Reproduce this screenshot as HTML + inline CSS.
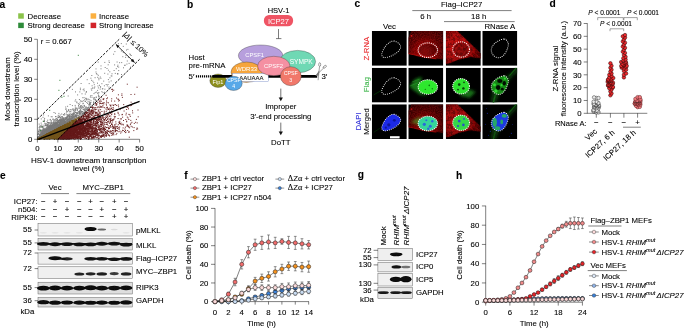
<!DOCTYPE html>
<html><head><meta charset="utf-8"><title>Figure</title>
<style>
html,body{margin:0;padding:0;background:#fff;}
svg{display:block;}
text{font-family:"Liberation Sans", sans-serif;font-size:7.8px;fill:#000;stroke:#000;stroke-width:0.09px;}
</style></head><body>
<svg width="685" height="329" viewBox="0 0 685 329">
<rect width="685" height="329" fill="#fff"/>
<text x="-0.40" y="7.60" style="font-size:10.2px;font-weight:bold;">a</text>
<rect x="18.2" y="13.3" width="5.6" height="5.4" fill="#8bc34a"/>
<text x="27.60" y="18.60">Decrease</text>
<rect x="18.2" y="22.7" width="5.6" height="5.4" fill="#2e8b3a"/>
<text x="27.60" y="28.00">Strong decrease</text>
<rect x="90.6" y="13.3" width="5.6" height="5.4" fill="#fbb040"/>
<text x="99.10" y="18.60">Increase</text>
<rect x="90.6" y="22.7" width="5.6" height="5.4" fill="#d2232a"/>
<text x="99.10" y="28.00">Strong increase</text>
<path d="M43.0 117.3h0M56.2 124.6h0M41.8 136.7h0M43.3 135.5h0M38.8 138.1h0M39.7 137.6h0M51.0 130.8h0M49.6 129.6h0M58.1 126.0h0M41.3 136.3h0M45.8 130.5h0M60.2 121.0h0M49.4 127.6h0M41.5 137.0h0M43.0 135.7h0M39.4 137.2h0M53.7 128.3h0M39.4 136.7h0M39.8 136.6h0M40.4 137.4h0M44.1 128.7h0M56.2 128.5h0M50.1 127.8h0M46.8 133.9h0M41.1 131.9h0M41.6 135.5h0M38.7 138.4h0M48.3 132.5h0M53.0 129.0h0M44.8 133.2h0M38.9 137.6h0M49.9 126.8h0M44.3 130.8h0M53.3 129.0h0M44.0 134.7h0M51.9 128.0h0M38.8 138.0h0M58.9 125.0h0M42.4 136.0h0M46.3 131.1h0M46.1 133.6h0M38.6 136.5h0M54.6 125.4h0M63.7 123.2h0M75.6 108.3h0M57.6 122.7h0M40.8 135.9h0M48.5 131.4h0M43.0 135.2h0M44.1 134.3h0M45.4 134.8h0M52.5 127.1h0M38.7 138.1h0M48.3 132.4h0M58.6 122.6h0M55.4 128.1h0M52.8 130.3h0M77.5 110.7h0M41.3 136.6h0M50.3 131.7h0M54.1 127.4h0M51.1 129.0h0M56.4 127.7h0M89.1 101.9h0M45.3 131.3h0M39.3 138.2h0M49.5 128.7h0M54.8 126.4h0M58.1 125.7h0M52.2 126.6h0M42.1 136.4h0M45.4 132.7h0M76.6 116.1h0M48.1 126.4h0M43.0 134.7h0M42.5 132.7h0M40.8 136.8h0M45.9 134.5h0M45.9 134.1h0M55.2 128.8h0M58.7 127.6h0M45.9 125.0h0M45.7 133.8h0M43.6 134.7h0M46.9 132.7h0M42.9 135.7h0M39.5 137.4h0M42.0 132.1h0M44.2 134.7h0M41.8 135.5h0M41.4 136.9h0M45.2 133.0h0M55.8 125.5h0M52.7 130.1h0M42.6 135.5h0M48.6 131.2h0M48.5 130.6h0M81.8 108.5h0M43.0 126.7h0M48.8 131.5h0M51.1 127.9h0M38.9 137.8h0M65.5 121.6h0M43.9 133.4h0M50.4 129.7h0M50.5 131.3h0M47.4 130.9h0M58.1 126.5h0M43.4 133.8h0M48.8 132.9h0M52.2 130.3h0M46.4 133.6h0M53.8 125.1h0M50.7 128.7h0M64.5 120.4h0M57.2 127.9h0M46.5 134.0h0M38.7 138.3h0M66.1 118.4h0M45.9 133.6h0M45.3 131.3h0M43.1 135.2h0M51.1 129.8h0M40.7 135.7h0M48.2 124.6h0M62.5 117.0h0M56.7 127.0h0M44.5 135.1h0M50.0 130.1h0M54.2 130.2h0M41.3 135.8h0M41.4 136.0h0M43.9 133.0h0M53.2 130.6h0M44.6 132.4h0M57.6 127.2h0M41.8 135.9h0M42.2 136.2h0M44.8 133.7h0M41.9 135.5h0M58.9 125.5h0M43.7 135.7h0M76.2 116.2h0M57.6 123.0h0M40.1 134.7h0M45.5 133.6h0M48.7 131.9h0M53.6 130.2h0M67.1 117.3h0M66.4 120.8h0M51.3 127.5h0M56.1 126.4h0M40.7 137.1h0M40.5 137.2h0M44.9 132.6h0M55.6 126.4h0M46.1 133.7h0M50.0 129.0h0M49.9 127.9h0M57.5 126.0h0M41.8 134.6h0M50.3 130.2h0M44.7 129.3h0M82.0 113.1h0M39.9 137.2h0M45.5 132.8h0M54.6 128.6h0M38.9 134.5h0M61.3 125.5h0M39.1 138.2h0M49.9 131.8h0M38.4 133.3h0M46.1 125.4h0M44.8 135.0h0M61.7 125.9h0M51.3 128.8h0M89.6 104.7h0M50.6 125.5h0M44.1 131.4h0M59.1 127.4h0M56.1 128.2h0M44.3 133.9h0M49.0 129.7h0M58.3 125.1h0M50.6 131.1h0M40.1 137.0h0M69.0 118.8h0M52.0 128.3h0M44.1 134.4h0M42.9 135.1h0M37.8 137.6h0M47.3 132.6h0M44.7 131.5h0M72.7 113.8h0M41.1 137.1h0M40.4 135.8h0M39.2 124.1h0M41.0 137.1h0M50.5 130.6h0M40.8 133.3h0M43.3 133.0h0M43.5 135.3h0M59.8 125.3h0M48.8 132.5h0M73.8 110.5h0M58.5 125.2h0M49.0 130.7h0M42.5 136.3h0M45.5 133.1h0M42.0 132.6h0M41.5 136.5h0M63.8 121.2h0M59.4 124.7h0M79.4 112.4h0M51.9 127.0h0M41.1 136.3h0M51.3 127.0h0M51.7 129.8h0M51.8 131.4h0M48.2 132.3h0M41.9 135.5h0M42.4 135.8h0M40.5 136.4h0M60.8 125.8h0M55.2 129.4h0M45.4 132.2h0M54.7 127.5h0M70.7 118.8h0M47.7 131.1h0M46.2 132.5h0M58.4 125.0h0M62.3 119.8h0M38.3 137.4h0M42.9 135.3h0M95.5 99.3h0M52.5 127.2h0M44.2 132.8h0M54.5 129.6h0M60.5 123.2h0M66.0 108.8h0M37.9 138.9h0M44.4 132.7h0M56.1 116.7h0M79.1 108.5h0M49.1 132.8h0M45.2 133.4h0M54.2 124.1h0M55.5 116.6h0M66.1 123.6h0M44.9 133.3h0M79.9 113.1h0M43.3 133.9h0M47.7 131.7h0M51.5 130.1h0M39.6 138.0h0M51.2 127.1h0M85.8 107.8h0M40.6 137.5h0M55.7 124.6h0M55.8 126.9h0M64.6 121.8h0M57.2 127.7h0M43.4 135.6h0M47.9 132.2h0M45.4 131.6h0M44.0 134.5h0M44.2 134.4h0M46.8 133.5h0M53.2 129.9h0M60.3 122.8h0M45.1 131.1h0M49.3 129.4h0M46.6 132.3h0M50.0 127.8h0M40.3 127.0h0M48.8 128.3h0M62.7 120.3h0M67.9 116.4h0M40.5 136.9h0M69.4 116.2h0M50.7 124.5h0M76.9 108.1h0M52.5 129.5h0M50.2 130.1h0M50.0 131.4h0M67.0 121.0h0M44.9 133.4h0M39.8 137.7h0M39.1 137.3h0M40.5 136.9h0M42.8 133.7h0M52.1 131.1h0M40.7 135.2h0M42.0 136.1h0M47.8 133.1h0M41.9 136.7h0M42.5 136.5h0M73.3 112.1h0M74.7 118.4h0M38.4 136.9h0M54.5 126.8h0M45.4 134.9h0M100.2 89.1h0M51.9 124.5h0M42.3 133.0h0M41.4 136.5h0M47.3 130.2h0M67.1 121.3h0M50.0 125.7h0M62.3 124.2h0M46.5 133.4h0M43.2 135.2h0M61.4 120.2h0M46.3 125.1h0M39.1 138.0h0M46.1 133.4h0M42.1 130.1h0M52.1 129.0h0M47.7 132.0h0M47.4 131.9h0M44.5 134.7h0M59.2 120.4h0M45.2 135.1h0M56.0 125.1h0M40.6 132.1h0M47.9 132.7h0M49.2 131.7h0M73.4 110.0h0M40.4 135.9h0M54.7 127.0h0M46.0 134.2h0M58.5 126.8h0M42.2 135.6h0M62.2 123.5h0M47.5 130.3h0M49.1 131.4h0M41.4 136.2h0M49.0 131.5h0M50.9 131.7h0M41.7 135.3h0M51.1 131.1h0M86.2 106.9h0M44.6 132.1h0M60.6 123.1h0M47.7 133.5h0M42.4 131.7h0M74.7 118.0h0M70.7 121.1h0M46.3 130.6h0M80.1 115.6h0M47.6 131.1h0M45.0 132.9h0M38.3 138.3h0M45.1 131.9h0M49.6 130.5h0M53.6 125.2h0M41.7 135.1h0M44.6 134.3h0M72.5 117.3h0M50.2 127.7h0M45.6 133.0h0M49.5 125.2h0M50.0 127.4h0M72.4 115.6h0M60.6 124.2h0M55.2 129.3h0M56.0 127.9h0M48.7 131.3h0M72.7 118.2h0M86.8 102.5h0M43.2 134.9h0M39.5 137.4h0M45.3 132.4h0M38.4 137.1h0M47.0 125.0h0M56.4 127.4h0M85.5 109.0h0M49.7 131.6h0M39.7 137.0h0M55.9 126.6h0M37.8 138.8h0M42.7 135.0h0M39.7 137.0h0M42.1 134.3h0M61.0 119.5h0M40.8 137.1h0M63.3 119.9h0M47.6 133.3h0M74.5 111.9h0M44.5 130.8h0M47.6 132.7h0M41.4 135.5h0M40.1 137.7h0M47.5 131.8h0M71.6 119.0h0M42.2 134.4h0M53.6 129.1h0M41.3 134.5h0M41.3 136.2h0M50.4 131.1h0M38.3 138.8h0M41.3 135.5h0M55.7 129.2h0M37.9 137.2h0M61.5 120.4h0M54.2 129.9h0M80.3 110.0h0M57.3 119.1h0M42.2 135.3h0M39.7 129.0h0M50.4 132.1h0M51.6 125.7h0M43.4 135.9h0M65.1 122.0h0M39.1 137.9h0M54.3 129.4h0M53.1 127.7h0M37.8 139.0h0M41.8 134.1h0M38.5 137.2h0M44.4 135.1h0M44.5 134.4h0M45.4 132.4h0M55.2 121.0h0M44.3 133.8h0M45.5 130.3h0M81.4 111.1h0M39.6 135.5h0M52.9 125.8h0M63.7 125.1h0M46.5 131.8h0M44.9 134.5h0M43.7 134.6h0M65.6 123.2h0M74.0 113.3h0M51.0 129.9h0M44.9 132.7h0M40.2 137.5h0M40.5 131.8h0M47.6 133.3h0M50.3 131.8h0M75.7 112.5h0M38.8 138.4h0M43.1 134.7h0M61.2 123.2h0M39.6 136.5h0M39.6 136.5h0M42.1 135.7h0M39.6 137.4h0M65.7 123.6h0M43.2 135.0h0M93.9 98.7h0M47.0 130.2h0M40.8 136.5h0M46.5 133.1h0M41.4 135.6h0M41.5 130.3h0M41.3 136.7h0M43.3 134.7h0M57.1 126.0h0M49.6 131.0h0M80.1 107.9h0M42.8 135.0h0M41.1 137.0h0M39.9 137.8h0M64.8 122.9h0M49.9 128.1h0M43.1 133.9h0M41.4 136.7h0M38.5 138.2h0M39.5 136.5h0M53.6 130.0h0M44.1 135.7h0M42.1 134.2h0M47.1 130.5h0M45.4 133.6h0M42.6 136.2h0M53.1 123.6h0M43.6 133.6h0M50.0 123.8h0M48.7 129.1h0M48.9 128.6h0M45.1 134.3h0M72.4 118.2h0M54.6 127.7h0M42.9 135.9h0M38.2 138.4h0M52.4 124.2h0M49.1 131.8h0M43.6 134.5h0M45.1 133.1h0M46.8 133.0h0M45.0 134.7h0M70.3 121.3h0M39.0 137.8h0M44.6 131.8h0M47.6 132.4h0M51.7 122.3h0M40.7 135.9h0M45.9 133.6h0M52.2 129.1h0M69.7 114.6h0M59.5 116.3h0M53.1 128.2h0M39.2 137.1h0M41.1 135.9h0M44.2 131.9h0M41.1 136.7h0M41.8 135.1h0M43.1 134.7h0M43.7 134.4h0M48.5 133.2h0M51.6 129.2h0M39.6 138.0h0M48.8 129.5h0M43.4 135.5h0M72.7 119.8h0M62.7 125.3h0M44.9 132.8h0M46.7 132.0h0M45.4 134.2h0M56.9 125.8h0M43.5 135.5h0M46.2 132.8h0M58.7 124.9h0M63.8 114.9h0M50.2 131.2h0M68.2 118.2h0M66.7 111.4h0M66.6 117.0h0M51.0 128.8h0M63.8 120.9h0M46.8 131.9h0M43.4 134.8h0M44.7 129.7h0M39.1 137.7h0M43.6 135.4h0M48.8 127.1h0M39.0 136.6h0M42.6 136.1h0M50.5 131.5h0M51.8 130.6h0M70.0 119.8h0M64.0 119.1h0M42.9 133.1h0M42.5 135.2h0M44.3 134.8h0M42.8 133.8h0M50.2 127.3h0M56.1 124.9h0M47.1 131.3h0M46.6 131.8h0M42.4 136.6h0M58.8 125.8h0M38.4 137.3h0M57.5 128.1h0M42.5 135.9h0M41.0 136.4h0M51.2 129.2h0M41.4 135.4h0M38.0 137.7h0M41.5 134.5h0M58.3 124.4h0M51.0 129.9h0M43.8 131.0h0M44.8 133.3h0M38.1 138.5h0M52.0 125.8h0M45.2 134.5h0M39.6 137.4h0M43.3 136.0h0M49.3 128.8h0M55.3 124.4h0M42.5 130.7h0M58.0 123.9h0M38.0 138.8h0M56.8 126.3h0M38.8 138.3h0M47.5 130.4h0M73.5 119.8h0M51.6 131.3h0M40.9 136.4h0M41.2 136.6h0M75.8 110.1h0M39.8 137.7h0M94.0 93.6h0M88.7 107.4h0M38.7 137.7h0M41.7 136.4h0M44.8 134.9h0M54.7 123.8h0M43.0 133.5h0M40.3 136.1h0M41.2 136.2h0M54.1 129.7h0M39.1 127.6h0M40.7 135.1h0M48.7 131.2h0M44.1 130.0h0M52.8 129.3h0M67.9 119.2h0M43.7 135.2h0M48.0 129.5h0M55.1 127.9h0M39.0 137.3h0M47.9 133.1h0M43.7 133.0h0M40.2 136.8h0M45.0 135.1h0M41.5 134.6h0M86.0 98.5h0M41.3 118.9h0M108.9 88.9h0M49.5 132.7h0M42.9 133.9h0M38.6 137.7h0M84.0 113.7h0M44.6 134.7h0M40.1 137.3h0M47.0 132.1h0M44.9 134.5h0M40.5 136.5h0M53.9 130.4h0M51.0 130.6h0M44.6 134.3h0M45.9 133.2h0M40.6 136.1h0M44.7 134.3h0M59.5 124.6h0M41.0 136.5h0M44.9 133.6h0M46.0 132.4h0M51.8 125.5h0M40.3 137.6h0M39.0 138.3h0M40.2 137.3h0M46.1 132.3h0M43.0 133.0h0M39.7 137.9h0M57.2 125.5h0M63.1 117.7h0M38.1 138.6h0M57.5 125.7h0M39.8 135.9h0M61.6 122.8h0M38.4 138.2h0M63.6 119.8h0M38.6 138.3h0M44.6 134.1h0M65.6 122.0h0M45.2 133.6h0M44.6 133.8h0M42.0 136.6h0M54.6 126.8h0M45.5 134.3h0M77.9 112.5h0M45.1 134.6h0M49.4 132.4h0M38.9 138.0h0M40.9 136.8h0M42.4 134.6h0M51.8 127.1h0M44.9 134.6h0M58.2 122.4h0M40.0 136.7h0M39.7 132.2h0M42.9 136.2h0M57.6 119.6h0M58.6 117.6h0M46.5 133.9h0M41.7 135.8h0M39.8 134.2h0M60.9 118.0h0M39.2 137.3h0M67.6 111.7h0M39.9 137.3h0M41.6 136.1h0M73.8 113.3h0M39.5 136.4h0M43.6 134.6h0M48.8 131.2h0M43.9 135.1h0M42.6 133.4h0M46.7 133.8h0M52.4 129.7h0M47.0 133.8h0M42.5 135.7h0M47.7 122.7h0M54.7 128.8h0M57.5 124.3h0M66.5 118.1h0M67.3 116.4h0M51.4 131.3h0M38.2 138.0h0M52.7 128.6h0M47.5 132.8h0M62.5 122.6h0M41.9 136.4h0M47.4 133.8h0M49.5 129.5h0M41.0 136.0h0M42.5 134.0h0M67.5 123.0h0M37.9 138.4h0M55.6 122.9h0M39.9 135.5h0M39.9 137.6h0M39.3 136.9h0M60.3 120.1h0M44.6 133.7h0M39.5 137.1h0M66.1 118.4h0M41.4 137.1h0M55.0 123.9h0M66.1 117.5h0M49.7 122.7h0M68.2 119.5h0M44.8 134.2h0M62.7 121.9h0M75.2 116.7h0M76.0 116.7h0M74.7 116.1h0M43.2 134.8h0M57.1 127.2h0M53.3 128.3h0M42.3 134.1h0M79.8 111.6h0M45.6 133.0h0M56.5 123.5h0M41.4 135.7h0M42.6 134.3h0M45.1 131.1h0M49.0 130.1h0M50.4 126.4h0M98.6 96.6h0M60.6 126.1h0M51.0 130.8h0M39.6 137.8h0M49.6 127.7h0M45.2 133.9h0M61.7 114.0h0M39.8 137.7h0M39.3 137.5h0M38.1 138.6h0M48.4 132.7h0M47.0 133.4h0M68.1 115.2h0M75.4 115.4h0M51.4 130.7h0M60.6 125.3h0M101.9 83.7h0M42.5 134.7h0M48.7 132.9h0M46.3 132.8h0M69.3 117.5h0M41.3 134.7h0M54.2 129.9h0M38.7 138.4h0M39.8 138.0h0M44.6 135.0h0M41.6 136.0h0M46.8 133.5h0M45.6 134.6h0M43.2 133.3h0M42.0 135.1h0M56.5 123.6h0M42.7 134.0h0M51.6 126.3h0M47.1 130.2h0M42.9 127.1h0M63.0 124.2h0M72.3 116.2h0M64.3 124.1h0M42.1 135.3h0M54.2 129.9h0M48.5 129.2h0M41.5 134.4h0M42.1 136.0h0M60.1 125.2h0M80.6 106.6h0M42.1 136.7h0M62.0 124.6h0M50.9 131.6h0M43.9 133.3h0M39.8 137.7h0M42.8 135.1h0M48.7 129.5h0M68.1 121.0h0M67.1 119.2h0M41.1 136.5h0M75.6 112.4h0M51.3 125.7h0M40.2 137.3h0M46.8 131.6h0M39.3 137.2h0M54.7 125.2h0M89.7 99.8h0M38.7 138.1h0M44.3 132.1h0M45.1 132.0h0M49.0 128.5h0M43.3 134.7h0M67.7 121.3h0M60.5 124.9h0M55.5 126.7h0M43.6 134.3h0M53.6 129.9h0M41.3 135.1h0M73.0 117.0h0M43.0 134.9h0M51.3 129.6h0M45.1 133.7h0M44.0 134.3h0M46.9 132.8h0M46.5 131.9h0M41.0 135.6h0M44.3 133.2h0M62.5 120.9h0M60.0 126.9h0M38.4 138.4h0M49.9 130.0h0M40.2 137.2h0M54.1 130.1h0M39.0 136.5h0M44.6 131.7h0M46.5 133.2h0M40.9 136.7h0M57.0 127.6h0M46.9 133.7h0M40.6 136.1h0M38.4 136.9h0M46.4 133.6h0M46.5 132.5h0M40.6 137.0h0M37.8 138.9h0M63.8 123.3h0M48.6 132.7h0M38.2 133.9h0M45.4 133.9h0M50.2 129.2h0M93.5 104.0h0M45.6 131.3h0M57.1 124.0h0M38.0 138.9h0M51.4 131.8h0M42.1 134.8h0M52.4 130.9h0M43.2 134.9h0M66.7 122.6h0M49.5 132.6h0M47.7 132.0h0M43.0 135.7h0M60.2 124.4h0M45.9 132.6h0M41.9 135.2h0M38.1 138.2h0M41.8 135.3h0M39.9 137.7h0M49.6 132.1h0M52.6 130.8h0M44.7 133.9h0M59.6 123.9h0M41.1 136.7h0M43.7 129.2h0M41.3 136.5h0M48.8 129.8h0M39.8 137.4h0M49.1 128.6h0M87.8 108.5h0M41.4 133.9h0M49.1 132.1h0M46.0 128.4h0M45.1 134.5h0M50.3 130.2h0M39.6 137.9h0M53.5 128.9h0M43.1 134.8h0M47.3 128.8h0M50.7 125.9h0M46.9 133.1h0M41.0 135.7h0M45.2 131.6h0M44.7 133.3h0M38.4 138.1h0M42.8 135.7h0M45.4 129.0h0M49.6 132.7h0M45.2 133.5h0M43.3 133.6h0M61.0 118.8h0M51.3 123.5h0M52.9 127.1h0M76.1 115.7h0M44.3 133.9h0M46.3 134.1h0M39.1 138.0h0M67.0 120.0h0M76.9 102.7h0M55.0 123.4h0M43.9 133.0h0M38.2 138.8h0M61.3 121.6h0M43.1 134.8h0M43.0 135.6h0M43.8 133.6h0M51.3 129.3h0M40.6 136.2h0M46.3 133.1h0M38.2 137.8h0M62.2 116.7h0M40.2 137.0h0M39.5 137.4h0M63.5 121.0h0M42.1 134.6h0M46.6 130.8h0M52.0 127.1h0M66.0 118.2h0M39.3 136.9h0M43.9 135.4h0M53.1 129.9h0M43.8 131.9h0M45.4 133.0h0M40.3 137.0h0M70.1 111.4h0M69.8 116.1h0M64.1 121.7h0M41.5 136.4h0M39.8 136.5h0M42.7 135.4h0M41.8 135.9h0M40.4 137.2h0M44.6 133.4h0M40.6 137.3h0M78.8 106.3h0M94.0 98.1h0M42.3 136.0h0M55.4 129.0h0M42.9 133.9h0M57.9 128.0h0M41.7 135.9h0M41.4 136.8h0M50.7 126.4h0M47.5 131.4h0M44.4 132.8h0M48.3 132.5h0M41.6 135.8h0M39.1 137.3h0M54.0 122.0h0M56.3 118.5h0M44.4 134.3h0M40.1 137.3h0M48.0 131.7h0M38.6 137.7h0M51.8 129.5h0M55.3 126.0h0M42.5 134.9h0M48.8 128.7h0M67.3 115.8h0M38.9 138.3h0M61.7 125.4h0M46.6 132.9h0M72.0 114.8h0M44.1 135.3h0M40.4 134.7h0M46.0 133.0h0M40.8 135.3h0M47.3 132.9h0M46.8 130.0h0M69.4 116.4h0M41.4 134.7h0M53.6 130.1h0M57.0 123.0h0M38.3 138.2h0M59.5 127.1h0M42.2 136.0h0M47.5 131.8h0M70.4 118.0h0M45.0 133.3h0M42.8 134.6h0M38.7 136.8h0M49.2 128.3h0M42.4 135.3h0M39.2 138.2h0M39.6 137.0h0M48.0 132.4h0M50.6 130.7h0M69.7 111.9h0M41.6 137.0h0M44.7 134.5h0M43.7 133.2h0M40.0 137.7h0M45.7 133.5h0M41.1 131.2h0M42.3 135.6h0M41.3 135.9h0M52.9 129.4h0M42.1 135.8h0M88.8 107.7h0M50.0 129.2h0M44.6 133.6h0M51.2 130.5h0M51.5 123.1h0M46.9 128.5h0M57.4 126.9h0M49.2 131.4h0M51.7 130.5h0M38.9 137.7h0M50.4 129.5h0M39.1 138.1h0M48.9 131.2h0M64.5 123.7h0M40.3 137.7h0M46.3 132.2h0M40.3 136.4h0M50.6 128.8h0M41.6 135.8h0M55.1 129.6h0M38.6 137.4h0M65.0 123.3h0M85.2 101.4h0M51.9 131.0h0M46.8 130.6h0M50.0 128.5h0M38.1 138.7h0M42.5 134.8h0M47.8 124.8h0M42.1 135.7h0M50.9 130.1h0M42.2 136.3h0M45.6 134.0h0M41.9 135.0h0M61.0 124.7h0M49.0 128.7h0M39.4 137.4h0M51.6 128.4h0M50.6 131.6h0M50.3 130.7h0M81.0 111.5h0M43.5 133.6h0M49.9 129.6h0M59.1 126.3h0M39.1 137.3h0M44.4 133.7h0M52.4 128.0h0M38.6 138.6h0M42.3 134.4h0M49.9 132.5h0M41.9 134.1h0M38.3 137.9h0M43.0 136.2h0M43.9 135.3h0M75.3 115.5h0M44.8 133.7h0M46.1 131.7h0M71.4 118.6h0M45.1 131.2h0M55.2 128.8h0M40.4 134.9h0M53.2 128.6h0M43.1 136.0h0M49.8 130.7h0M48.8 131.1h0M70.0 120.7h0M52.9 127.6h0M88.6 104.8h0M41.5 135.9h0M40.3 136.4h0M69.0 120.9h0M41.0 136.0h0M38.5 138.2h0M42.8 135.6h0M48.2 132.1h0M38.3 138.0h0M40.9 136.7h0M47.3 132.0h0M38.5 138.0h0M45.1 133.6h0M44.3 134.7h0M42.0 135.6h0M40.6 137.5h0M74.5 116.8h0M41.3 134.6h0M42.6 135.9h0M45.4 133.8h0M70.2 120.9h0M44.5 134.5h0M38.9 137.9h0M90.1 103.9h0M39.6 138.0h0M40.7 137.0h0M49.4 129.1h0M43.4 130.8h0M44.3 135.1h0M40.4 136.9h0M69.9 121.4h0M50.3 132.1h0M76.2 115.3h0M48.9 127.0h0M41.5 136.8h0M40.2 125.4h0M40.7 137.4h0M48.5 128.4h0M55.1 126.0h0M38.8 138.4h0M60.5 125.2h0M77.8 115.3h0M43.0 135.2h0M48.2 129.0h0M79.0 116.8h0M64.3 120.1h0M46.0 132.2h0M43.1 135.8h0M52.5 126.3h0M44.6 130.6h0M42.4 136.1h0M41.4 133.6h0M60.1 121.5h0M38.9 137.9h0M47.8 133.0h0M40.9 136.3h0M57.5 123.7h0M46.0 133.8h0M50.1 119.9h0M69.0 120.4h0M56.5 128.7h0M51.0 126.7h0M52.7 126.1h0M47.1 131.8h0M39.0 138.3h0M46.0 134.3h0M45.0 132.6h0M41.7 136.8h0M56.8 128.8h0M50.1 131.1h0M49.1 131.5h0M42.3 135.7h0M41.5 135.0h0M54.5 124.3h0M43.5 134.2h0M44.0 131.9h0M44.7 125.9h0M41.9 134.8h0M48.6 129.9h0M38.4 138.4h0M46.9 133.6h0M55.8 123.2h0M67.8 120.8h0M53.0 129.7h0M51.0 122.3h0M39.9 137.1h0M69.5 120.1h0M47.3 125.6h0M55.3 128.2h0M66.1 119.3h0M43.0 134.5h0M51.3 129.3h0M46.6 132.9h0M69.9 114.1h0M49.0 129.9h0M60.1 117.8h0M73.4 119.0h0M43.3 131.5h0M49.4 129.1h0M45.6 134.1h0M56.8 128.2h0M63.0 124.4h0M49.0 128.2h0M61.1 125.2h0M60.7 125.6h0M43.4 134.0h0M40.3 136.4h0M52.2 130.2h0M53.8 129.2h0M39.5 137.5h0M46.5 132.7h0M43.2 135.2h0M52.3 130.2h0M44.7 132.1h0M71.1 119.8h0M49.6 128.7h0M44.2 133.1h0M47.7 128.6h0M37.8 138.0h0M55.2 126.6h0M40.7 134.6h0M42.9 132.5h0M39.3 137.7h0M44.7 130.5h0M41.7 135.6h0M49.8 130.9h0M43.0 135.0h0M41.1 135.4h0M45.7 132.6h0M38.7 138.2h0M41.1 136.5h0M46.6 131.3h0M80.3 113.2h0M44.5 134.3h0M42.0 135.8h0M48.0 133.0h0M48.3 132.3h0M40.8 135.0h0M79.3 104.5h0M70.0 116.9h0M39.7 136.8h0M43.0 135.8h0M72.9 114.8h0M71.8 114.8h0M38.3 132.0h0M56.6 125.7h0M43.1 135.7h0M75.9 116.7h0M38.1 138.2h0M47.0 121.7h0M48.3 132.0h0M66.7 110.3h0M41.4 135.0h0M52.1 130.9h0M46.3 134.4h0M40.2 137.3h0M43.9 135.2h0M53.9 127.4h0M39.3 134.6h0M41.4 135.9h0M42.2 131.8h0M41.7 136.4h0M59.7 125.9h0M41.5 135.6h0M54.8 129.2h0M54.9 128.4h0M38.6 138.3h0M44.7 134.8h0M54.9 124.5h0M58.4 127.2h0M44.0 135.0h0M42.8 136.1h0M43.2 121.3h0M38.5 137.9h0M40.7 137.1h0M41.1 136.4h0M41.7 135.6h0M45.1 132.5h0M44.1 134.9h0M53.6 130.5h0M43.6 134.0h0M42.0 136.7h0M52.9 128.8h0M47.8 133.2h0M41.5 132.3h0M49.5 131.6h0M47.3 133.2h0M45.9 132.8h0M41.1 136.7h0M45.2 133.5h0M71.8 114.7h0M51.2 128.9h0M47.7 128.4h0M45.4 135.0h0M62.9 118.7h0M68.9 114.3h0M39.7 136.8h0M39.3 138.1h0M41.5 136.0h0M43.0 130.3h0M60.1 121.7h0M59.4 126.6h0M46.0 132.0h0M41.9 136.1h0M38.1 138.2h0M42.6 134.2h0M45.4 134.9h0M46.9 130.8h0M48.4 130.8h0M39.5 136.4h0M54.9 129.3h0M45.9 131.3h0M55.8 128.9h0M42.4 134.5h0M54.3 125.6h0M40.5 136.2h0M40.7 136.5h0M42.8 134.5h0M39.1 138.0h0M57.8 127.2h0M41.0 137.0h0M40.7 136.6h0M62.5 122.5h0M48.2 133.0h0M44.0 134.5h0M55.2 125.1h0M41.4 136.9h0M42.1 136.0h0M47.7 133.6h0M50.3 128.8h0M37.9 138.1h0M48.6 133.2h0M43.0 135.1h0M38.1 138.2h0M44.1 132.0h0M54.6 127.2h0M58.5 127.9h0M53.8 129.1h0M50.3 127.2h0M47.9 127.8h0M54.4 126.6h0M69.6 121.3h0M42.0 135.2h0M46.7 133.2h0M75.6 115.5h0M42.6 134.8h0M47.6 132.8h0M84.6 99.8h0M44.0 135.5h0M59.4 123.6h0M78.9 107.8h0M63.9 118.4h0M38.9 130.7h0M50.0 132.4h0M41.5 135.6h0M45.2 134.9h0M46.0 130.4h0M58.1 116.3h0M54.5 125.2h0M79.3 116.7h0M45.2 134.1h0M41.4 137.0h0M47.1 132.3h0M44.1 135.3h0M41.8 136.5h0M44.1 135.7h0M48.2 132.3h0M39.2 137.9h0M42.7 134.9h0M43.9 134.3h0M57.7 126.6h0M45.2 132.9h0M42.8 135.8h0M52.0 126.3h0M82.5 113.8h0M102.4 88.9h0M64.0 118.8h0M49.3 131.9h0M49.6 131.3h0M43.3 135.1h0M89.5 102.2h0M43.6 134.9h0M61.2 123.1h0M60.9 121.6h0M42.7 131.6h0M38.7 137.2h0M61.4 121.8h0M44.0 134.6h0M47.8 131.9h0M49.2 129.1h0M39.4 136.6h0M52.2 116.8h0M60.1 126.7h0M50.7 131.9h0M44.4 134.0h0M39.7 136.1h0M40.3 136.3h0M43.2 134.1h0M49.1 129.4h0M44.4 133.9h0M57.4 123.0h0M40.7 137.5h0M42.1 135.1h0M42.0 136.5h0M47.9 132.1h0M45.7 133.4h0M46.1 134.3h0M65.4 124.0h0M77.2 115.8h0M47.5 128.7h0M38.5 138.3h0M61.7 121.0h0M38.7 137.9h0M39.5 137.3h0M55.1 129.5h0M45.4 132.8h0M40.2 136.9h0M45.8 134.5h0M47.7 130.3h0M79.4 114.7h0M50.8 129.1h0M65.8 122.3h0M46.7 132.9h0M42.5 136.0h0M39.5 137.7h0M54.4 126.1h0M51.6 129.7h0M41.7 136.8h0M57.9 125.9h0M72.7 120.1h0M46.0 131.7h0M46.5 132.2h0M62.1 120.2h0M48.5 128.0h0M50.5 129.0h0M44.1 133.2h0M39.1 138.3h0M44.9 134.7h0M40.4 137.5h0M48.7 130.4h0M56.0 129.0h0M57.7 124.8h0M59.7 127.0h0M40.0 137.1h0M42.0 136.7h0M44.5 134.8h0M57.3 123.5h0M54.9 119.5h0M43.4 134.8h0M63.7 123.2h0M55.0 129.4h0M40.3 137.6h0M44.2 132.7h0M41.3 136.5h0M39.8 137.6h0M74.1 114.0h0M49.1 131.9h0M63.4 124.6h0M42.9 135.9h0M45.6 134.5h0M45.8 132.5h0M52.5 127.3h0M39.2 137.6h0M43.3 134.6h0M41.7 135.6h0M37.8 138.5h0M52.7 129.3h0M41.8 135.9h0M43.6 133.4h0M44.2 134.1h0M52.1 129.0h0M39.7 137.1h0M58.2 121.6h0M45.5 130.6h0M47.7 133.1h0M41.5 135.3h0M38.0 138.4h0M80.6 110.0h0M47.0 130.9h0M39.0 137.6h0M42.8 134.7h0M58.3 126.6h0M40.4 137.0h0M43.5 134.9h0M39.7 137.8h0M60.0 119.3h0M38.5 131.4h0M45.2 132.8h0M40.7 137.3h0M57.1 126.7h0M55.4 113.3h0M53.4 129.5h0M40.5 137.5h0M50.8 130.0h0M59.5 119.8h0M44.4 134.0h0M47.1 132.7h0M44.6 134.3h0M39.1 129.3h0M64.0 120.1h0M43.6 134.1h0M61.0 125.6h0M63.2 123.5h0M46.3 130.9h0M57.7 127.0h0M42.8 133.7h0M44.3 134.5h0M38.3 137.3h0M50.3 130.3h0M39.4 136.8h0M38.7 138.1h0M52.5 130.1h0M82.6 113.6h0M52.5 127.9h0M40.2 137.7h0M45.8 134.3h0M39.1 138.3h0M40.9 137.3h0M56.8 128.3h0M53.0 127.3h0M41.9 136.7h0M44.8 132.8h0M42.5 133.1h0M39.7 138.0h0M53.4 129.2h0M62.6 121.3h0M45.4 133.1h0M44.5 134.1h0M60.2 126.1h0M40.7 135.1h0M42.2 135.7h0M39.7 137.1h0M40.6 137.0h0M50.8 126.9h0M64.0 121.5h0M79.9 113.2h0M40.8 136.8h0M41.7 134.8h0M43.5 130.3h0M45.5 134.3h0M99.6 96.9h0M40.7 136.3h0M46.2 132.2h0M43.2 132.0h0M44.4 133.3h0M49.6 130.9h0M94.0 103.0h0M42.6 135.1h0M43.8 135.2h0M40.3 136.8h0M59.3 126.1h0M94.2 103.4h0M49.7 127.6h0M43.9 135.4h0M48.0 131.9h0M88.6 107.1h0M81.1 107.0h0M40.1 137.5h0M58.5 127.6h0M43.4 133.8h0M50.3 131.1h0M47.6 132.4h0M56.6 128.3h0M44.9 134.8h0M41.8 134.6h0M51.0 130.9h0M45.7 131.3h0M38.7 137.9h0M39.6 138.0h0M42.7 135.6h0M65.3 122.4h0M45.8 131.6h0M39.7 126.9h0M39.6 137.9h0M40.9 134.5h0M69.2 120.7h0M41.8 134.9h0M41.5 132.1h0M72.0 114.8h0M41.6 135.5h0M59.5 125.9h0M43.2 134.3h0M73.0 113.7h0M41.3 137.0h0M59.3 125.3h0M43.9 135.3h0M104.5 92.3h0M56.6 126.6h0M42.2 135.8h0M49.7 127.8h0M45.4 134.7h0M45.6 133.6h0M63.4 119.3h0M58.6 125.7h0M46.6 129.4h0M46.7 132.8h0M44.6 133.3h0M40.2 137.8h0M40.1 137.3h0M71.1 118.3h0M56.7 127.9h0M44.2 129.3h0M45.2 135.1h0M49.8 130.6h0M50.4 128.8h0M44.0 133.9h0M86.9 108.9h0M38.6 138.2h0M46.2 131.6h0M54.9 127.3h0M49.1 130.4h0M73.1 119.7h0M43.6 114.9h0M72.4 118.6h0M46.9 133.3h0M38.2 138.1h0M43.0 135.0h0M42.3 136.4h0M38.3 138.6h0M52.5 125.9h0M38.9 137.7h0M49.3 132.4h0M41.4 136.6h0M53.9 128.0h0M44.3 133.2h0M41.4 137.0h0M71.3 117.1h0M45.8 133.5h0M49.8 131.3h0M44.5 134.1h0M63.6 124.4h0M42.8 133.7h0M47.0 134.1h0M68.6 109.7h0M49.0 131.9h0M61.3 123.6h0M50.0 132.1h0M38.4 138.5h0M40.3 136.4h0M52.1 125.7h0M51.0 129.1h0M40.5 135.5h0M39.0 136.9h0M51.2 130.3h0M40.0 137.0h0M73.5 119.1h0M40.8 137.0h0M60.4 120.1h0M67.0 123.0h0M45.4 134.4h0M53.9 128.8h0M41.3 135.6h0M46.9 131.4h0M75.7 116.5h0M46.9 133.3h0M42.0 135.6h0M43.3 133.7h0M60.6 126.3h0M69.4 115.8h0M39.1 138.1h0M47.6 131.9h0M52.8 124.8h0M38.8 138.0h0M43.2 133.0h0M44.9 132.6h0M42.0 136.5h0M53.2 130.7h0M43.2 134.5h0M39.6 137.7h0M47.2 133.8h0M43.9 135.4h0M44.0 133.5h0M40.6 136.3h0M52.3 127.8h0M49.7 128.1h0M44.8 134.4h0M48.8 130.7h0M61.7 120.5h0M66.1 118.5h0M45.2 134.2h0M63.3 119.3h0M38.7 138.5h0M39.2 138.3h0M39.4 137.2h0M65.2 119.6h0M68.9 120.2h0M42.7 135.5h0M43.4 135.6h0M49.2 130.2h0M38.8 133.5h0M42.0 135.5h0M45.7 131.3h0M60.2 124.9h0M68.9 110.0h0M43.6 132.5h0M42.3 135.8h0M46.0 131.8h0M66.0 122.0h0M38.7 138.5h0M51.7 130.9h0M42.3 135.0h0M48.9 132.6h0M39.8 137.3h0M42.1 135.9h0M52.9 127.9h0M47.1 125.6h0M64.8 120.1h0M40.1 137.4h0M40.5 136.5h0M53.3 127.2h0M98.8 98.2h0M45.9 128.6h0M57.6 127.8h0M65.5 121.8h0M48.8 130.6h0M41.3 136.6h0M44.0 134.4h0M40.9 135.7h0M71.0 117.7h0M49.4 130.7h0M38.4 137.4h0M45.6 129.5h0M48.0 132.9h0M46.8 133.7h0M47.5 124.7h0M79.4 111.6h0M45.5 132.8h0M45.4 134.6h0M37.9 138.9h0M49.2 132.1h0M39.9 137.4h0M47.3 132.7h0M66.2 114.7h0M40.6 135.5h0M70.8 119.1h0M42.3 136.3h0M48.3 130.8h0M42.3 135.1h0M48.7 129.4h0M47.1 131.1h0M55.2 124.2h0M58.0 127.7h0M39.6 137.4h0M43.1 134.6h0M47.8 131.7h0M60.8 117.1h0M43.4 135.5h0M53.9 125.8h0M41.8 136.6h0M38.5 138.5h0M51.4 129.3h0M55.2 127.5h0M55.7 128.6h0M43.7 131.9h0M57.4 128.0h0M57.9 122.0h0M52.2 129.9h0M56.6 124.3h0M41.6 135.6h0M40.3 135.4h0M37.8 139.0h0M44.4 135.3h0M52.9 125.2h0M49.1 129.3h0M49.4 131.5h0M71.5 117.1h0M57.6 127.9h0M48.8 130.4h0M45.2 131.3h0M47.3 133.7h0M44.7 134.4h0M38.1 137.6h0M39.4 137.8h0M41.5 136.9h0M39.1 137.8h0M59.2 122.2h0M45.2 134.2h0M52.4 128.3h0M38.4 138.1h0M68.3 115.9h0M39.0 137.8h0M49.1 130.3h0M78.7 115.8h0M81.3 101.2h0M49.5 130.2h0M60.7 126.5h0M55.6 128.7h0M44.1 134.4h0M39.7 136.6h0M38.5 137.6h0M85.3 111.1h0M54.7 128.2h0M44.2 132.3h0M94.2 97.5h0M43.9 133.6h0M42.6 136.4h0M52.9 129.6h0M43.6 135.4h0M70.0 119.2h0M43.5 133.9h0M57.2 126.7h0M61.9 122.1h0M38.8 137.8h0M72.2 120.1h0M46.2 134.3h0M44.4 119.9h0M45.0 134.2h0M41.9 135.7h0M40.6 135.0h0M90.4 102.6h0M43.4 135.0h0M45.3 131.5h0M92.0 97.3h0M39.4 136.6h0M54.8 128.7h0M39.7 137.7h0M39.5 137.9h0M55.2 129.4h0M42.3 135.4h0M48.6 129.6h0M39.1 137.5h0M50.4 128.9h0M70.2 120.0h0M43.7 135.7h0M53.8 126.6h0M42.7 135.8h0M43.3 136.0h0M54.2 126.8h0M75.6 110.9h0M55.5 127.7h0M39.8 137.5h0M70.7 109.6h0M60.0 126.1h0M46.5 130.2h0M40.1 135.7h0M76.4 115.7h0M44.6 133.1h0M43.4 131.6h0M49.9 131.2h0M52.0 126.2h0M39.3 137.7h0M41.3 137.1h0M43.4 135.6h0M42.5 134.7h0M59.9 123.4h0M38.5 138.6h0M51.0 130.8h0M45.9 131.9h0M55.4 127.4h0M65.9 121.7h0M39.3 137.9h0M56.7 127.6h0M46.0 130.8h0M42.5 136.3h0M47.9 122.5h0M42.4 134.6h0M41.2 136.6h0M53.5 124.7h0M49.4 127.3h0M49.7 131.1h0M70.3 120.6h0M60.2 125.2h0M71.4 119.0h0M46.9 132.1h0M42.3 136.2h0M45.5 125.5h0M67.6 114.7h0M43.3 134.4h0M71.2 116.6h0M44.2 133.5h0M41.7 133.9h0M38.9 137.9h0M51.0 130.8h0M55.6 124.0h0M59.3 123.7h0M39.3 137.9h0M69.3 116.8h0M38.2 137.8h0M41.5 135.8h0M53.0 130.0h0M40.2 135.0h0M71.9 109.9h0M67.1 122.3h0M68.7 115.7h0M63.5 123.0h0M81.8 107.0h0M40.8 136.6h0M47.3 131.4h0M43.5 131.5h0M48.6 131.1h0M38.2 138.4h0M50.7 129.6h0M47.0 132.3h0M49.0 130.6h0M41.5 135.8h0M50.0 131.8h0M40.8 137.3h0M52.8 127.9h0M55.2 124.7h0M44.9 129.3h0M45.6 123.8h0M52.3 126.4h0M41.6 136.4h0M49.5 131.6h0M43.4 133.4h0M50.3 132.0h0M48.3 131.0h0M51.1 131.0h0M56.3 128.9h0M49.5 128.5h0M49.9 131.3h0M48.1 132.6h0M45.5 132.6h0M55.5 127.7h0M51.1 129.2h0M38.6 137.7h0M38.9 138.2h0M62.9 121.5h0M38.3 138.2h0M38.0 139.0h0M49.1 129.9h0M43.6 134.1h0M43.7 134.2h0M43.6 134.4h0M40.6 136.8h0M44.9 134.9h0M51.0 131.9h0M42.2 135.4h0M39.4 137.7h0M56.1 124.9h0M44.4 134.3h0M45.8 133.9h0M38.2 138.3h0M64.4 123.1h0M70.5 121.2h0M64.9 123.1h0M43.7 133.0h0M53.6 129.6h0M41.5 136.8h0M53.3 129.0h0M66.2 122.6h0M61.4 125.0h0M47.3 128.9h0M63.3 125.0h0M41.8 135.8h0M56.7 126.9h0M58.6 120.5h0M57.8 125.7h0M43.2 133.1h0M53.6 128.1h0M47.9 132.4h0M48.4 132.8h0M42.2 136.0h0M40.4 136.5h0M44.7 132.9h0M70.8 120.1h0M75.9 116.7h0M42.5 135.2h0M47.9 128.0h0M61.1 125.3h0M40.3 136.1h0M61.2 119.5h0M44.9 135.3h0M49.4 127.2h0M55.7 129.2h0M38.6 138.6h0M56.8 119.1h0M50.6 130.1h0M40.1 129.8h0M86.5 109.1h0M50.7 127.2h0M42.6 135.3h0M41.3 136.9h0M59.3 116.6h0M51.9 129.3h0M40.3 135.5h0M60.6 125.2h0M45.7 133.6h0M57.6 126.4h0M71.7 120.5h0M64.8 122.8h0M56.0 125.3h0M56.6 122.5h0M72.9 117.6h0M39.5 137.8h0M43.4 135.7h0M59.8 122.3h0M42.9 134.7h0M44.1 135.6h0M42.7 136.0h0M42.8 135.0h0M41.9 134.9h0M49.2 130.3h0M45.9 131.0h0M54.8 120.7h0M89.4 105.0h0M51.3 131.4h0M57.8 127.1h0M46.4 134.0h0M37.9 139.0h0M45.1 132.4h0M52.1 127.2h0M45.6 130.4h0M52.3 129.0h0M41.1 137.2h0M53.5 128.0h0M46.8 132.0h0M54.2 129.2h0M49.7 128.7h0M42.9 132.2h0M85.0 112.4h0M38.1 138.1h0M42.4 135.4h0M43.3 133.3h0M48.9 131.6h0M44.2 133.0h0M50.2 131.4h0M40.9 136.4h0M53.9 126.6h0M45.2 133.7h0M41.1 137.0h0M60.7 124.7h0M39.7 137.5h0M51.6 120.9h0M38.1 137.8h0M83.8 107.9h0M45.4 133.8h0M78.7 111.5h0M43.8 132.8h0M40.0 137.7h0M60.4 125.1h0M54.3 125.7h0M44.8 134.4h0M41.7 135.5h0M83.8 112.7h0M43.0 134.6h0M43.0 135.6h0M75.3 107.0h0M40.0 136.3h0M38.8 138.2h0M51.3 130.8h0M48.8 128.6h0M48.0 128.5h0M44.9 133.5h0M65.1 123.2h0M41.8 135.4h0M45.2 132.9h0M49.3 130.2h0M42.5 135.4h0M46.3 132.8h0M41.4 134.5h0M45.5 134.3h0M59.5 125.2h0M52.5 127.8h0M54.0 122.8h0M74.3 110.9h0M62.1 125.2h0M41.8 136.3h0M75.3 114.4h0M40.2 136.5h0M76.9 113.0h0M49.1 130.8h0M41.3 135.2h0M42.1 134.5h0M60.5 126.4h0M41.9 135.9h0M50.9 128.4h0M39.6 137.7h0M48.0 132.4h0M43.3 135.8h0M73.0 117.6h0M48.9 131.2h0M43.0 134.4h0M54.2 128.0h0M57.1 120.6h0M50.1 129.2h0M50.3 132.2h0M48.5 127.3h0M58.7 117.5h0M48.1 129.4h0M56.8 123.4h0M40.1 137.4h0M43.7 133.8h0M48.2 132.0h0M40.9 136.9h0M52.5 126.8h0M55.4 124.9h0M46.7 132.1h0M53.8 129.0h0M48.0 133.4h0M67.6 122.8h0M47.3 127.2h0M47.9 129.2h0M41.2 134.5h0M42.8 135.5h0M45.4 132.8h0M63.1 123.4h0M67.9 118.9h0M44.7 134.4h0M45.8 132.8h0M82.9 113.3h0M58.4 127.4h0M44.7 134.1h0M56.1 127.3h0M76.5 116.7h0M45.0 134.7h0M57.5 122.1h0M58.9 126.2h0M45.5 134.8h0M51.8 128.4h0M43.1 133.6h0M43.3 134.1h0M58.0 122.3h0M38.8 137.7h0M45.1 133.3h0M91.0 100.7h0M61.5 124.6h0M40.1 137.3h0M43.1 135.9h0M46.5 134.3h0M43.2 135.0h0M48.6 132.8h0M50.5 131.9h0M71.6 120.1h0M41.6 136.3h0M43.9 134.3h0M44.9 135.2h0M58.8 125.5h0M42.3 131.1h0M50.6 130.2h0M46.3 123.7h0M37.9 137.8h0M66.2 122.4h0M49.5 126.0h0M49.6 129.5h0M42.1 136.8h0M40.8 136.7h0M41.3 136.3h0M45.2 132.3h0M42.6 135.5h0M47.8 131.3h0M73.2 109.0h0M48.1 128.2h0M52.6 131.1h0M38.0 139.0h0M40.5 137.1h0M45.5 132.7h0M54.5 127.1h0M40.6 135.3h0M39.8 135.9h0M58.2 126.9h0M44.6 132.2h0M51.5 131.3h0M76.7 117.5h0M39.4 136.6h0M39.2 138.2h0M44.7 134.0h0M39.0 137.6h0M50.1 129.2h0M54.8 127.0h0M50.3 128.2h0M38.8 138.5h0M43.4 135.2h0M61.0 123.1h0M58.8 122.5h0M83.4 109.6h0M38.4 138.7h0M57.9 126.7h0M52.4 130.8h0M52.8 130.3h0M42.8 135.7h0M39.4 137.9h0M43.5 134.8h0M52.6 126.2h0M46.1 134.5h0M47.5 131.4h0M43.4 134.6h0M47.2 134.0h0M46.0 132.4h0M44.6 132.6h0M57.2 122.6h0M41.4 134.3h0M38.9 138.3h0M59.5 123.0h0M49.7 131.2h0M38.4 138.3h0M41.8 135.7h0M38.6 138.2h0M39.8 137.0h0M43.0 134.7h0M65.0 121.9h0M67.0 122.4h0M44.9 131.6h0M55.5 129.1h0M40.4 135.7h0M43.4 135.6h0M41.4 132.6h0M40.6 135.5h0M79.5 113.6h0M40.8 136.7h0M63.5 123.7h0M68.0 121.8h0M39.8 137.2h0M86.1 109.7h0M42.1 135.9h0M57.3 126.8h0M57.8 128.2h0M81.8 113.9h0M79.4 99.5h0M40.2 137.6h0M39.7 137.9h0M45.2 133.4h0M43.1 132.5h0M43.5 135.1h0M54.7 123.1h0M53.7 123.0h0M44.9 132.6h0M76.3 116.7h0M59.7 116.9h0M41.9 136.0h0M44.5 135.4h0M48.9 131.1h0M51.6 131.5h0M42.2 136.1h0M44.9 132.9h0M50.8 128.2h0M37.9 138.2h0M52.0 130.6h0M45.2 133.5h0M49.2 131.7h0M60.2 123.0h0M63.7 122.7h0M63.7 119.3h0M40.3 136.2h0M48.1 133.5h0M54.9 123.4h0M47.6 130.8h0M54.9 128.1h0M53.8 128.4h0M40.9 136.2h0M56.8 127.2h0M61.9 123.9h0M44.7 132.3h0M61.8 124.6h0M42.6 135.9h0M81.8 111.6h0M40.1 134.6h0M50.6 126.2h0M47.2 133.0h0M98.7 95.7h0M54.7 127.3h0M41.4 136.2h0M43.3 134.8h0M45.7 130.0h0M41.6 136.5h0M45.6 134.4h0M40.2 137.7h0M39.8 136.5h0M59.0 124.6h0M69.7 118.6h0M61.5 125.5h0M47.3 131.6h0M40.0 136.8h0M49.0 129.7h0M46.0 133.6h0M48.2 132.4h0M50.2 129.9h0M58.8 125.4h0M45.6 133.8h0M57.2 124.0h0M38.0 138.7h0M43.2 133.9h0M73.6 114.6h0M44.6 133.9h0M56.8 126.0h0M92.0 105.2h0M53.8 120.9h0M44.0 135.4h0M40.4 137.6h0M44.8 134.0h0M40.0 137.7h0M45.9 132.4h0M38.7 137.3h0M55.1 127.7h0M68.5 121.4h0M74.9 117.3h0M38.8 138.1h0M51.1 127.0h0M40.1 135.5h0M46.9 129.1h0M40.6 136.7h0M38.4 138.6h0M48.3 126.4h0M53.4 127.8h0M54.6 125.2h0M53.1 129.7h0M51.2 116.7h0M115.3 73.4h0M43.2 135.0h0M39.9 130.5h0M53.9 128.8h0M70.9 111.3h0M50.1 130.8h0M57.5 126.2h0M42.8 135.4h0M47.8 131.1h0M76.3 118.0h0M54.6 129.9h0M60.9 124.0h0M41.8 135.0h0M40.4 137.0h0M56.8 122.6h0M48.2 130.8h0M70.5 120.0h0M56.2 121.0h0M38.6 138.6h0M56.3 125.8h0M38.3 137.4h0M62.0 118.5h0M54.3 129.2h0M39.3 138.0h0M84.8 106.5h0M47.6 133.1h0M39.6 137.1h0M38.6 137.6h0M45.2 134.5h0M58.2 127.3h0M51.4 127.9h0M40.9 136.7h0M39.4 137.0h0M50.7 130.1h0M44.8 133.4h0M39.4 136.9h0M77.6 117.4h0M43.5 134.3h0M55.0 125.4h0M62.3 118.0h0M45.4 133.6h0M41.2 136.4h0M40.7 137.0h0M46.3 134.0h0M58.4 121.0h0M40.8 137.2h0M46.4 127.1h0M40.3 135.7h0M46.7 132.2h0M56.7 128.2h0M54.5 126.7h0M71.2 114.4h0M45.0 134.1h0M38.4 137.9h0M43.0 135.5h0M45.4 130.8h0M64.0 121.9h0M55.2 125.7h0M72.2 116.3h0M64.6 113.6h0M50.6 132.1h0M43.8 135.3h0M39.3 137.3h0M43.5 135.2h0M73.3 119.4h0M47.3 131.6h0M49.9 132.3h0M51.0 131.2h0M49.9 130.9h0M45.0 133.8h0M49.6 126.8h0M56.7 125.8h0M48.0 131.4h0M43.1 134.8h0M54.5 129.8h0M46.1 132.9h0M48.8 130.9h0M87.4 109.2h0M64.4 121.5h0M56.0 126.4h0M42.0 135.3h0M60.4 120.6h0M47.9 130.5h0M46.7 132.8h0M52.9 129.5h0M49.4 131.1h0M59.5 120.4h0M42.6 135.6h0M46.8 132.8h0M47.5 126.4h0M43.7 132.8h0M43.9 135.5h0M53.2 129.1h0M55.6 129.2h0M46.6 133.3h0M46.2 133.4h0M44.0 133.5h0M65.8 109.3h0M45.3 133.1h0M39.9 137.9h0M65.7 107.0h0M79.7 113.4h0M46.2 134.4h0M54.0 112.5h0M38.7 131.8h0M54.7 129.3h0M54.4 129.9h0M42.7 135.8h0M47.1 131.6h0M38.9 137.1h0M53.9 129.6h0M51.1 126.2h0M60.4 125.2h0M44.6 135.1h0M42.1 127.1h0M38.7 138.4h0M44.9 134.6h0M48.4 132.7h0M50.3 127.2h0M47.7 133.1h0M45.1 132.0h0M62.6 119.6h0M96.3 97.1h0M47.1 132.6h0M48.3 130.1h0M51.1 131.2h0M39.9 137.7h0M50.2 131.1h0M42.1 134.4h0M59.1 120.9h0M39.0 137.8h0M61.3 125.1h0M41.8 135.7h0M52.8 125.3h0M46.3 132.5h0M67.8 116.8h0M43.2 128.9h0M45.0 131.9h0M47.6 131.5h0M43.8 132.7h0M43.8 134.7h0M41.5 135.0h0M44.7 135.2h0M40.4 136.9h0M40.5 136.6h0M43.2 134.4h0M53.7 128.0h0M51.5 130.2h0M52.1 127.6h0M60.8 125.1h0M52.9 129.2h0M46.1 133.8h0M57.2 127.0h0M57.7 127.6h0M57.0 127.9h0M41.2 123.1h0M42.6 129.9h0M47.5 132.1h0M55.9 125.3h0M40.1 136.6h0M38.8 136.9h0M42.8 130.9h0M68.5 119.4h0M50.3 130.7h0M44.9 132.0h0M41.5 135.9h0M59.5 127.3h0M40.5 137.4h0M44.5 121.5h0M44.0 134.4h0M54.8 129.3h0M54.6 130.0h0M50.2 131.5h0M45.5 132.6h0M40.6 136.1h0M53.3 128.1h0M46.1 134.4h0M53.9 129.7h0M54.0 126.4h0M47.3 130.7h0M40.2 136.1h0M48.3 133.1h0M59.1 126.2h0M38.3 137.9h0M44.3 134.2h0M54.8 124.9h0M44.0 132.5h0M40.1 136.3h0M45.4 134.7h0M48.2 132.0h0M82.0 112.6h0M40.1 126.8h0M47.1 132.6h0M51.3 129.9h0M42.8 133.8h0M55.5 127.2h0M46.4 129.5h0M40.5 136.8h0M56.7 128.5h0M40.9 135.6h0M42.5 134.9h0M40.2 136.8h0M41.5 136.7h0M42.2 135.4h0M38.7 137.9h0M43.0 135.9h0M67.7 118.1h0M44.3 134.5h0M50.7 131.8h0M52.5 130.9h0M66.4 120.2h0M60.4 121.3h0M40.8 136.5h0M42.8 134.2h0M38.8 137.6h0M49.9 132.0h0M40.9 135.4h0M48.2 122.5h0M44.6 135.4h0M41.6 136.8h0M38.3 136.6h0M55.9 125.2h0M45.5 130.6h0M41.1 135.5h0M46.4 133.9h0M46.8 134.2h0M44.4 133.3h0M58.2 121.9h0M42.9 135.8h0M57.5 119.7h0M58.2 124.0h0M43.7 133.2h0M43.6 135.7h0M63.9 123.8h0M52.9 119.4h0M39.9 137.4h0M45.1 133.1h0M39.8 136.8h0M51.3 130.6h0M49.5 132.6h0M57.7 120.9h0M37.9 137.9h0M57.8 126.3h0M40.6 136.9h0M52.3 128.5h0M52.9 127.6h0M59.1 126.1h0M57.3 123.2h0M41.5 137.0h0M39.6 137.8h0M38.6 137.4h0M42.7 135.9h0M42.2 136.0h0M41.0 136.0h0M54.9 127.0h0M45.9 131.1h0M44.3 133.5h0M42.8 135.6h0M40.1 137.0h0M61.4 120.1h0M45.2 132.6h0M45.4 131.7h0M53.8 128.4h0M68.3 115.8h0M52.6 129.8h0M47.2 131.0h0M39.6 137.9h0M53.1 119.0h0M61.1 125.7h0M50.9 120.9h0M53.1 130.4h0M45.3 133.7h0M39.1 131.4h0M44.1 133.8h0M39.6 137.9h0M40.8 136.5h0M42.9 135.0h0M88.0 101.2h0M50.5 130.7h0M41.5 136.4h0M85.0 110.9h0M50.9 129.6h0M44.5 134.8h0M52.2 128.8h0M39.0 137.8h0M48.3 132.9h0M56.7 125.8h0M49.7 130.1h0M51.2 131.1h0M39.0 137.0h0M45.7 131.3h0M51.1 131.2h0M38.7 137.8h0M61.1 122.1h0M39.7 136.9h0M57.4 124.2h0M39.7 137.9h0M46.9 133.0h0M44.5 133.2h0M51.0 131.2h0M52.2 129.8h0M49.8 132.0h0M49.8 130.8h0M42.7 135.4h0M38.7 138.5h0M43.8 135.5h0M64.4 114.9h0M53.7 128.3h0M56.2 123.3h0M50.1 126.9h0M41.0 136.5h0M63.8 121.7h0M49.8 132.5h0M51.9 131.1h0M47.8 125.7h0M39.6 137.4h0M60.6 125.0h0M50.7 129.5h0M47.5 129.2h0M43.9 133.1h0M38.1 138.8h0M46.5 133.5h0M79.9 110.8h0M49.7 131.0h0M45.8 133.4h0M42.8 135.4h0M79.8 112.7h0M45.2 124.7h0M70.7 120.2h0M53.9 130.2h0M50.2 127.1h0M40.9 134.0h0M41.4 136.6h0M80.4 100.9h0M37.9 134.7h0M41.8 134.1h0M69.0 122.1h0M40.6 136.5h0M46.4 130.8h0M74.7 116.9h0M45.6 134.4h0M49.9 130.1h0M78.1 115.5h0M46.7 134.0h0M41.4 136.9h0M69.6 119.1h0M49.0 130.4h0M56.0 122.6h0M41.7 135.8h0M48.2 128.6h0M60.7 126.6h0M53.5 128.2h0M46.3 127.2h0M41.7 136.2h0M41.1 135.5h0M40.8 136.0h0M40.4 137.2h0M41.9 130.7h0M58.3 115.3h0M67.5 120.4h0M66.5 122.4h0M39.5 136.9h0M48.4 115.9h0M49.1 128.0h0M90.9 102.4h0M50.3 129.1h0M42.7 135.3h0M42.2 136.6h0M73.5 117.1h0M40.6 136.5h0M49.1 132.5h0M55.9 126.3h0M45.4 130.9h0M50.9 130.0h0M43.8 135.8h0M104.9 89.2h0M53.8 128.9h0M40.5 136.4h0M47.5 130.0h0M43.4 134.1h0M70.9 113.2h0M40.3 137.2h0M39.6 138.0h0M44.4 134.7h0M38.0 138.3h0M65.7 123.3h0M47.6 133.7h0M56.7 127.2h0M40.0 136.8h0M48.0 131.6h0M52.5 130.8h0M42.2 136.4h0M45.1 130.1h0M79.9 113.7h0M38.7 138.3h0M65.9 117.7h0M42.7 135.9h0M55.1 128.4h0M56.0 121.2h0M44.2 129.4h0M44.6 134.5h0M46.2 132.6h0M43.8 135.2h0M49.9 131.5h0M41.5 135.6h0M40.9 135.1h0M79.6 111.4h0M41.6 133.9h0M44.2 134.0h0M43.1 136.1h0M41.3 135.1h0M69.7 119.8h0M42.3 133.1h0M47.1 127.6h0M42.1 133.8h0M50.6 129.2h0M40.3 136.1h0M53.5 123.1h0M42.3 136.2h0M41.8 134.0h0M89.9 103.8h0M56.9 128.0h0M46.0 133.4h0M43.1 136.2h0M42.5 135.2h0M41.3 136.1h0M76.7 116.9h0M51.6 129.4h0M45.8 134.1h0M59.8 127.0h0M44.7 123.2h0M42.6 134.1h0M49.9 132.2h0M48.7 131.4h0M39.5 137.7h0M58.9 113.4h0M42.3 135.9h0M54.8 129.0h0M48.6 125.9h0M45.0 133.9h0M41.0 137.1h0M40.5 135.7h0M62.0 121.3h0M47.0 131.5h0M48.1 131.4h0M59.0 126.8h0M49.9 132.6h0M39.8 135.9h0M54.7 126.3h0M41.2 136.7h0M60.0 125.9h0M41.6 135.5h0M50.6 131.7h0M56.7 124.8h0M50.2 131.6h0M47.4 133.6h0M39.8 136.3h0M46.7 132.8h0M48.1 133.2h0M41.6 136.5h0M55.3 122.9h0M60.6 125.9h0M46.1 132.1h0M43.4 134.8h0M46.5 133.1h0M41.2 136.8h0M38.8 138.1h0M47.9 130.5h0M48.3 123.1h0M48.4 128.8h0M78.7 113.0h0M43.5 129.3h0M39.7 136.8h0M40.3 136.8h0M40.0 137.1h0M47.8 131.9h0M39.8 136.0h0M53.9 129.8h0M40.5 136.6h0M58.7 127.2h0M44.1 130.2h0M43.7 134.5h0M62.1 123.1h0M44.6 133.0h0M68.8 119.4h0M44.1 132.4h0M45.6 133.5h0M52.2 123.2h0M80.7 109.1h0M41.5 125.1h0M58.4 125.5h0M63.8 122.8h0M47.4 131.4h0M41.7 136.9h0M41.5 136.0h0M39.1 137.9h0M41.4 136.8h0M39.2 137.0h0M56.2 128.9h0M48.6 128.4h0M41.0 136.6h0M53.0 122.5h0M38.5 138.6h0M52.6 130.1h0M60.0 126.7h0M52.4 130.3h0M52.7 126.5h0M60.4 126.4h0M46.1 133.2h0M43.6 135.6h0M44.6 131.6h0M47.0 130.8h0M71.3 119.1h0M56.8 127.9h0M69.1 117.4h0M45.4 133.6h0M39.0 137.2h0M63.6 119.6h0M40.8 136.5h0M41.6 135.6h0M71.1 116.3h0M43.6 134.8h0M71.3 116.5h0M43.7 135.0h0M56.7 128.3h0M49.1 125.8h0M42.7 126.5h0M40.5 136.7h0M38.4 137.7h0M45.1 135.0h0M45.0 134.6h0M53.6 126.9h0M59.4 124.4h0M49.1 123.1h0M41.6 132.7h0M41.8 136.7h0M38.9 137.8h0M62.2 123.9h0M42.4 135.1h0M63.2 120.9h0M38.1 138.9h0M44.8 133.8h0M41.7 136.3h0M47.9 131.1h0M39.3 136.5h0M39.1 138.4h0M42.4 135.4h0M57.2 125.6h0M58.8 127.4h0M93.5 102.6h0M42.7 135.5h0M42.0 135.6h0M38.6 138.2h0M57.9 126.1h0M56.6 127.3h0M41.7 134.2h0M60.6 124.3h0M42.3 135.5h0M65.6 123.3h0M48.5 131.3h0M74.9 109.2h0M43.3 130.6h0M51.7 127.7h0M46.4 132.4h0M52.2 130.7h0M39.6 137.5h0M41.5 136.6h0M58.2 122.7h0M46.1 134.2h0M62.5 125.1h0M50.1 127.9h0M80.3 112.2h0M44.0 134.7h0M39.8 137.4h0M77.8 113.0h0M42.1 136.2h0M44.2 133.2h0M40.1 137.5h0M56.3 120.3h0M55.7 125.7h0M43.1 135.2h0M63.7 120.1h0M55.5 124.0h0M48.9 133.1h0M63.4 114.6h0M51.1 126.8h0M56.9 128.6h0M53.3 129.2h0M63.6 124.8h0M40.5 136.3h0M51.8 127.0h0M46.9 133.6h0M41.1 136.1h0M40.3 133.3h0M60.4 117.7h0M39.0 138.1h0M43.0 128.1h0M47.2 132.7h0M84.9 108.4h0M43.4 134.0h0M71.6 120.5h0M57.0 126.6h0M65.8 119.7h0M49.3 131.1h0M46.3 132.6h0M45.4 134.6h0M46.2 133.1h0M63.7 123.4h0M55.8 124.5h0M50.3 131.3h0M63.8 124.5h0M39.4 137.7h0M64.9 122.4h0M45.7 134.6h0M39.8 137.4h0M51.8 128.9h0M47.3 133.8h0M62.7 123.7h0M51.2 129.7h0M61.8 124.7h0M45.6 130.8h0M78.7 116.9h0M38.7 136.9h0M39.5 138.0h0M41.7 134.9h0M60.6 126.1h0M60.8 125.6h0M54.5 127.5h0M89.6 103.9h0M38.7 138.3h0M63.9 119.8h0M55.7 122.8h0M38.7 138.2h0M65.5 119.8h0M62.7 122.6h0M60.3 120.3h0M44.1 133.9h0M57.3 123.5h0M41.1 136.8h0M66.1 122.6h0M84.5 109.8h0M50.1 126.1h0M46.4 129.5h0M40.5 136.8h0M65.0 118.8h0M52.8 130.1h0M41.2 136.9h0M48.1 132.4h0M69.3 118.2h0M76.5 114.1h0M40.5 136.6h0M52.4 130.6h0M48.2 128.3h0M38.2 137.7h0M50.4 131.3h0M41.1 136.2h0M52.2 126.0h0M40.5 134.8h0M59.8 127.2h0M39.5 136.3h0M45.0 131.9h0M82.5 111.5h0M40.5 137.4h0M52.0 129.1h0M47.9 133.2h0M48.8 126.7h0M47.8 131.9h0M90.4 104.1h0M47.5 131.9h0M41.6 136.5h0M41.1 137.1h0M77.2 109.0h0M59.6 126.9h0M58.0 126.9h0M85.3 111.2h0M55.5 125.7h0M65.4 123.5h0M43.8 133.9h0M54.7 127.0h0M51.1 130.7h0M44.6 131.4h0M46.3 133.7h0M45.6 131.5h0M41.0 136.5h0M42.0 134.9h0M54.9 122.2h0M40.3 136.1h0M46.5 131.2h0M43.5 135.4h0M44.0 133.1h0M40.7 136.2h0M46.8 132.3h0M62.3 120.2h0M40.5 136.7h0M47.0 132.6h0M49.2 128.9h0M41.7 136.6h0M54.5 124.5h0M61.0 120.4h0M50.0 126.6h0M60.8 121.4h0M65.7 123.0h0M58.7 127.6h0M38.9 137.4h0M40.5 137.3h0M60.3 124.4h0M47.2 130.0h0M64.9 123.5h0M41.3 136.0h0M66.1 122.8h0M40.9 136.9h0M44.5 132.9h0M43.8 133.3h0M40.8 137.2h0M46.4 133.7h0M41.3 136.9h0M54.6 127.7h0M69.8 118.9h0M43.1 133.7h0M48.2 131.4h0M50.4 119.4h0M53.5 130.6h0M50.8 127.2h0M67.5 117.2h0M40.3 137.4h0M45.8 132.0h0M47.1 132.3h0M65.8 122.7h0M40.6 135.9h0M53.4 125.4h0M44.7 134.2h0M83.1 109.7h0M41.4 135.9h0M56.8 123.2h0M77.9 113.9h0M40.3 135.3h0M42.9 133.7h0M53.6 124.1h0M40.1 136.7h0M51.6 128.0h0M45.0 133.4h0M49.1 129.6h0M60.6 126.6h0M52.0 130.9h0M39.5 137.9h0M41.7 133.5h0M54.5 124.5h0M42.7 135.7h0M82.9 106.8h0M43.7 133.1h0M45.0 134.3h0M46.2 130.1h0M74.0 117.2h0M59.5 123.1h0M41.2 136.2h0M48.7 129.7h0M44.8 133.3h0M63.1 118.7h0M40.7 137.4h0M74.7 113.1h0M43.2 135.4h0M43.6 135.5h0M40.8 136.4h0M55.1 129.5h0M48.1 133.5h0M41.1 136.3h0M40.0 136.6h0M51.3 130.6h0M67.4 119.4h0M40.6 136.2h0M63.5 119.3h0M55.3 128.8h0M40.0 137.5h0M49.4 130.0h0M47.1 133.3h0M43.7 132.7h0M49.9 131.1h0M45.4 133.8h0M38.7 137.4h0M40.0 136.3h0M57.9 121.3h0M49.1 131.3h0M45.1 130.3h0M53.9 126.8h0M45.1 135.0h0M47.5 130.7h0M43.3 135.0h0M53.7 128.0h0M43.3 135.6h0M52.8 129.8h0M65.6 123.5h0M76.2 108.3h0M41.2 134.1h0M39.5 138.1h0M41.5 136.4h0M40.9 136.5h0M61.7 125.3h0M73.7 113.2h0M53.4 125.3h0M44.9 133.4h0M55.9 124.3h0M44.5 120.7h0M49.9 132.3h0M39.6 138.1h0M42.0 134.7h0M45.9 134.6h0M44.8 133.4h0M39.2 135.0h0M45.2 131.7h0M39.9 137.1h0M40.7 135.7h0M53.5 127.9h0M75.9 116.5h0M59.5 126.7h0M43.0 134.6h0M40.8 136.8h0M43.7 135.1h0M43.8 135.4h0M50.3 131.7h0M43.7 135.5h0M56.2 125.8h0M53.2 124.8h0M41.8 126.6h0M72.7 109.1h0M67.0 121.3h0M57.5 125.1h0M45.1 134.1h0M42.7 135.1h0M43.2 132.8h0M48.9 131.3h0M45.9 134.4h0M87.4 107.6h0M45.2 131.7h0M55.7 127.3h0M52.1 130.2h0M63.5 123.6h0M49.8 131.7h0M39.1 136.9h0M55.8 124.3h0M39.5 137.6h0M86.1 107.5h0M51.8 129.2h0M46.1 133.5h0M48.6 122.5h0M45.6 133.3h0M48.6 130.5h0M45.0 133.1h0M50.6 128.1h0M41.0 136.2h0M40.9 136.9h0M49.5 129.8h0M42.6 134.9h0M53.5 122.0h0M42.5 135.9h0M50.4 131.0h0M45.3 132.7h0M41.9 134.8h0M45.4 132.0h0M39.0 137.4h0M48.5 132.2h0M43.3 132.9h0M77.2 113.1h0M43.9 134.2h0M51.7 126.0h0M57.4 122.5h0M44.6 134.5h0M47.8 128.5h0M53.3 129.5h0M45.7 134.3h0M40.0 126.9h0M56.1 126.7h0M53.5 124.7h0M58.6 124.6h0M41.8 135.7h0M39.4 137.6h0M50.9 125.0h0M41.5 136.2h0M49.1 129.4h0M50.2 132.1h0M47.2 129.0h0M52.2 130.5h0M51.3 129.6h0M54.3 130.2h0M50.2 129.9h0M61.4 122.6h0M46.5 134.3h0M57.7 125.1h0M59.1 127.0h0M38.3 137.7h0M70.3 115.7h0M42.2 136.4h0M50.0 132.2h0M42.5 135.3h0M50.5 128.7h0M61.2 126.4h0M47.3 131.3h0M45.8 131.8h0M65.3 120.9h0M59.0 127.4h0M38.7 137.9h0M42.3 136.1h0M52.7 128.1h0M42.3 134.6h0M42.3 134.0h0M54.8 127.7h0M40.3 136.8h0M53.0 126.5h0M68.0 119.3h0M40.6 136.7h0M38.4 138.5h0M60.2 115.0h0M54.9 127.7h0M73.3 118.0h0M48.8 132.6h0M71.0 116.9h0M49.1 130.7h0M40.8 136.6h0M49.1 131.5h0M49.2 130.7h0M47.1 133.4h0M96.9 100.3h0M74.7 115.1h0M51.9 129.1h0M39.7 135.8h0M62.6 124.4h0M44.9 134.7h0M56.5 128.9h0M46.0 133.6h0M43.7 134.2h0M43.6 134.7h0M54.1 126.1h0M41.5 135.4h0M45.9 133.2h0M72.1 119.9h0M68.5 110.7h0M61.4 125.8h0M47.8 133.0h0M42.9 134.9h0M40.6 136.2h0M64.1 117.6h0M40.0 137.2h0M60.0 127.1h0M44.8 134.5h0M39.4 136.2h0M48.3 130.5h0M45.8 130.6h0M41.5 135.9h0M40.6 136.9h0M43.8 129.7h0M44.9 134.4h0M53.1 127.2h0M44.9 131.9h0M53.6 130.5h0M53.4 124.0h0M47.7 131.4h0M54.3 124.8h0M47.9 132.9h0M37.9 138.8h0M48.2 132.0h0M42.6 134.3h0M49.0 129.9h0M67.5 119.7h0M41.9 135.6h0M56.5 126.0h0M54.1 127.5h0M51.1 130.8h0M38.7 138.6h0M57.0 126.8h0M48.0 128.3h0M48.1 123.9h0M63.3 123.6h0M50.7 127.6h0M68.9 121.4h0M50.3 125.5h0M64.5 122.4h0M40.6 137.4h0M42.4 135.3h0M59.0 124.9h0M57.0 127.7h0M39.7 135.8h0M43.5 134.1h0M55.6 126.5h0M47.5 130.5h0M42.6 136.4h0M39.4 136.6h0M50.8 128.4h0M43.9 128.1h0M49.6 130.1h0M43.3 135.3h0M39.7 137.7h0M56.1 126.9h0M44.1 134.5h0M39.6 137.6h0M39.8 135.3h0M48.8 130.2h0M61.6 116.8h0M43.8 131.9h0M43.7 131.2h0M40.5 137.4h0M44.3 134.9h0M47.7 120.2h0M58.2 126.8h0M40.1 137.7h0M42.8 135.9h0M54.0 126.2h0M55.0 129.5h0M50.8 127.7h0M42.2 127.4h0M40.1 137.6h0M41.3 135.9h0M38.6 138.1h0M56.1 125.3h0M56.5 128.9h0M57.2 122.3h0M46.9 129.8h0M52.6 129.6h0M44.1 134.3h0M39.9 136.2h0M51.1 127.8h0M49.4 131.5h0M55.5 126.4h0M39.2 137.0h0M43.9 133.7h0M65.1 122.2h0M59.7 122.5h0M48.6 131.4h0M46.8 133.8h0M57.8 126.0h0M50.7 123.1h0M41.7 136.0h0M50.0 130.6h0M41.6 134.7h0M74.2 119.2h0M47.7 130.3h0M59.5 122.4h0M46.9 132.7h0M62.9 124.7h0M65.9 119.4h0M47.4 133.7h0M53.8 120.0h0M51.4 131.2h0M42.6 135.1h0M53.7 127.0h0M88.4 99.2h0M45.5 134.5h0M40.1 136.8h0M43.2 134.0h0M49.4 132.5h0M49.1 130.3h0M43.2 134.3h0M51.2 129.5h0M39.0 138.2h0M51.0 128.3h0M55.7 127.8h0M40.1 135.7h0M42.2 135.4h0M47.9 133.4h0M54.9 127.6h0M42.2 136.0h0M44.0 134.0h0M44.2 134.5h0M44.7 130.8h0M47.9 132.3h0M48.1 132.5h0M43.7 132.7h0M49.7 132.0h0M42.5 136.4h0M41.1 136.9h0M46.1 131.3h0M39.6 137.4h0M47.8 125.6h0M38.9 137.7h0M83.8 113.0h0M46.8 131.1h0M55.5 128.4h0M51.5 131.2h0M39.4 137.8h0M57.9 124.6h0M43.8 134.9h0M66.4 112.9h0M50.8 129.1h0M54.7 127.9h0M40.4 136.8h0M45.6 132.7h0M43.1 125.2h0M68.3 119.6h0M90.3 106.8h0M55.3 126.0h0M52.1 129.1h0M42.4 136.1h0M48.9 132.0h0M43.8 134.3h0M57.7 124.0h0M55.6 119.2h0M86.7 109.3h0M40.4 136.8h0M42.8 134.8h0M60.8 123.3h0M55.9 124.1h0M44.3 134.5h0M46.0 134.0h0M52.9 126.8h0M73.6 116.5h0M93.9 99.7h0M73.5 116.2h0M42.9 134.1h0M41.1 135.8h0M41.9 136.8h0M70.0 121.1h0M45.7 132.4h0M39.7 137.7h0M54.4 126.2h0M41.9 136.4h0M52.6 130.5h0M45.4 134.7h0M46.8 129.6h0M43.3 134.4h0M56.5 128.2h0M61.9 126.0h0M85.8 110.0h0M40.2 137.6h0M61.4 120.1h0M42.4 130.9h0M43.3 133.9h0M45.5 133.9h0M41.8 133.8h0M58.8 120.4h0M44.3 134.2h0M46.9 134.2h0M48.9 133.0h0M50.9 130.6h0M61.3 123.7h0M43.5 134.3h0M51.9 129.6h0M50.4 131.1h0M60.3 121.1h0M55.8 128.5h0M52.7 128.1h0M43.4 134.5h0M50.3 130.1h0M40.6 136.1h0M49.2 132.3h0M38.3 138.8h0M39.0 138.1h0M52.4 126.2h0M51.5 131.7h0M40.4 136.9h0M47.0 129.8h0M53.9 129.0h0M47.1 132.7h0M47.2 130.3h0M66.6 122.5h0M66.2 118.1h0M52.1 129.5h0M39.4 137.6h0M39.5 136.8h0M51.5 129.7h0M39.7 137.1h0M48.3 132.2h0M73.0 116.7h0M47.3 132.1h0M44.1 133.9h0M54.6 124.6h0M48.3 132.5h0M55.4 129.0h0M48.9 126.7h0M54.8 127.1h0M54.3 129.6h0M51.9 129.9h0M66.1 117.4h0M54.6 129.4h0M43.6 134.3h0M81.2 114.8h0M56.8 124.9h0M42.8 130.8h0M71.9 116.6h0M53.3 129.5h0M41.4 135.7h0M45.2 135.1h0M43.1 134.2h0M49.2 128.7h0M40.3 136.3h0M41.8 133.9h0M38.7 137.8h0M38.7 138.5h0M39.3 138.2h0M82.9 103.8h0M55.2 124.7h0M38.0 138.7h0M48.6 132.2h0M49.9 131.0h0M42.0 136.4h0M47.0 131.1h0M40.6 137.4h0M53.9 128.4h0M41.2 137.1h0M64.4 123.6h0M41.2 135.5h0M40.3 136.4h0M43.5 135.9h0M48.3 132.8h0M40.6 136.3h0M40.3 137.6h0M39.4 137.1h0M57.8 117.7h0M45.9 131.3h0M40.0 137.8h0M44.6 118.4h0M63.6 122.6h0M41.3 135.8h0M44.5 132.4h0M40.2 137.5h0M45.2 131.8h0M48.3 131.5h0M40.9 136.7h0M46.0 133.5h0M45.6 133.7h0M52.3 129.9h0M43.7 134.9h0M45.6 129.8h0M53.6 130.0h0M83.0 114.3h0M84.1 97.7h0M77.6 94.9h0M94.8 86.9h0M78.3 103.6h0M104.4 85.8h0M121.5 76.9h0M72.4 89.4h0M119.6 62.7h0M94.3 84.7h0M77.4 109.3h0M82.8 97.7h0M98.9 79.8h0M109.9 77.8h0M85.4 101.4h0M113.6 54.2h0M101.9 91.7h0M80.1 107.0h0M75.2 105.4h0M100.9 78.3h0M86.2 99.9h0M80.2 114.5h0M126.5 50.0h0M90.4 97.1h0M96.2 97.3h0M111.2 75.9h0M104.7 73.3h0M76.8 101.9h0M82.2 101.6h0M89.8 104.3h0M86.2 92.4h0M93.8 82.7h0M111.9 76.0h0M101.0 65.9h0M95.0 99.7h0M104.8 62.4h0M97.6 90.4h0M114.6 64.9h0M90.9 78.2h0M73.7 115.2h0M95.6 100.6h0M80.7 105.6h0M82.0 93.8h0M75.7 99.8h0M82.6 107.0h0M92.9 88.0h0M117.8 74.2h0M109.3 62.5h0M81.7 105.6h0M92.1 85.8h0M121.3 43.6h0M97.7 77.3h0M69.0 126.8h0M98.9 92.7h0M98.2 62.1h0M75.7 116.1h0M122.8 56.7h0M86.4 91.5h0M84.1 105.6h0M117.5 73.7h0M78.5 105.4h0M87.7 103.5h0M100.3 77.0h0M90.5 95.9h0M109.8 71.8h0M85.9 98.2h0M124.8 65.4h0M108.4 79.6h0M127.3 61.0h0M68.2 96.0h0M92.7 88.1h0M84.4 110.8h0M76.3 115.2h0M91.6 80.3h0M67.6 106.3h0M117.1 62.0h0M123.5 67.8h0M96.0 68.9h0M129.8 54.0h0M83.1 107.7h0M89.7 103.4h0M125.0 65.2h0M125.6 57.4h0M95.2 92.6h0M78.2 118.0h0M84.4 105.4h0M87.2 79.7h0M121.5 74.5h0M81.1 83.5h0M96.3 92.1h0M69.6 122.4h0M107.0 68.5h0M98.0 86.0h0M112.0 73.8h0M75.2 109.6h0M75.1 101.1h0M94.5 88.0h0M121.4 51.0h0M86.9 99.6h0M128.4 57.3h0M79.8 113.2h0M71.9 121.2h0M111.2 80.9h0M96.0 72.0h0M86.9 98.9h0M95.1 77.7h0M91.3 88.9h0M80.2 110.4h0M76.5 112.8h0M108.2 64.8h0M123.3 46.4h0M98.4 95.0h0M118.7 70.6h0M84.1 109.5h0M103.0 92.6h0M137.1 44.8h0M118.4 43.7h0M79.9 113.7h0M117.8 73.5h0M109.0 87.1h0M109.0 60.9h0M79.9 103.0h0M90.1 106.0h0M83.3 103.3h0M98.0 92.7h0M114.1 70.5h0M106.2 84.5h0M129.1 63.4h0M117.6 66.6h0M100.6 86.8h0M73.3 115.1h0M130.5 54.8h0M77.1 113.5h0M70.1 104.5h0M75.6 110.0h0M81.3 112.2h0M79.8 111.6h0M91.7 90.2h0M71.8 123.5h0M93.7 101.8h0M121.7 62.6h0M130.5 67.2h0M126.9 64.1h0M107.9 74.1h0M89.2 83.6h0M109.1 82.0h0M91.9 95.6h0M72.4 105.6h0M100.4 87.1h0M83.7 112.1h0M123.3 52.4h0M114.9 51.6h0M84.0 89.0h0M117.9 65.2h0M81.0 107.7h0M133.3 45.3h0M97.8 93.5h0M127.9 49.4h0M108.0 84.5h0M91.8 75.5h0M103.7 81.1h0M80.4 88.2h0M77.6 113.9h0M108.4 70.2h0M83.3 100.7h0M116.3 68.7h0M105.2 67.5h0M80.4 89.7h0M126.0 55.4h0M107.3 85.9h0M118.7 67.1h0M83.8 113.2h0M97.1 74.3h0M126.3 44.0h0M98.3 75.3h0M98.4 87.9h0M73.7 113.9h0M92.9 81.2h0M131.2 55.5h0M83.2 89.7h0M98.9 78.4h0M85.3 94.0h0M84.2 90.8h0M102.8 88.7h0M97.5 83.2h0M79.8 91.9h0M96.4 73.6h0M75.5 91.9h0M99.5 85.3h0M101.0 68.8h0" stroke="#7a7a7a" stroke-width="0.95" stroke-linecap="square" fill="none"/>
<path d="M55.2 136.4h0M56.7 130.2h0M60.3 128.9h0M50.7 133.6h0M67.4 125.1h0M70.9 124.6h0M42.2 137.0h0M64.7 131.3h0M75.9 120.0h0M42.3 137.4h0M57.0 131.1h0M68.9 127.3h0M68.1 128.8h0M57.3 128.6h0M54.2 133.6h0M51.0 136.6h0M78.4 117.9h0M57.4 130.4h0M55.4 135.8h0M52.3 131.8h0M38.1 138.9h0M67.6 124.2h0M56.1 130.3h0M65.5 130.0h0M42.3 136.7h0M46.1 135.3h0M51.6 137.0h0M42.4 137.6h0M64.8 125.8h0M73.5 120.4h0M52.8 133.6h0M49.2 134.0h0M42.9 136.5h0M52.3 136.9h0M56.6 132.0h0M63.1 128.0h0M52.0 136.2h0M67.4 126.6h0M60.0 130.4h0M43.4 136.8h0M63.0 128.5h0M60.8 131.5h0M61.3 133.3h0M44.5 135.6h0M51.9 132.8h0M55.1 130.9h0M54.2 135.3h0M49.7 133.2h0M51.3 133.7h0M65.7 127.1h0M52.9 136.9h0M56.9 135.8h0M62.7 134.1h0M50.2 134.8h0M53.1 132.6h0M69.4 122.3h0M41.4 137.2h0M57.5 136.0h0M58.6 135.8h0M71.7 121.1h0M48.6 133.4h0M68.4 128.0h0M42.1 136.9h0M53.7 131.7h0M71.8 122.8h0M53.8 138.3h0M59.4 130.7h0M59.0 128.3h0M59.8 132.8h0M46.6 134.4h0M66.8 130.2h0M72.4 120.8h0M49.2 136.7h0M44.3 136.3h0M54.8 133.0h0M40.5 137.9h0M52.5 136.6h0M40.6 137.7h0M52.7 132.3h0M60.5 133.0h0M65.2 127.0h0M51.0 133.8h0M52.2 132.1h0M46.0 135.0h0M60.6 127.0h0M65.1 126.6h0M62.9 129.6h0M46.5 135.3h0M54.5 131.4h0M53.0 131.9h0M53.0 132.0h0M38.6 138.7h0M59.1 131.9h0M60.7 136.0h0M39.0 138.9h0M59.6 133.8h0M56.2 132.1h0M45.5 135.3h0M72.7 122.9h0M59.9 129.2h0M52.3 133.4h0M58.4 130.9h0M62.7 128.3h0M47.4 134.1h0M66.3 128.0h0M75.5 121.3h0M51.7 132.6h0M45.6 135.0h0M56.7 133.9h0M74.3 122.6h0M39.4 138.3h0M54.8 132.7h0M50.1 133.6h0M57.0 130.2h0M65.9 129.5h0M44.5 136.9h0M51.8 132.3h0M54.4 134.4h0M52.4 133.2h0M49.5 134.4h0M73.7 120.7h0M62.3 132.6h0M58.6 129.9h0M59.7 132.3h0M40.4 138.1h0M57.3 131.6h0M56.5 134.2h0M53.9 133.3h0M55.5 129.6h0M56.0 135.0h0M40.0 139.2h0M59.7 129.4h0M43.7 138.3h0M73.2 121.7h0M50.4 132.3h0M70.5 125.0h0M64.9 128.4h0M73.6 120.8h0M39.8 138.6h0M49.8 136.2h0M42.8 137.9h0M63.2 133.4h0M46.9 139.2h0M58.6 134.8h0M56.0 136.3h0M47.3 134.4h0M43.1 136.9h0M55.7 135.4h0M57.2 137.7h0M56.3 130.6h0M52.4 131.4h0M53.8 132.5h0M55.7 135.8h0M53.1 131.6h0M53.1 131.9h0M44.2 135.7h0M70.0 125.4h0M49.3 137.9h0M54.7 137.7h0M57.3 137.6h0M57.2 129.2h0M41.1 138.0h0M67.6 126.8h0M61.4 133.4h0M66.1 126.7h0M50.5 135.2h0M43.2 136.6h0M71.8 123.2h0M59.9 133.8h0M56.5 137.6h0M46.0 135.1h0M41.5 137.4h0M71.1 124.5h0M40.8 137.7h0M65.2 130.2h0M46.2 138.4h0M76.1 119.1h0M42.2 136.9h0M71.4 125.6h0M59.3 133.5h0M55.0 135.3h0M55.7 131.2h0M55.1 135.2h0M55.0 135.5h0M69.7 122.3h0M56.3 132.9h0M59.2 128.9h0M46.8 134.7h0M45.6 134.9h0M39.4 138.7h0M44.7 136.9h0M61.9 126.6h0M46.0 135.3h0M53.5 131.4h0M53.4 132.1h0M51.1 134.9h0M63.0 133.9h0M55.8 137.9h0M38.9 139.1h0M43.2 136.9h0M65.6 124.4h0M59.0 131.1h0M40.9 138.4h0M62.7 130.8h0M41.9 136.9h0M59.9 135.0h0M48.1 133.8h0M68.5 126.7h0M57.7 134.7h0M40.7 137.9h0M63.1 131.9h0M44.2 135.7h0M52.8 136.0h0M61.7 127.9h0M49.9 132.6h0M49.4 136.2h0M57.8 138.4h0M43.6 137.0h0M56.3 133.4h0M54.7 137.4h0M60.6 134.2h0M47.3 134.1h0M55.6 131.3h0M56.9 138.6h0M38.8 138.9h0M39.8 138.7h0M54.0 131.0h0M65.9 127.9h0M43.1 136.5h0M39.6 139.0h0M54.5 139.1h0M66.5 126.6h0M59.1 129.4h0M53.7 134.2h0M62.2 132.2h0M41.6 137.2h0M56.9 133.2h0M39.8 138.4h0M57.1 135.3h0M53.0 136.9h0M45.1 135.7h0M40.8 137.6h0M65.4 128.4h0M52.9 135.7h0M61.1 133.2h0M49.5 135.3h0M43.8 136.5h0M46.0 136.5h0M63.6 126.5h0M46.7 134.5h0M66.9 126.4h0M50.0 132.7h0M57.1 136.9h0M49.2 133.6h0M44.4 135.7h0M38.9 138.5h0M69.2 122.3h0M57.8 131.8h0M43.7 136.9h0M63.9 125.9h0M50.8 132.4h0M53.2 133.8h0M58.1 130.0h0M56.8 137.3h0M45.3 135.3h0M54.4 133.1h0M58.2 134.5h0M60.8 134.3h0M40.1 137.9h0M56.9 136.4h0M55.8 132.1h0M40.3 137.8h0M40.4 138.0h0M59.3 128.8h0M60.8 130.0h0M58.7 132.2h0M66.7 130.6h0M53.8 132.5h0M48.8 138.2h0M62.4 131.0h0M58.7 131.2h0M48.2 135.1h0M38.9 138.8h0M69.5 125.1h0M54.2 132.8h0M56.0 132.6h0M57.1 138.0h0M60.7 136.2h0M51.2 132.8h0M65.7 124.7h0M61.6 128.8h0M70.3 125.5h0M62.3 132.6h0M44.2 135.9h0M63.7 133.1h0M63.6 125.5h0M62.7 130.7h0M46.6 134.6h0M43.9 137.3h0M47.6 135.0h0M48.9 134.0h0M57.2 132.0h0M54.4 132.3h0M39.1 138.7h0M52.1 131.7h0M40.6 138.1h0M49.7 136.0h0M58.9 133.6h0M45.0 135.6h0M63.3 126.9h0M79.8 116.8h0M39.9 138.0h0M70.3 122.7h0M43.3 136.2h0M68.4 127.9h0M62.9 128.5h0M62.3 128.8h0M60.1 129.8h0M43.1 136.4h0M56.3 131.7h0M55.9 129.4h0M64.2 132.6h0M56.7 136.9h0M38.5 138.9h0M60.4 131.7h0M48.9 136.1h0M40.5 137.7h0M41.8 137.6h0M55.0 132.0h0M64.5 128.8h0M62.3 132.7h0M39.1 138.8h0M44.4 138.6h0M61.6 133.6h0M54.1 136.1h0M51.1 133.4h0M51.1 132.2h0M68.0 124.2h0M59.5 134.2h0M57.7 134.9h0M57.1 135.3h0M61.4 134.2h0M47.8 136.8h0M66.8 129.3h0M45.2 136.5h0M61.4 129.4h0M64.7 132.2h0M48.3 135.2h0M72.1 124.7h0M49.9 133.0h0M64.9 130.3h0M55.0 131.5h0M44.4 137.1h0M56.4 130.6h0M60.0 128.0h0M53.3 131.2h0M49.7 133.2h0M39.5 138.3h0M47.8 135.4h0M64.4 127.5h0M49.1 138.3h0M60.3 135.4h0M38.6 138.8h0M38.9 138.6h0M61.0 131.5h0M49.5 133.4h0M62.4 129.2h0M60.1 136.2h0M58.7 136.3h0M66.3 129.3h0M59.3 129.1h0M40.7 138.1h0M52.5 136.5h0M50.1 138.7h0M74.7 122.7h0M47.4 134.3h0M39.9 138.5h0M56.0 134.4h0M43.5 137.4h0M52.7 135.1h0M76.0 119.4h0M64.3 132.2h0M48.1 135.4h0M52.5 138.2h0M53.4 137.0h0M40.2 138.0h0M55.8 131.5h0M41.2 137.3h0M56.5 136.4h0M60.4 131.5h0M54.7 134.5h0M69.9 125.4h0M52.1 131.9h0M55.2 131.6h0M62.0 130.7h0M58.5 136.9h0M41.0 137.8h0M64.4 129.8h0M45.6 136.2h0M42.4 137.4h0M38.7 138.7h0M61.4 133.2h0M68.5 128.8h0M47.8 138.2h0M39.8 138.1h0M68.0 125.8h0M65.3 131.2h0M42.5 136.6h0M42.0 137.1h0M64.3 130.6h0M56.7 137.8h0M42.8 136.7h0M42.2 137.5h0M62.8 126.0h0M51.7 135.3h0M58.6 131.0h0M67.4 129.7h0M48.5 135.5h0M53.4 138.1h0M46.8 134.3h0M48.1 134.5h0M41.9 136.9h0M59.0 135.9h0M40.4 137.7h0M40.1 138.2h0M59.6 128.1h0M66.6 127.4h0M59.6 127.9h0M48.3 133.7h0M43.0 137.5h0M47.8 134.9h0M44.9 135.8h0M61.9 129.6h0M59.3 136.7h0M50.8 135.0h0M67.0 127.0h0M57.1 135.1h0M60.0 134.9h0M54.8 136.0h0M70.1 125.5h0M49.0 137.1h0M61.4 129.2h0M58.8 129.9h0M69.6 126.6h0M44.6 135.8h0M52.3 132.7h0M60.1 134.6h0M40.6 137.7h0M57.8 135.9h0M46.4 137.0h0M60.0 129.1h0M42.1 137.1h0M55.1 138.4h0M39.2 138.7h0M66.4 128.9h0M59.7 133.1h0M54.3 132.8h0M43.1 136.8h0M54.7 137.0h0M42.0 137.4h0M54.1 131.7h0M58.1 131.1h0M59.3 133.9h0M39.2 138.5h0M70.1 124.5h0M47.9 134.6h0M47.3 138.4h0M41.8 137.0h0M42.8 136.6h0M51.1 132.6h0M70.5 126.7h0M57.1 129.5h0M48.9 134.4h0M55.3 137.1h0M54.1 138.2h0M57.7 130.2h0M64.2 129.4h0M59.0 127.7h0M52.4 132.1h0M58.1 137.3h0M39.5 138.3h0M53.8 133.9h0M52.4 136.3h0M56.2 134.0h0M57.8 134.8h0M40.8 137.6h0M64.0 129.1h0M61.7 134.4h0M39.1 138.4h0M42.8 137.8h0M45.8 135.0h0M43.7 139.0h0M55.3 138.0h0M45.7 135.4h0M41.5 137.1h0M51.9 136.2h0M44.9 135.9h0M69.3 123.6h0M55.2 130.9h0M67.3 127.9h0M55.2 137.9h0M60.3 133.9h0M60.0 134.2h0M47.7 137.9h0M58.1 138.9h0M49.9 137.9h0M73.0 120.5h0M58.2 137.7h0M46.2 134.9h0M74.3 121.1h0M52.4 137.9h0M61.8 130.6h0M46.1 135.6h0M42.5 136.7h0M75.9 120.7h0M53.1 136.6h0M66.6 129.1h0M58.5 132.4h0M41.2 138.1h0M42.7 136.7h0M71.8 124.6h0M69.4 124.0h0M48.5 135.0h0M60.5 130.8h0M59.6 128.2h0M42.6 136.6h0M74.3 122.0h0M56.1 137.1h0M52.3 132.8h0M49.4 133.1h0M64.8 126.4h0M60.9 129.5h0M54.8 134.9h0M58.8 128.8h0M63.9 133.2h0M62.4 129.7h0M60.5 128.0h0M47.0 134.1h0M42.5 137.0h0M53.5 135.2h0M64.9 126.1h0M59.7 130.3h0M60.2 134.1h0M68.3 127.7h0M60.2 131.1h0M55.6 129.9h0M75.0 119.1h0M50.9 132.5h0M49.2 133.1h0M47.6 136.0h0M65.6 125.2h0M55.1 130.0h0M50.7 133.9h0M69.1 125.0h0M56.4 130.6h0M55.6 130.0h0M58.9 136.1h0M46.9 134.6h0M64.2 126.4h0M48.8 137.6h0M65.9 129.0h0M71.8 121.0h0M44.2 135.9h0M60.1 128.7h0M61.8 129.5h0M54.9 134.4h0M58.6 137.6h0M49.1 133.1h0M60.7 129.4h0M62.6 129.3h0M56.7 135.4h0M56.1 130.4h0M59.0 136.0h0M55.9 132.1h0M57.8 137.2h0M60.3 135.9h0M72.9 120.8h0M51.6 138.3h0M58.8 132.1h0M62.1 126.6h0M75.0 121.8h0M65.3 131.5h0M74.6 121.3h0M55.4 132.3h0M67.5 125.9h0M63.9 129.6h0M48.3 133.6h0M51.2 131.9h0M51.1 132.8h0M60.0 129.1h0M41.8 137.0h0M53.3 134.1h0M66.3 127.6h0M52.0 134.6h0M57.8 133.7h0M53.8 135.1h0M55.5 133.3h0M48.3 133.5h0M57.3 134.4h0M57.8 138.3h0M56.5 134.2h0M57.2 129.6h0M61.9 131.5h0M61.9 129.4h0M58.5 138.0h0M65.6 128.5h0M60.0 132.4h0M41.2 137.3h0M60.7 135.6h0M57.8 128.6h0M57.8 136.5h0M68.8 127.9h0M62.8 129.7h0M55.9 132.5h0M72.3 120.8h0M47.9 136.8h0M55.9 134.3h0M52.5 133.7h0M53.4 135.0h0M62.8 128.3h0M79.2 118.1h0M60.1 131.0h0M61.1 133.2h0M69.9 124.1h0M69.1 127.0h0M65.3 131.2h0M46.8 135.1h0M48.9 135.1h0M57.1 129.8h0M70.7 122.2h0M46.3 135.7h0M56.9 136.5h0M57.6 130.0h0M65.1 126.6h0M58.2 131.3h0M57.1 131.1h0M68.2 124.7h0M61.8 132.7h0M54.9 137.4h0M62.5 130.0h0M39.3 138.3h0M52.5 135.2h0M51.9 132.7h0M63.4 130.6h0M56.6 131.0h0M56.2 131.6h0M62.7 125.9h0M38.6 138.8h0M55.1 134.4h0M40.6 137.6h0M64.4 127.7h0M61.1 128.5h0M49.5 136.2h0M60.7 130.6h0M61.6 133.8h0M63.8 132.0h0M53.7 137.0h0M44.2 136.4h0M42.1 137.1h0M69.4 125.1h0M62.1 127.0h0M54.9 135.9h0M41.9 136.9h0M64.7 125.3h0M47.7 134.7h0M65.1 130.8h0M64.7 129.6h0M50.1 138.1h0M64.5 130.8h0M38.8 138.8h0M54.3 137.8h0M50.6 132.2h0M64.2 127.6h0M54.2 135.6h0M63.6 133.1h0M65.7 128.8h0M53.8 130.8h0M58.5 133.1h0M52.1 131.7h0M50.6 136.0h0M61.8 132.0h0M62.0 133.6h0M54.9 130.9h0M60.5 134.3h0M57.9 129.4h0M44.4 136.2h0M61.2 131.1h0M62.2 130.2h0M65.8 124.4h0M53.2 135.0h0M59.6 133.0h0M46.4 135.3h0M71.4 126.0h0M65.9 131.3h0M65.5 131.6h0M56.5 131.3h0M67.8 129.0h0M62.1 130.1h0M59.7 136.2h0M64.9 127.8h0M58.6 134.5h0M64.9 131.1h0M68.4 125.7h0M43.7 137.4h0M67.9 126.6h0M56.4 136.5h0M55.9 137.4h0M66.8 128.5h0M49.3 133.1h0M70.4 124.4h0M49.5 133.3h0M64.1 127.7h0M54.1 136.5h0M60.7 130.8h0M55.8 136.3h0M47.4 135.8h0M48.8 136.3h0M62.0 133.3h0M41.2 138.5h0M45.5 135.4h0M45.4 136.1h0M69.9 122.1h0M50.9 134.9h0M60.9 128.4h0M54.8 130.9h0M57.0 128.9h0M48.9 134.7h0M47.7 135.0h0M53.3 136.3h0M45.7 135.1h0M46.4 135.4h0M41.7 137.4h0M42.5 137.4h0M39.0 139.0h0M41.6 137.5h0M66.2 127.3h0M52.2 131.6h0M62.0 132.3h0M42.7 136.6h0M53.6 135.1h0M55.9 138.7h0M45.5 138.3h0M65.8 131.4h0M60.4 128.8h0M56.6 131.8h0M65.1 124.7h0M49.8 133.1h0M57.5 128.7h0M41.3 137.5h0M68.2 128.3h0M53.1 136.8h0M39.7 138.7h0M49.6 133.2h0M63.7 127.7h0M61.1 134.2h0M61.5 134.3h0M65.9 126.8h0M47.6 134.1h0M57.4 136.9h0M56.9 136.5h0M58.8 128.1h0M55.3 133.3h0M64.6 130.0h0M57.0 133.0h0M56.6 137.5h0M57.0 129.3h0M57.8 131.7h0M60.1 131.8h0M50.2 137.4h0M41.3 137.3h0M53.9 138.2h0M51.9 133.1h0M60.9 130.6h0M44.1 138.7h0M57.5 138.7h0M53.9 138.1h0M53.8 133.7h0M57.0 129.4h0M49.5 136.3h0M69.5 126.9h0M53.1 137.3h0M52.0 135.8h0M47.1 135.1h0M57.6 135.9h0M52.0 131.9h0M60.4 127.3h0M48.4 138.1h0M75.2 121.8h0M51.0 133.5h0M62.1 129.6h0M72.6 122.9h0M51.2 137.0h0M41.7 137.5h0M54.1 131.1h0M50.5 135.9h0M58.2 133.4h0M48.3 136.9h0M51.6 136.3h0M54.2 130.6h0M70.9 124.8h0M46.2 135.3h0M53.2 134.7h0M59.8 128.6h0M60.1 133.2h0M46.1 135.5h0M61.5 131.0h0M51.6 132.0h0M57.4 129.3h0M53.1 135.5h0M61.4 135.4h0M61.3 135.3h0M54.9 139.2h0M70.7 124.0h0M62.6 131.7h0M57.1 138.4h0M59.9 135.3h0M44.8 138.4h0M48.4 134.0h0M65.9 128.7h0M55.2 129.8h0M57.3 132.5h0M54.8 130.7h0M49.1 135.7h0M43.7 136.1h0M51.0 132.7h0M55.7 137.0h0M54.2 130.9h0M73.0 123.9h0M45.1 136.1h0M59.6 135.2h0M49.0 137.5h0M62.7 131.2h0M52.6 132.4h0M56.6 138.1h0M54.1 133.0h0M61.2 132.4h0M42.7 137.4h0M63.9 132.7h0M57.0 133.9h0M54.6 138.8h0M56.5 130.2h0M62.6 134.3h0M45.3 136.4h0M73.2 121.3h0M50.5 134.0h0M56.7 137.4h0M59.0 138.1h0M54.2 130.4h0M44.1 136.4h0M44.8 138.3h0M57.3 130.5h0M39.8 138.2h0M57.2 135.0h0M68.2 123.1h0M69.9 123.8h0M61.6 127.0h0M54.5 135.8h0M55.6 137.6h0M54.5 139.3h0M58.2 130.4h0M51.3 132.8h0M51.3 135.7h0M62.4 130.7h0M59.2 133.0h0M70.3 124.4h0M44.3 136.2h0M62.6 132.3h0M67.4 123.6h0M51.8 137.5h0M40.0 138.3h0M43.4 136.5h0M62.6 130.4h0M57.1 138.4h0M57.1 132.6h0M44.2 136.0h0M61.0 135.4h0M61.0 132.2h0M47.1 134.5h0M41.2 137.6h0M59.6 136.7h0M59.5 132.1h0M46.4 134.7h0M54.9 137.9h0M38.3 139.0h0M52.5 137.3h0M66.0 129.3h0M48.1 133.8h0M51.1 132.3h0M68.3 123.3h0M66.0 126.9h0M58.3 128.8h0M55.1 138.3h0M43.7 136.4h0M41.8 137.7h0M45.1 136.2h0M41.6 138.7h0M39.4 138.4h0M61.9 134.2h0M48.4 136.9h0M44.4 135.8h0M59.0 134.3h0M47.7 135.3h0M71.8 124.1h0M41.0 137.9h0M70.0 122.7h0M43.6 136.1h0M46.4 135.1h0M51.4 131.9h0M49.1 133.1h0M47.8 139.1h0M63.3 128.1h0M46.5 135.0h0M47.2 136.9h0M54.3 130.5h0M66.0 125.2h0M63.8 127.1h0M63.6 128.1h0M53.1 136.6h0M57.3 128.9h0M50.0 136.9h0M38.5 138.8h0M54.7 130.5h0M41.6 137.3h0M59.0 136.2h0M55.5 138.2h0M62.1 131.0h0M51.3 133.2h0M49.2 133.2h0M58.3 133.4h0M62.4 130.5h0M54.2 135.8h0M63.4 127.0h0M61.7 132.0h0M61.3 129.2h0M54.2 134.6h0M67.6 126.2h0M57.3 131.6h0M53.7 137.8h0M60.2 133.0h0M64.6 131.6h0M69.6 125.0h0M40.3 137.8h0M66.4 127.2h0M67.1 125.8h0M40.8 138.1h0M57.6 136.3h0M59.9 134.6h0M49.4 134.1h0M60.0 134.3h0M55.7 137.3h0M58.4 131.5h0M42.8 136.6h0M43.1 136.5h0M57.0 133.4h0M61.3 133.3h0M60.0 133.7h0M55.8 136.1h0M47.8 134.2h0M67.3 126.6h0M51.8 135.4h0M47.9 137.0h0M67.2 125.0h0M59.0 136.0h0M55.5 134.9h0M55.9 131.0h0M61.9 128.0h0M56.7 132.0h0M61.5 133.5h0M62.9 132.7h0M45.2 135.3h0M55.3 132.6h0M68.2 127.3h0M54.0 135.0h0M57.2 132.6h0M63.5 129.2h0M51.5 134.8h0M53.7 134.3h0M54.7 138.4h0M46.3 138.7h0M54.8 131.3h0M61.7 135.3h0M58.2 136.2h0M57.8 136.5h0M64.9 126.4h0M49.1 135.4h0M39.5 138.2h0M64.3 125.6h0M50.0 137.9h0M58.3 135.7h0M70.4 125.7h0M64.2 132.3h0M50.2 135.1h0M53.2 136.4h0M68.5 125.4h0M41.1 137.6h0M49.3 138.5h0M38.5 138.7h0M53.4 134.2h0M44.0 136.2h0M61.6 132.4h0M48.3 134.6h0M52.9 131.6h0M61.3 127.4h0M62.5 127.7h0M61.2 134.6h0M62.5 132.7h0M61.4 131.0h0M73.4 120.8h0M52.3 138.6h0M40.3 138.5h0M60.6 128.3h0M60.9 135.2h0M41.2 137.3h0M61.1 128.7h0M57.5 130.9h0M49.5 135.0h0M61.1 133.1h0M57.7 128.9h0M67.1 126.6h0M68.6 126.1h0M53.6 134.4h0M59.7 128.8h0M43.6 136.2h0M58.5 134.5h0M56.6 135.5h0M65.7 130.3h0M59.2 137.2h0M69.4 126.3h0M60.9 126.7h0M73.3 121.6h0M62.9 126.5h0M76.5 119.8h0M58.5 136.6h0M40.2 138.1h0M68.6 123.5h0M44.6 135.7h0M54.5 134.4h0M51.6 135.4h0M42.3 137.3h0M52.5 135.2h0M61.9 128.7h0M61.0 129.4h0M70.3 125.6h0M42.7 136.7h0M53.8 136.1h0M39.3 138.6h0M57.9 128.5h0M51.3 136.7h0M57.5 134.4h0M54.3 130.5h0M59.0 127.9h0M53.4 133.0h0M65.6 124.8h0M63.2 132.6h0M40.8 137.8h0M73.8 123.0h0M66.0 125.8h0M55.5 136.6h0M60.6 135.3h0M57.6 137.4h0M45.5 135.4h0M67.9 123.7h0M38.4 139.2h0M75.7 120.4h0M58.3 133.7h0M65.9 130.0h0M40.6 137.8h0M64.7 131.3h0M43.3 136.1h0M65.7 125.6h0M53.7 131.4h0M53.2 131.9h0M54.8 130.4h0M74.2 122.0h0M76.5 120.9h0M52.7 136.1h0M53.4 131.6h0M66.7 127.4h0M64.1 133.2h0M57.6 129.2h0M47.4 134.7h0M38.3 139.1h0M44.7 135.6h0M59.9 133.4h0M59.2 131.6h0M61.4 127.0h0M53.4 135.5h0M59.4 127.5h0M64.2 126.4h0M64.5 132.1h0M64.1 129.7h0M39.1 138.7h0M67.7 129.2h0M51.7 137.7h0M53.2 136.7h0M60.4 128.4h0M57.6 138.6h0M72.4 124.2h0M59.8 134.8h0M51.9 137.7h0M59.1 136.2h0M51.4 134.3h0M66.0 126.8h0M57.2 137.7h0M57.3 132.9h0M66.1 128.7h0M67.3 124.4h0M54.2 131.2h0M55.2 136.4h0M42.4 136.8h0M51.7 133.3h0M58.5 131.3h0M56.8 136.4h0M47.8 134.5h0M43.1 136.3h0M46.3 134.6h0M51.0 135.9h0M61.1 130.2h0M55.3 129.7h0M60.7 127.1h0M52.3 133.0h0M47.1 134.3h0M41.7 137.2h0M70.2 124.8h0M40.6 137.8h0M64.3 130.6h0M61.5 130.6h0M62.7 129.1h0M62.4 134.8h0M47.6 134.0h0M58.1 136.0h0M45.4 137.3h0M44.6 135.8h0M38.9 138.9h0M49.1 136.9h0M52.6 133.0h0M51.2 135.6h0M53.2 132.3h0M68.9 127.3h0M39.2 138.6h0M62.4 129.1h0M41.1 137.5h0M70.4 126.1h0M62.0 129.6h0M58.8 135.6h0M56.9 130.1h0M59.3 130.7h0M62.9 128.0h0M69.6 124.0h0M41.7 137.7h0M49.1 137.8h0M64.6 131.9h0M54.2 137.0h0M67.5 125.0h0M61.9 133.4h0M58.2 136.8h0M55.9 130.2h0M57.2 131.5h0M58.9 131.0h0M47.0 135.3h0M60.6 131.9h0M45.3 135.9h0M69.5 125.3h0M59.3 135.4h0M68.4 126.3h0M45.5 135.3h0M62.2 135.1h0M56.9 131.4h0M56.2 134.9h0M60.3 134.7h0M66.9 130.4h0M63.8 125.6h0M43.4 136.5h0M44.9 135.8h0M45.8 134.8h0M55.3 134.2h0M40.4 138.0h0M61.3 127.2h0M68.4 128.0h0M64.7 128.2h0M56.5 136.8h0M57.5 137.4h0M51.3 135.2h0M61.7 131.7h0M56.8 134.5h0M55.6 134.0h0M45.4 137.8h0M63.0 131.2h0M39.5 138.5h0M59.4 133.4h0M47.6 134.5h0M68.0 126.8h0M55.8 132.7h0M74.0 121.1h0M62.4 133.1h0M64.9 129.4h0M51.4 133.5h0M60.1 129.5h0M51.5 134.5h0M47.4 135.1h0M62.4 129.1h0M52.5 132.2h0M65.9 130.8h0M39.8 138.2h0M56.9 133.0h0M51.3 132.1h0M67.5 124.0h0M60.3 132.5h0M78.0 119.0h0M53.4 131.6h0M60.1 136.3h0M61.3 126.9h0M61.8 128.3h0M60.8 134.4h0M45.2 137.0h0M44.9 136.2h0M66.6 123.8h0M58.3 135.9h0M39.4 138.7h0M41.4 137.5h0M58.5 131.8h0M38.7 138.9h0M63.4 126.9h0M61.6 131.2h0M64.4 131.1h0M52.0 137.8h0M62.6 126.6h0M64.1 131.8h0M45.7 135.2h0M71.1 122.5h0M51.6 132.7h0M43.8 137.7h0M62.7 128.0h0M46.1 135.3h0M53.7 134.4h0M46.0 135.0h0M47.4 138.1h0M64.2 126.1h0M50.0 136.2h0M60.8 132.2h0M55.8 135.0h0M41.8 137.4h0M64.5 131.2h0M50.1 133.4h0M49.9 134.3h0M59.7 128.4h0M57.3 138.2h0M52.3 132.7h0M47.8 134.0h0M52.3 138.2h0M54.3 135.6h0M47.9 135.5h0M58.2 132.4h0M47.9 138.5h0M53.8 132.5h0M57.7 134.6h0M68.0 127.6h0M60.1 129.9h0M40.5 138.1h0M46.9 134.8h0M59.1 136.3h0M42.2 136.9h0M42.2 136.8h0M57.9 131.7h0M39.2 138.3h0M41.4 137.8h0M62.6 132.0h0M55.5 138.2h0M48.1 136.6h0M62.0 127.0h0M44.5 135.7h0M44.0 135.8h0M51.5 132.3h0M50.4 133.8h0M55.3 129.7h0M56.5 137.7h0M65.2 128.1h0M45.0 136.2h0M43.6 136.6h0M55.6 132.8h0M57.1 134.3h0M61.3 128.1h0M40.1 138.5h0M41.4 137.2h0M46.2 134.6h0M58.8 129.5h0M57.4 134.9h0M64.1 126.9h0M51.6 132.2h0M48.7 134.8h0M73.8 122.0h0M76.0 119.3h0M45.0 137.2h0M41.6 137.4h0M49.7 135.4h0M62.2 132.6h0M52.6 132.1h0M58.6 135.8h0M64.0 132.3h0M56.8 132.3h0M57.6 132.5h0M38.3 139.1h0M61.9 131.0h0M40.1 138.2h0M46.9 138.5h0M55.2 130.8h0M42.9 136.6h0M51.8 138.6h0M44.3 136.0h0M51.8 135.1h0M67.7 127.1h0M42.7 137.7h0M67.3 127.8h0M75.7 121.1h0M46.8 134.3h0M53.0 131.8h0M51.8 133.0h0M61.9 132.6h0M49.7 134.1h0M62.1 129.7h0M44.1 136.9h0M64.2 130.5h0M50.4 138.7h0M54.4 130.3h0M54.2 136.1h0M60.1 134.3h0M45.8 135.2h0M47.2 135.3h0M50.0 134.5h0M44.9 135.4h0M59.9 131.6h0M57.7 130.9h0M64.0 131.4h0M40.9 137.8h0M60.5 134.9h0M59.6 134.2h0M39.2 139.0h0M48.3 134.5h0M72.4 120.7h0M59.1 129.2h0M55.7 136.6h0M56.1 136.3h0M52.1 132.5h0M56.2 136.4h0M49.7 137.9h0M62.1 133.3h0M53.1 132.2h0M58.5 137.5h0M70.4 124.0h0M68.3 128.4h0M45.4 135.3h0M71.8 125.6h0M51.4 135.6h0M50.3 134.3h0M49.3 134.5h0M64.4 128.6h0M42.6 136.7h0M42.8 136.9h0M40.5 137.9h0M56.9 135.1h0M38.9 138.9h0M51.3 132.2h0M69.9 127.1h0M55.4 130.5h0M51.5 137.4h0M63.0 133.6h0M54.0 134.9h0M54.0 132.3h0M66.1 124.9h0M56.1 131.8h0M61.8 129.5h0M66.7 124.9h0M55.1 134.4h0M48.5 133.7h0M76.7 119.8h0M51.4 138.1h0M65.5 125.6h0M58.4 128.3h0M61.0 130.1h0M56.2 136.4h0M40.2 138.1h0M58.3 129.0h0M49.7 133.5h0M59.9 131.9h0M48.2 133.7h0M57.0 137.4h0M56.2 134.3h0M50.2 134.3h0M57.1 138.1h0M47.0 135.1h0M62.0 132.9h0M55.7 129.5h0M68.0 124.5h0M45.3 136.9h0M63.2 132.4h0M55.5 130.9h0M60.9 128.2h0M54.7 135.1h0M46.6 134.6h0M45.8 138.9h0M45.1 137.3h0M68.9 127.8h0M64.4 131.7h0M54.2 136.3h0M44.6 136.1h0M67.0 130.1h0M49.5 139.1h0M55.0 135.9h0M64.4 130.8h0M40.5 137.9h0M42.2 136.8h0M52.8 133.7h0M46.9 134.8h0M41.2 138.3h0M70.4 123.9h0M40.2 138.0h0M52.9 137.2h0M62.5 134.0h0M53.2 138.7h0M65.5 130.0h0M69.5 126.3h0M60.1 132.5h0M43.5 136.1h0M62.2 133.3h0M66.3 126.0h0M44.9 136.1h0M60.7 133.6h0M67.6 128.8h0M56.0 132.6h0M58.0 130.2h0M59.7 129.8h0M68.1 125.6h0M56.7 132.9h0M72.0 121.2h0M75.1 121.4h0M56.1 131.8h0M38.2 138.9h0M61.0 130.5h0M51.0 137.4h0M57.9 131.3h0M55.6 131.6h0M55.6 135.9h0M59.0 132.5h0M63.1 131.6h0M66.6 130.2h0M51.5 132.1h0M44.5 135.9h0M59.3 136.5h0M55.0 129.9h0M53.2 137.7h0M54.7 134.6h0M52.7 132.7h0M50.2 133.7h0M54.6 132.5h0M60.9 128.0h0M61.7 132.7h0M67.6 125.9h0M53.1 136.5h0M52.9 132.9h0M52.4 135.0h0M48.9 139.0h0M59.7 132.4h0M42.9 136.8h0M64.3 129.5h0M44.1 136.2h0M64.4 127.7h0M67.5 127.7h0M53.6 132.0h0M70.0 124.6h0M64.8 130.8h0M40.9 137.9h0M60.5 129.6h0M38.4 139.0h0M75.5 120.5h0M51.8 133.3h0M42.6 136.9h0M45.6 135.2h0M49.3 135.6h0M40.6 138.0h0M70.0 127.0h0M56.7 133.0h0M67.2 129.7h0M52.3 137.0h0M75.8 119.6h0M53.8 137.5h0M69.1 127.6h0M56.8 133.4h0M55.7 132.2h0M62.6 130.0h0M67.4 128.7h0M63.9 126.8h0M59.9 136.7h0M58.4 129.0h0M41.5 137.3h0M49.2 134.6h0M42.5 136.7h0M58.0 137.5h0M55.2 136.9h0M56.3 130.4h0M67.5 125.6h0M60.4 130.5h0M57.8 128.4h0M57.9 137.7h0M50.9 132.5h0M38.9 138.5h0M66.7 127.9h0M54.7 131.0h0M53.8 133.2h0M65.3 126.0h0M59.9 130.6h0M74.5 122.5h0M61.1 126.9h0M68.9 123.6h0M75.6 119.1h0M62.8 132.2h0M64.9 126.2h0M58.6 135.4h0M60.9 131.7h0M44.1 137.4h0M55.8 132.8h0M60.2 129.7h0M69.2 126.4h0M65.8 128.8h0M65.2 126.2h0M62.8 125.6h0M44.3 135.8h0M67.6 127.4h0M64.5 131.7h0M46.0 135.2h0M53.2 134.2h0M73.1 124.0h0M40.0 138.2h0M58.5 129.1h0M38.0 139.0h0M75.1 121.0h0M47.5 135.2h0M66.3 130.1h0M54.8 137.8h0M51.2 133.5h0M50.0 138.3h0M68.2 127.5h0M39.3 138.4h0M65.5 128.8h0M57.4 137.0h0M55.1 137.8h0M51.2 134.4h0M54.6 134.1h0M48.8 136.4h0M57.7 136.2h0M56.1 133.8h0M60.7 136.0h0M52.9 133.3h0M55.8 132.9h0M68.4 124.3h0M43.6 137.2h0M42.3 136.7h0M61.6 127.0h0M75.0 120.0h0M43.7 137.7h0M45.8 135.0h0M60.4 129.9h0M51.8 132.3h0M50.1 136.5h0M58.5 128.5h0M64.1 130.4h0M49.1 133.8h0M67.0 129.2h0M52.6 133.3h0M67.5 129.7h0M40.7 138.0h0M68.4 128.9h0M63.8 128.4h0M46.0 138.4h0M58.3 137.9h0M43.7 136.0h0M59.0 129.0h0M74.8 120.5h0M45.1 135.2h0M59.9 135.5h0M48.6 134.4h0M62.4 130.7h0M42.1 137.4h0M51.8 134.9h0M66.0 130.6h0M70.5 126.6h0M60.2 128.6h0M70.4 126.9h0M61.3 135.6h0M67.2 127.4h0M63.6 130.1h0M71.2 125.5h0M54.5 130.3h0M61.3 126.6h0M59.4 131.3h0M59.4 131.3h0M44.8 139.2h0M40.2 137.9h0M41.0 137.7h0M45.2 136.3h0M57.0 134.2h0M59.4 136.6h0M53.4 131.6h0M54.6 134.2h0M68.0 129.3h0M53.9 131.4h0M58.9 130.5h0M42.4 136.8h0M40.2 137.9h0M54.3 132.7h0M52.5 134.9h0M49.9 138.8h0M54.4 136.9h0M48.7 136.6h0M41.0 137.8h0M53.9 131.0h0M56.5 139.1h0M59.8 128.3h0M62.6 130.4h0M57.1 137.8h0M51.1 134.3h0M61.3 131.7h0M49.7 133.8h0M62.1 133.7h0M62.9 125.9h0M48.5 133.5h0M57.6 129.0h0M48.5 135.7h0M61.2 132.6h0M56.6 136.3h0M66.4 130.6h0M54.1 135.1h0M40.9 137.8h0M53.4 132.4h0M40.7 137.7h0M56.5 133.8h0M59.4 136.5h0M48.6 135.2h0M52.3 132.3h0M59.2 128.1h0M60.5 133.1h0M53.7 137.2h0M49.5 133.3h0M58.1 132.2h0M42.8 137.0h0M60.1 129.1h0M45.3 138.1h0M61.0 134.2h0M60.8 130.1h0M49.9 133.0h0M56.7 131.0h0M46.5 137.2h0M63.4 126.1h0M40.2 137.9h0M55.0 130.2h0M59.8 127.7h0M53.3 133.8h0M57.2 136.0h0M55.5 137.4h0M51.4 131.8h0M59.3 130.3h0M65.4 131.0h0M49.0 136.7h0M44.4 136.2h0M63.6 130.8h0M49.3 134.2h0M73.1 122.4h0M57.8 133.3h0M53.7 138.6h0M47.7 134.4h0M41.2 139.0h0M59.6 135.3h0M62.8 129.7h0M67.1 128.1h0M67.9 123.3h0M55.4 132.8h0M42.7 136.9h0M49.8 133.9h0M43.6 136.4h0M51.9 138.6h0M67.7 129.2h0M52.6 135.6h0M67.3 129.9h0M42.5 136.8h0M57.5 137.4h0M56.3 137.0h0M47.3 134.7h0M45.8 136.0h0M65.3 128.9h0M65.1 125.3h0M58.3 130.6h0M56.1 137.3h0M62.0 132.9h0M56.8 135.0h0M63.6 132.2h0M58.0 132.2h0M64.6 127.5h0M52.8 134.9h0M61.4 132.3h0M55.2 136.7h0M46.0 136.6h0M70.7 122.8h0M50.5 132.9h0M69.0 124.3h0M63.4 130.8h0M65.9 130.9h0M43.1 136.6h0M52.9 136.9h0M41.4 137.5h0M68.0 128.7h0M60.9 133.6h0M58.1 136.7h0M54.0 131.6h0M44.4 139.3h0M51.0 133.2h0M58.9 129.5h0M52.3 132.5h0M50.7 132.8h0M55.6 136.2h0M61.1 132.7h0M51.7 132.1h0M61.3 131.2h0M59.3 135.8h0M56.8 136.2h0M58.7 128.3h0M59.2 131.9h0M59.9 136.0h0M57.7 128.7h0M59.7 133.2h0M47.1 134.5h0M52.2 135.1h0M52.4 136.4h0M73.0 124.3h0M69.2 126.4h0M47.2 135.2h0M60.7 135.9h0M61.2 127.9h0M58.8 131.4h0M73.0 121.8h0M58.7 135.6h0M44.0 136.1h0M50.0 132.9h0M40.1 138.3h0M59.6 131.5h0M63.5 127.2h0M54.7 133.9h0M50.4 133.4h0M55.5 131.8h0M39.7 138.1h0M62.7 132.6h0M73.8 122.8h0M60.0 128.6h0M57.7 138.2h0M60.8 134.7h0M59.3 132.0h0M39.6 138.9h0M65.0 131.1h0M47.2 135.0h0M50.7 135.1h0M58.9 131.5h0M60.5 129.1h0M65.5 128.3h0M59.8 135.3h0M53.9 130.7h0M66.8 128.7h0M70.2 122.7h0M61.7 135.1h0M43.9 135.9h0M43.7 136.4h0M67.0 127.6h0M53.2 137.4h0M56.3 137.1h0M45.3 135.6h0M61.9 128.3h0M39.0 139.0h0M38.9 138.7h0M39.6 138.5h0M45.6 135.0h0M53.5 135.2h0M42.8 138.8h0M58.0 129.7h0M60.6 135.5h0M49.5 136.2h0M62.0 134.2h0M70.7 122.6h0M55.9 136.2h0M53.0 132.0h0M60.3 135.5h0M40.8 137.5h0M53.6 138.5h0M59.0 131.6h0M59.2 135.4h0M42.0 136.9h0M44.8 136.0h0M55.5 129.7h0M45.8 137.8h0M62.1 128.5h0M43.8 136.4h0M38.9 138.6h0M67.0 129.9h0M75.3 121.0h0M57.9 137.1h0M74.1 122.7h0M53.0 131.2h0M45.4 136.5h0M66.5 128.7h0M48.3 137.9h0M50.1 134.6h0M67.0 125.3h0M63.0 133.8h0M37.9 139.1h0M59.7 129.5h0M57.9 138.9h0M40.9 137.9h0M64.2 131.3h0M65.7 130.7h0M44.2 138.1h0M39.5 138.5h0M55.4 136.0h0M67.0 129.9h0M52.5 131.5h0M63.9 130.8h0M58.3 136.1h0M64.9 132.4h0M49.6 132.8h0M61.2 134.4h0M66.0 126.5h0M53.0 132.6h0M54.7 132.3h0M68.4 125.6h0M74.9 119.4h0M51.8 135.9h0M56.8 133.6h0M56.7 132.7h0M68.2 126.2h0M56.8 131.4h0M44.8 135.6h0M47.5 134.3h0M49.6 133.6h0M49.5 133.4h0M61.2 130.3h0M57.4 130.5h0M57.4 133.6h0M52.8 134.5h0M44.7 137.0h0M63.7 129.7h0M48.0 134.1h0M50.3 132.9h0M65.0 125.7h0M44.2 136.5h0M39.7 138.1h0M61.2 128.5h0M67.8 125.9h0M77.8 118.3h0M63.0 132.2h0M60.9 126.7h0M45.0 136.1h0M61.7 131.2h0M56.1 134.0h0M46.9 137.6h0M49.9 134.3h0M40.7 138.0h0M56.2 132.9h0M62.1 127.2h0M65.6 127.3h0M54.5 132.4h0M72.3 122.6h0M69.1 125.2h0M62.0 132.8h0M59.8 128.0h0M65.6 125.2h0M55.3 130.5h0M57.3 138.4h0M68.4 126.7h0M66.0 125.9h0M61.8 134.0h0M52.4 135.8h0M54.5 133.2h0M48.1 134.1h0M50.8 137.0h0M67.2 127.7h0M77.1 118.5h0M59.1 129.3h0M55.6 138.2h0M68.7 128.6h0M52.9 131.0h0M53.6 135.3h0M58.7 130.1h0M68.3 125.8h0M46.5 135.9h0M48.2 133.6h0M57.5 131.0h0M59.8 128.7h0M64.4 126.3h0M56.7 133.3h0M56.1 138.1h0M52.4 131.7h0M53.7 131.0h0M52.2 133.2h0M51.4 132.9h0M50.1 136.9h0M56.8 129.2h0M68.2 128.2h0M52.2 137.4h0M64.6 125.2h0M50.8 133.8h0M56.3 138.7h0M43.2 136.4h0M61.8 131.5h0M55.0 135.8h0M42.4 136.7h0M63.0 133.8h0M60.2 135.6h0M63.2 132.1h0M69.2 126.7h0M50.9 133.1h0M55.3 131.3h0M54.3 137.7h0M50.8 132.6h0M67.3 124.8h0M44.3 135.8h0M49.3 135.4h0M42.6 136.6h0M46.8 135.1h0M42.5 137.3h0M42.1 137.2h0M55.2 138.5h0M62.5 129.4h0M73.4 123.7h0M39.9 138.3h0M58.9 135.2h0M43.9 136.0h0M48.4 133.6h0M69.6 123.9h0M55.2 134.9h0M60.4 131.9h0M55.3 131.2h0M61.0 130.5h0M69.6 126.0h0M62.9 133.6h0M51.7 131.8h0M55.4 133.7h0M60.0 130.8h0M63.6 126.6h0M55.0 132.0h0M38.7 138.7h0M64.9 125.5h0M44.6 138.0h0M55.9 131.5h0M48.7 133.9h0M47.2 134.1h0M60.7 131.7h0M59.8 135.0h0M62.7 127.0h0M41.7 137.1h0M41.6 137.7h0M39.8 138.4h0M40.9 138.3h0M69.2 124.4h0M72.8 123.0h0M62.0 128.7h0M54.6 131.7h0M63.6 126.2h0M69.5 127.0h0M41.0 137.6h0M56.4 132.3h0M50.7 133.5h0M46.5 136.6h0M56.0 132.4h0M59.9 136.9h0M53.9 135.5h0M62.5 134.5h0M38.6 138.8h0M55.2 137.9h0M73.2 121.1h0M57.8 136.2h0M57.5 133.6h0M65.0 130.3h0M63.2 126.7h0M56.5 131.8h0M48.9 137.6h0M64.7 124.7h0M53.4 132.5h0M58.0 135.4h0M58.7 128.7h0M64.8 124.6h0M72.1 121.4h0M58.1 131.2h0M52.8 135.1h0M50.3 135.7h0M62.5 130.5h0M60.8 133.6h0M55.8 137.1h0M56.1 135.7h0M53.8 133.7h0M56.5 135.7h0M42.7 137.0h0M54.1 132.6h0M50.8 136.8h0M55.8 137.9h0M44.2 135.8h0M60.3 136.1h0M47.2 134.1h0M56.5 134.5h0M55.0 134.8h0M43.9 137.7h0M60.1 132.6h0M62.3 129.2h0M60.2 128.0h0M44.4 135.8h0M58.4 130.7h0M67.0 124.5h0M56.7 135.2h0M51.3 136.3h0M60.7 131.5h0M62.8 128.8h0M38.6 138.7h0M68.0 123.1h0M59.0 136.6h0M72.4 123.5h0M42.1 137.3h0M58.7 130.9h0M39.5 138.3h0M60.6 134.4h0M53.0 132.2h0M51.5 133.4h0M56.9 133.7h0M66.4 129.6h0M61.2 129.9h0M51.2 137.6h0M49.6 133.7h0M42.2 137.2h0M57.9 129.9h0M41.7 137.2h0M45.0 136.5h0M57.2 135.6h0M56.5 135.1h0M52.9 131.7h0M38.5 139.1h0M63.7 130.3h0M58.2 134.9h0M73.9 120.5h0M55.6 132.2h0M44.5 136.4h0M42.7 136.6h0M43.3 137.1h0M70.7 123.4h0M58.9 134.7h0M43.5 136.4h0M58.3 131.5h0M69.3 122.8h0M52.7 137.2h0M52.8 132.5h0M41.1 137.5h0M65.6 124.5h0M72.7 122.4h0M40.4 138.5h0M55.6 131.2h0M61.3 126.8h0M43.5 136.7h0M58.3 132.4h0M49.9 132.6h0M47.1 134.7h0M62.1 134.3h0M44.9 135.6h0M62.4 134.6h0M42.0 136.9h0M59.8 128.8h0M47.2 136.0h0M60.2 127.1h0M70.9 124.7h0M50.8 134.3h0M61.0 129.4h0M59.2 133.7h0M40.1 137.9h0M65.2 128.6h0M61.8 131.6h0M61.1 128.7h0M55.5 137.5h0M48.2 135.5h0M64.8 128.1h0M73.0 122.8h0M53.0 133.9h0M59.2 132.3h0M51.5 134.0h0M63.0 131.9h0M66.3 126.2h0M51.5 133.3h0M59.6 136.7h0M59.6 128.1h0M38.9 139.1h0M48.6 133.3h0M50.8 136.2h0M58.2 129.5h0M52.8 131.3h0M69.1 126.5h0M64.4 130.6h0M47.1 134.8h0M60.9 133.6h0M78.4 117.5h0M59.7 132.9h0M72.2 124.3h0M59.0 137.7h0M58.0 136.2h0M54.3 139.2h0M39.0 139.1h0M56.9 134.5h0M60.1 130.0h0M65.2 125.6h0M47.6 135.6h0M70.3 125.9h0M67.2 129.9h0M39.9 138.6h0M55.5 133.7h0M55.4 133.4h0M60.8 136.1h0M68.1 127.6h0M38.5 138.8h0M65.2 128.4h0M47.6 134.4h0M55.8 136.8h0M54.3 133.6h0M54.8 136.1h0M45.1 136.2h0M41.6 137.4h0M52.5 134.6h0M69.1 123.6h0M59.5 135.6h0M61.3 130.4h0M69.3 124.2h0M51.4 133.3h0M52.8 131.1h0M52.1 138.0h0M51.6 132.0h0M47.0 134.2h0M48.5 138.5h0M43.6 136.0h0M56.4 133.5h0M61.4 127.5h0M75.2 121.5h0M67.1 127.8h0M45.9 136.2h0M57.1 133.1h0M62.8 129.1h0M44.6 137.2h0M42.1 136.9h0M60.9 132.4h0M55.6 137.5h0M74.5 122.8h0M60.3 133.4h0M54.2 137.1h0M55.3 135.5h0M45.7 135.1h0M59.4 135.2h0M70.4 125.2h0M61.0 135.8h0M42.4 136.8h0M49.2 136.7h0" stroke="#74561c" stroke-width="0.95" stroke-linecap="square" fill="none"/>
<path d="M76.2 126.6h0M77.2 135.1h0M76.7 127.9h0M85.5 133.4h0M82.3 131.1h0M91.6 134.6h0M88.2 134.0h0M97.7 123.7h0M84.7 137.1h0M96.8 120.3h0M112.8 130.5h0M79.6 131.3h0M103.3 118.7h0M111.8 108.0h0M109.0 128.6h0M68.1 134.9h0M103.6 126.3h0M97.5 123.0h0M136.4 119.4h0M69.5 132.0h0M79.9 133.2h0M72.3 126.6h0M73.8 134.7h0M77.1 130.9h0M62.8 137.3h0M78.9 132.7h0M76.9 135.6h0M78.0 138.5h0M88.0 136.4h0M72.2 135.1h0M65.0 137.4h0M70.3 129.6h0M86.5 124.0h0M85.4 114.9h0M104.8 120.8h0M65.5 137.2h0M91.2 120.4h0M65.8 137.1h0M81.3 124.7h0M103.9 129.3h0M86.8 121.8h0M71.6 126.9h0M77.6 137.1h0M87.4 131.7h0M87.8 126.3h0M91.3 134.0h0M73.1 131.1h0M80.3 120.0h0M131.6 105.4h0M95.8 123.5h0M74.1 131.3h0M93.5 113.8h0M75.6 132.4h0M100.9 124.7h0M92.0 118.1h0M92.7 107.8h0M105.5 118.5h0M64.4 137.3h0M73.7 134.5h0M119.0 129.2h0M112.3 132.8h0M91.1 122.3h0M76.2 130.0h0M88.6 128.3h0M69.9 134.5h0M84.9 119.6h0M75.9 137.9h0M66.3 133.4h0M96.7 115.4h0M73.1 131.1h0M111.8 124.2h0M68.3 135.6h0M67.1 137.6h0M101.7 107.1h0M74.5 124.3h0M78.2 133.3h0M75.8 131.2h0M68.9 130.6h0M109.8 109.3h0M77.6 135.2h0M116.1 134.6h0M70.9 129.7h0M77.6 125.4h0M132.7 112.9h0M62.7 136.3h0M97.1 124.0h0M84.3 133.4h0M90.0 131.8h0M69.5 129.6h0M70.7 129.8h0M74.6 125.0h0M114.7 117.8h0M74.3 132.0h0M112.7 130.8h0M85.1 117.1h0M60.4 138.1h0M70.5 128.6h0M80.9 127.8h0M69.7 131.4h0M95.5 132.4h0M88.3 131.7h0M87.9 118.8h0M79.3 127.1h0M60.2 137.6h0M78.2 127.8h0M88.3 128.7h0M117.1 127.9h0M62.5 137.3h0M98.0 127.2h0M97.5 131.2h0M89.9 110.2h0M83.5 118.9h0M77.4 133.1h0M89.9 135.0h0M72.2 132.1h0M80.2 128.5h0M66.5 136.9h0M118.0 112.3h0M88.2 137.5h0M86.9 126.3h0M78.5 133.2h0M73.3 132.3h0M76.6 123.5h0M94.9 130.2h0M85.7 130.9h0M103.8 136.6h0M71.6 129.8h0M68.2 131.5h0M82.3 133.1h0M72.2 134.4h0M93.1 116.3h0M101.0 126.5h0M78.0 126.3h0M67.3 133.2h0M73.0 133.5h0M99.6 132.7h0M91.1 132.8h0M79.5 120.9h0M77.0 129.3h0M109.8 108.1h0M117.4 131.0h0M72.8 134.0h0M79.8 130.1h0M80.2 132.6h0M60.9 137.8h0M96.0 124.1h0M69.2 135.2h0M100.6 124.4h0M70.9 135.4h0M67.8 131.1h0M85.4 114.3h0M85.8 136.4h0M92.6 107.7h0M69.1 130.4h0M65.4 134.8h0M76.4 126.2h0M71.5 127.0h0M74.0 129.3h0M107.9 121.5h0M71.2 128.3h0M66.8 131.0h0M76.0 134.6h0M74.0 136.1h0M89.1 124.8h0M77.4 121.8h0M92.4 138.1h0M103.9 123.3h0M68.4 129.1h0M82.3 119.3h0M85.3 131.6h0M90.7 135.1h0M68.0 132.2h0M90.3 114.2h0M108.5 128.3h0M84.6 121.9h0M73.4 125.8h0M79.3 134.0h0M103.9 119.5h0M81.3 133.6h0M127.1 107.4h0M87.3 128.8h0M72.4 138.4h0M91.6 111.3h0M87.8 123.6h0M83.4 117.1h0M58.6 138.7h0M101.5 136.1h0M76.3 135.6h0M91.7 110.5h0M76.5 132.4h0M92.6 133.5h0M65.7 131.9h0M98.3 119.6h0M93.1 132.1h0M110.9 133.2h0M71.6 130.7h0M96.7 134.7h0M89.9 134.1h0M75.9 132.5h0M95.4 103.4h0M83.8 127.0h0M78.4 125.2h0M101.3 124.5h0M83.3 128.5h0M81.6 136.8h0M76.2 128.9h0M80.2 127.3h0M77.7 132.5h0M87.1 132.3h0M69.2 134.1h0M75.2 128.9h0M75.0 134.4h0M69.8 132.3h0M90.6 134.9h0M95.7 130.2h0M71.6 131.9h0M88.2 133.9h0M87.7 125.3h0M75.5 130.7h0M108.4 109.3h0M69.2 132.6h0M115.4 116.7h0M84.3 129.8h0M75.0 130.5h0M83.0 121.9h0M64.9 137.8h0M83.4 124.0h0M79.8 129.3h0M64.0 133.3h0M111.7 89.4h0M65.9 134.2h0M71.8 132.4h0M66.8 137.1h0M70.3 128.2h0M85.2 118.4h0M86.1 135.5h0M71.7 131.2h0M86.7 118.4h0M93.1 129.3h0M78.4 124.6h0M81.8 130.6h0M76.8 137.0h0M74.3 128.3h0M68.9 133.1h0M87.0 134.8h0M88.3 115.2h0M84.6 128.2h0M60.3 137.1h0M58.8 138.9h0M80.8 117.0h0M106.2 111.7h0M83.9 122.6h0M73.0 128.3h0M85.8 125.7h0M103.1 118.0h0M66.6 135.8h0M114.9 124.5h0M69.3 136.2h0M81.9 124.3h0M77.1 134.1h0M78.7 127.2h0M88.8 137.4h0M88.3 131.9h0M81.9 119.7h0M116.7 105.5h0M91.7 137.6h0M65.5 132.1h0M79.6 133.6h0M63.5 134.7h0M66.7 131.8h0M78.2 125.5h0M102.5 116.2h0M95.9 133.3h0M87.9 118.0h0M80.0 120.5h0M108.0 117.8h0M88.9 123.7h0M96.3 130.3h0M77.3 129.0h0M78.9 125.4h0M82.2 129.4h0M76.1 125.5h0M106.5 105.1h0M73.4 127.1h0M80.8 135.2h0M74.3 130.4h0M84.1 131.2h0M82.9 131.1h0M78.8 132.1h0M98.9 128.1h0M64.0 133.9h0M84.1 118.6h0M74.7 130.6h0M95.7 123.2h0M82.2 123.5h0M70.2 133.3h0M75.4 130.7h0M97.3 125.0h0M68.1 132.9h0M79.2 131.8h0M98.5 133.9h0M84.2 119.2h0M62.4 135.5h0M67.3 133.2h0M97.9 119.4h0M67.4 130.8h0M100.8 121.6h0M62.9 135.5h0M101.7 119.0h0M89.1 117.9h0M79.3 128.0h0M70.6 135.2h0M95.1 111.0h0M71.6 133.0h0M112.4 119.8h0M103.3 135.0h0M85.4 131.3h0M76.0 136.1h0M74.0 138.4h0M69.6 138.9h0M89.6 127.0h0M75.9 132.0h0M73.3 129.4h0M107.2 119.3h0M84.5 120.7h0M69.9 133.2h0M83.0 134.6h0M80.8 134.6h0M90.7 135.8h0M82.1 120.7h0M64.3 133.6h0M77.2 122.7h0M79.7 119.3h0M85.8 125.4h0M69.0 128.7h0M104.2 127.1h0M128.9 127.3h0M92.2 129.0h0M129.8 114.8h0M96.3 126.5h0M77.0 125.5h0M82.1 132.6h0M83.0 132.4h0M97.9 120.9h0M85.8 121.3h0M83.0 136.9h0M79.7 123.6h0M74.8 132.3h0M113.1 120.0h0M74.6 139.1h0M66.6 133.0h0M85.8 132.4h0M66.1 137.4h0M81.2 126.5h0M95.1 127.6h0M123.3 130.5h0M92.0 129.9h0M87.2 120.4h0M86.9 123.5h0M115.4 131.3h0M116.5 98.0h0M85.4 130.6h0M79.5 134.3h0M86.4 125.8h0M89.3 136.9h0M80.8 123.6h0M82.3 131.4h0M100.5 128.3h0M75.7 129.7h0M80.2 137.1h0M109.9 127.2h0M68.5 138.1h0M89.5 121.2h0M74.6 128.2h0M80.5 125.8h0M64.0 137.4h0M106.1 95.3h0M81.3 132.3h0M74.3 133.6h0M67.6 130.1h0M75.2 132.0h0M78.0 123.7h0M73.7 133.7h0M67.8 130.6h0M78.2 122.1h0M78.3 129.2h0M106.6 120.4h0M80.3 131.6h0M95.7 124.7h0M93.0 128.8h0M94.7 134.6h0M95.5 132.8h0M82.9 122.6h0M77.1 120.6h0M88.8 121.3h0M82.9 125.0h0M110.5 125.5h0M88.3 138.3h0M82.7 121.1h0M107.9 121.8h0M83.4 127.0h0M95.9 119.0h0M97.5 137.7h0M75.1 128.7h0M68.9 132.1h0M95.0 136.5h0M114.7 113.8h0M93.7 117.1h0M96.9 134.1h0M61.3 136.5h0M62.0 135.3h0M76.3 130.1h0M77.2 123.9h0M103.6 99.6h0M72.9 126.1h0M82.1 128.1h0M61.8 137.4h0M137.1 128.0h0M72.1 133.0h0M65.1 134.7h0M68.9 128.6h0M76.5 130.9h0M71.9 134.4h0M87.0 133.4h0M89.8 130.3h0M66.7 133.6h0M122.6 117.2h0M74.1 129.4h0M83.2 126.1h0M91.7 138.8h0M81.4 119.8h0M74.0 134.8h0M59.5 138.1h0M76.3 124.6h0M86.1 127.3h0M67.2 137.7h0M85.5 132.4h0M72.8 135.4h0M110.3 130.9h0M69.0 135.1h0M79.6 122.8h0M91.0 124.4h0M111.7 135.3h0M67.5 133.0h0M93.6 119.9h0M76.9 137.7h0M103.9 125.2h0M64.3 135.6h0M80.5 139.3h0M60.3 137.9h0M75.7 136.0h0M68.0 134.0h0M76.8 127.5h0M101.3 124.5h0M64.6 136.9h0M65.4 135.1h0M71.5 128.5h0M82.6 125.5h0M70.9 129.2h0M85.6 125.0h0M68.1 137.6h0M101.7 132.3h0M86.5 118.4h0M83.1 115.9h0M84.1 130.5h0M70.9 129.9h0M66.1 137.4h0M114.8 125.9h0M79.7 128.0h0M137.2 122.9h0M77.7 123.5h0M76.7 125.9h0M87.1 133.3h0M71.5 132.2h0M84.0 121.1h0M95.6 132.7h0M76.4 121.6h0M84.2 132.3h0M79.3 122.8h0M105.4 129.6h0M69.3 128.3h0M89.8 133.9h0M83.8 135.3h0M71.9 138.0h0M75.5 130.5h0M79.4 127.4h0M71.6 131.4h0M78.3 124.5h0M70.0 134.9h0M79.0 131.1h0M60.5 137.5h0M84.1 128.5h0M71.2 127.2h0M77.4 132.8h0M92.4 126.4h0M65.6 134.5h0M68.0 134.1h0M114.8 114.3h0M72.1 126.9h0M92.7 137.9h0M77.7 122.9h0M127.7 130.5h0M73.1 124.9h0M87.7 137.2h0M83.2 125.9h0M85.1 131.1h0M63.9 134.1h0M81.5 129.7h0M70.5 132.2h0M81.5 135.7h0M75.9 129.1h0M87.7 131.8h0M83.7 126.1h0M63.7 138.6h0M66.1 132.9h0M67.8 131.6h0M93.8 133.5h0M61.6 135.9h0M65.7 133.5h0M85.3 120.8h0M83.3 136.8h0M73.3 126.5h0M107.5 116.2h0M61.6 137.6h0M91.1 138.4h0M92.8 106.8h0M67.1 132.1h0M60.9 139.1h0M63.1 138.9h0M82.7 125.5h0M116.3 126.5h0M91.2 128.2h0M70.1 136.2h0M75.1 137.8h0M85.4 112.4h0M70.4 135.6h0M91.2 120.2h0M96.6 103.8h0M67.8 137.6h0M88.0 131.6h0M69.7 137.9h0M100.5 117.6h0M131.1 102.2h0M89.8 115.8h0M78.2 129.6h0M88.9 126.2h0M110.6 105.6h0M106.7 127.6h0M88.2 123.6h0M95.9 128.4h0M70.6 127.8h0M96.5 120.4h0M65.6 135.5h0M115.6 130.0h0M77.6 133.8h0M75.9 134.2h0M84.6 120.0h0M69.8 128.3h0M96.8 132.3h0M123.1 127.9h0M85.0 135.8h0M73.2 136.2h0M72.1 131.5h0M100.9 136.8h0M95.2 105.0h0M80.5 129.1h0M88.2 125.5h0M95.7 118.9h0M123.4 107.5h0M101.8 122.6h0M97.8 129.5h0M89.2 119.5h0M84.2 120.5h0M73.9 132.3h0M101.8 125.0h0M91.6 125.1h0M74.7 130.6h0M129.3 137.2h0M87.9 136.6h0M74.1 132.2h0M73.4 130.8h0M83.8 127.6h0M104.3 111.1h0M75.7 136.1h0M87.0 112.6h0M92.8 131.9h0M104.4 120.2h0M81.7 133.5h0M88.2 130.5h0M69.4 129.8h0M100.8 116.8h0M121.9 95.4h0M84.8 127.9h0M74.4 130.1h0M63.5 136.4h0M82.0 129.0h0M67.0 137.4h0M79.2 119.7h0M89.9 120.2h0M65.9 131.6h0M82.1 133.1h0M92.4 126.4h0M75.6 129.8h0M62.4 136.7h0M75.4 135.7h0M75.1 123.6h0M62.0 136.4h0M77.8 138.5h0M118.3 124.7h0M74.3 135.1h0M108.3 109.5h0M81.9 118.1h0M86.0 137.9h0M80.4 120.1h0M106.3 136.1h0M99.2 135.5h0M80.2 124.3h0M67.7 132.2h0M68.2 138.7h0M85.7 120.5h0M116.5 109.8h0M72.7 134.5h0M66.9 132.6h0M85.0 123.3h0M70.0 130.8h0M99.9 126.8h0M65.7 134.1h0M107.0 130.3h0M63.4 137.4h0M73.0 135.6h0M68.7 133.7h0M88.2 131.3h0M98.7 135.6h0M89.4 109.7h0M97.9 112.1h0M78.0 131.7h0M84.4 135.4h0M94.0 121.6h0M100.5 121.0h0M98.7 124.3h0M91.7 110.9h0M98.1 115.0h0M74.4 131.2h0M79.9 120.2h0M70.3 128.2h0M75.1 130.5h0M87.9 116.5h0M76.2 123.2h0M122.4 97.4h0M75.8 122.4h0M91.5 134.3h0M101.7 103.6h0M64.0 139.0h0M74.0 133.7h0M84.2 137.9h0M110.8 118.3h0M81.2 126.3h0M78.8 123.7h0M69.2 135.4h0M87.1 133.7h0M61.2 136.4h0M64.9 135.4h0M67.9 138.2h0M70.1 127.7h0M73.2 131.8h0M96.7 129.6h0M98.2 134.9h0M99.7 119.2h0M79.3 127.1h0M70.5 135.3h0M74.5 133.8h0M82.6 132.8h0M62.1 135.9h0M92.1 133.4h0M76.2 136.3h0M81.1 119.4h0M130.9 123.3h0M68.2 131.9h0M105.4 131.9h0M112.7 126.3h0M62.2 137.5h0M76.7 124.4h0M82.8 128.3h0M95.2 117.3h0M88.7 129.5h0M111.5 124.3h0M82.7 127.8h0M116.8 133.4h0M79.4 131.0h0M88.5 123.6h0M69.0 136.1h0M64.5 135.4h0M74.4 123.1h0M64.2 135.9h0M80.3 137.5h0M84.3 129.5h0M87.4 115.2h0M88.6 112.1h0M61.8 137.3h0M92.1 132.3h0M84.2 129.2h0M68.6 131.0h0M71.2 133.1h0M81.5 134.4h0M81.0 127.6h0M81.1 122.8h0M75.5 132.9h0M104.6 137.1h0M102.0 117.6h0M82.9 130.6h0M81.7 124.4h0M88.5 110.1h0M71.3 134.4h0M79.7 131.4h0M101.6 123.9h0M98.2 113.9h0M74.0 135.5h0M106.8 132.7h0M105.7 134.9h0M81.8 123.6h0M101.8 125.9h0M67.3 131.1h0M66.0 131.6h0M82.4 127.7h0M90.1 111.2h0M118.8 127.6h0M65.6 137.4h0M108.0 114.1h0M88.3 122.9h0M70.0 130.8h0M85.4 137.7h0M68.8 137.3h0M90.0 126.4h0M80.7 122.5h0M77.1 130.5h0M83.0 129.8h0M78.0 128.9h0M101.4 137.4h0M78.1 120.2h0M62.6 138.8h0M62.6 137.6h0M74.2 137.2h0M69.7 137.5h0M87.0 116.4h0M83.0 137.0h0M66.1 135.5h0M110.0 104.9h0M92.3 130.6h0M66.4 135.5h0M78.0 123.8h0M92.2 113.4h0M77.5 126.5h0M110.8 122.3h0M97.4 123.2h0M88.0 116.5h0M67.0 136.9h0M89.5 127.1h0M90.8 119.4h0M69.4 132.5h0M74.7 133.0h0M75.3 122.9h0M60.8 138.8h0M68.9 133.1h0M79.1 119.6h0M84.7 131.2h0M103.8 127.9h0M95.3 130.2h0M87.1 121.1h0M78.9 133.9h0M68.6 135.6h0M102.3 129.9h0M96.0 127.8h0M120.0 131.2h0M85.0 134.9h0M120.1 109.6h0M108.1 125.8h0M77.5 133.4h0M69.2 136.2h0M82.8 125.9h0M84.1 123.0h0M67.5 137.6h0M90.4 126.1h0M66.8 132.0h0M71.1 136.5h0M82.9 132.4h0M68.7 130.9h0M83.7 135.0h0M73.8 135.5h0M82.0 135.3h0M77.6 126.2h0M72.2 134.1h0M70.2 132.6h0M79.9 129.3h0M74.6 135.5h0M65.9 135.4h0M74.1 127.0h0M97.6 136.0h0M62.2 137.9h0M70.8 128.8h0M80.2 122.6h0M75.2 132.1h0M111.6 120.5h0M68.2 137.7h0M106.5 101.0h0M86.9 113.1h0M73.2 131.7h0M78.4 132.3h0M83.9 130.4h0M81.3 138.4h0M127.3 125.6h0M86.3 132.8h0M95.0 123.6h0M81.5 138.4h0M69.6 135.4h0M89.3 137.0h0M71.8 130.7h0M63.9 135.0h0M97.2 133.3h0M78.1 127.2h0M95.7 134.7h0M102.1 133.2h0M89.9 131.8h0M74.5 132.8h0M94.1 122.1h0M97.1 125.2h0M69.9 132.9h0M85.8 115.0h0M63.3 134.8h0M78.2 134.2h0M86.2 113.6h0M85.9 135.7h0M83.3 131.0h0M92.0 110.3h0M70.7 134.4h0M87.5 125.8h0M115.8 127.8h0M94.3 125.5h0M92.7 113.9h0M86.2 119.9h0M65.0 137.9h0M64.3 136.3h0M95.4 131.2h0M78.7 126.8h0M66.7 133.1h0M71.3 134.3h0M91.2 127.5h0M98.9 127.7h0M80.5 135.8h0M77.7 135.1h0M74.3 123.6h0M87.2 124.5h0M87.6 119.5h0M112.8 120.4h0M80.6 137.0h0M90.8 124.4h0M67.4 134.0h0M66.4 134.4h0M134.6 103.2h0M69.6 134.0h0M85.7 128.1h0M134.7 94.3h0M90.8 120.1h0M97.5 119.3h0M70.2 138.4h0M65.1 134.5h0M118.2 113.4h0M65.7 136.3h0M106.0 132.5h0M95.5 134.1h0M100.3 136.1h0M84.8 114.3h0M73.8 130.5h0M78.5 137.9h0M93.5 121.8h0M80.6 130.2h0M68.7 137.0h0M76.7 127.3h0M102.0 120.5h0M82.6 128.9h0M93.6 125.8h0M78.9 123.7h0M79.7 132.4h0M103.0 125.3h0M79.9 120.1h0M80.7 126.5h0M81.7 132.5h0M84.9 119.8h0M99.4 138.1h0M68.1 129.9h0M121.1 123.1h0M64.5 138.7h0M107.1 131.3h0M62.7 137.6h0M98.1 106.7h0M68.3 131.4h0M118.4 94.8h0M79.7 130.6h0M92.1 137.3h0M72.6 135.3h0M83.5 131.7h0M128.5 108.8h0M91.7 111.3h0M95.6 119.1h0M91.0 122.3h0M104.1 122.3h0M84.2 122.0h0M86.0 113.2h0M88.9 124.2h0M60.0 137.9h0M82.7 135.2h0M84.9 123.0h0M110.4 121.7h0M74.7 128.5h0M84.2 127.0h0M79.0 129.7h0M83.3 127.3h0M78.3 137.5h0M85.1 119.8h0M137.1 87.2h0M73.2 131.6h0M79.2 122.5h0M76.9 131.5h0M73.5 133.5h0M93.0 133.3h0M78.9 126.6h0M65.6 132.3h0M99.4 101.8h0M86.7 134.4h0M81.6 120.7h0M130.4 124.6h0M72.7 133.5h0M63.7 135.9h0M70.4 138.1h0M96.0 125.8h0M68.6 137.8h0M106.0 109.0h0M77.5 121.1h0M70.7 128.8h0M94.6 130.5h0M72.3 134.6h0M112.6 122.0h0M112.5 89.3h0M76.6 125.1h0M99.7 129.5h0M89.2 125.2h0M87.9 129.8h0M75.8 126.5h0M79.5 126.8h0M73.5 133.0h0M76.3 133.3h0M69.3 135.6h0M124.1 111.0h0M70.8 134.4h0M91.2 130.5h0M111.7 98.8h0M72.7 131.7h0M67.3 133.7h0M118.1 118.5h0M69.9 131.9h0M76.5 125.6h0M69.1 133.6h0M74.8 129.9h0M96.4 137.9h0M80.6 129.4h0M106.9 110.0h0M108.7 114.5h0M119.6 123.0h0M94.7 117.3h0M110.7 127.0h0M88.7 109.2h0M64.7 135.6h0M85.6 119.3h0M90.9 112.6h0M74.1 127.2h0M75.5 135.3h0M78.1 135.1h0M114.0 127.5h0M79.0 135.9h0M100.5 107.0h0M79.9 124.2h0M69.7 132.1h0M80.2 128.4h0M83.1 134.8h0M93.6 135.2h0M88.4 133.5h0M95.1 115.2h0M70.5 131.3h0M79.0 129.1h0M110.0 126.2h0M74.2 133.0h0M74.9 135.5h0M80.0 122.3h0M126.6 121.2h0M79.7 133.6h0M79.8 136.4h0M72.8 128.2h0M90.8 125.7h0M67.1 135.2h0M95.3 128.9h0M78.8 133.5h0M80.8 118.3h0M65.7 137.2h0M101.2 101.3h0M62.7 134.7h0M98.9 126.1h0M91.7 119.8h0M69.9 134.5h0M77.6 124.1h0M107.5 133.1h0M96.3 123.3h0M83.4 122.6h0M92.9 111.9h0M70.4 128.7h0M68.8 136.3h0M81.2 119.8h0M93.7 120.5h0M110.8 116.0h0M81.5 133.7h0M129.6 127.8h0M122.3 114.4h0M62.1 138.5h0M82.0 129.8h0M114.3 128.1h0M92.0 129.5h0M71.6 138.0h0M81.7 124.4h0M83.1 130.4h0M116.9 130.5h0M71.0 129.9h0M81.9 134.3h0M91.1 123.9h0M69.5 130.0h0M67.4 134.6h0M71.0 130.0h0M86.9 129.8h0M69.6 130.4h0M93.9 109.8h0M80.3 134.5h0M82.2 126.7h0M88.1 116.5h0M76.3 135.8h0M80.3 128.5h0M60.9 137.5h0M96.0 129.3h0M74.4 126.5h0M93.9 131.5h0M68.7 131.4h0M101.9 106.7h0M106.7 135.6h0M69.9 136.5h0M84.8 113.1h0M86.1 135.8h0M92.8 110.2h0M86.7 129.3h0M107.6 133.6h0M91.1 120.8h0M104.9 129.2h0M62.9 135.0h0M77.3 131.6h0M81.5 128.6h0M88.7 134.3h0M130.3 105.7h0M72.8 129.3h0M107.2 131.0h0M100.7 100.0h0M68.4 135.3h0M73.5 133.7h0M76.6 137.2h0M97.0 121.6h0M79.4 126.6h0M78.6 137.1h0M94.4 131.4h0M84.7 123.6h0M111.4 108.6h0M101.1 132.7h0M71.9 135.1h0M92.1 113.1h0M87.7 130.8h0M78.6 128.5h0M116.2 130.4h0M67.2 130.7h0M102.5 136.1h0M78.4 134.4h0M75.8 130.7h0M81.1 133.1h0M91.8 119.0h0M120.7 133.1h0M66.6 132.6h0M94.7 134.6h0M83.1 122.2h0M86.7 136.2h0M108.9 131.3h0M83.9 133.8h0M95.4 136.2h0M88.5 114.5h0M97.5 131.3h0M113.8 128.2h0M72.7 128.0h0M91.7 110.8h0M74.1 130.7h0M111.8 112.3h0M79.3 124.2h0M70.8 130.9h0M109.6 132.1h0M92.3 135.1h0M72.8 136.5h0M86.8 117.3h0M97.7 134.2h0M88.3 139.2h0M81.3 123.6h0M106.5 134.7h0M60.3 137.8h0M95.3 113.7h0M98.4 122.3h0M81.8 122.0h0M117.6 126.4h0M71.0 128.6h0M92.5 117.7h0M93.5 128.2h0M104.0 102.5h0M68.9 133.2h0M83.5 124.7h0M75.1 129.6h0M67.2 133.2h0M70.7 130.7h0M63.4 134.5h0M71.0 131.0h0M83.6 122.7h0M97.0 118.8h0M86.0 129.8h0M120.1 123.6h0M73.5 131.6h0M112.6 125.8h0M74.0 126.0h0M94.7 138.2h0M89.1 128.4h0M80.1 137.7h0M76.2 128.2h0M72.1 136.9h0M79.5 130.0h0M65.0 138.4h0M92.1 137.4h0M73.9 129.4h0M112.1 124.6h0M67.1 136.3h0M67.1 134.5h0M86.0 111.9h0M95.9 112.4h0M66.5 132.7h0M100.3 131.0h0M83.1 127.5h0M113.3 127.2h0M62.7 138.9h0M84.2 125.7h0M79.8 128.8h0M67.1 134.8h0M104.2 134.3h0M60.5 137.2h0M77.7 137.4h0M111.8 113.0h0M78.8 128.4h0M96.8 123.2h0M80.4 121.6h0M69.4 133.0h0M76.4 129.0h0M67.5 136.3h0M86.3 126.2h0M113.7 90.2h0M84.4 126.5h0M91.2 131.5h0M98.6 118.0h0M69.8 135.5h0M122.1 114.8h0M75.1 129.7h0M87.5 124.4h0M68.5 134.8h0M80.2 119.5h0M73.1 130.8h0M84.6 136.1h0M93.3 120.7h0M85.7 132.6h0M70.9 131.0h0M90.2 120.7h0M77.6 135.8h0M82.6 137.1h0M80.5 129.2h0M69.2 139.0h0M92.8 122.1h0M125.5 130.4h0M74.0 127.3h0M122.5 130.3h0M78.8 132.8h0M80.6 119.7h0M85.9 134.6h0M121.8 131.9h0M82.7 116.1h0M81.2 136.4h0M64.8 134.7h0M71.8 126.6h0M104.8 114.3h0M76.2 127.0h0M83.1 133.7h0M67.9 132.1h0M86.6 125.9h0M76.4 137.6h0M76.2 136.5h0M118.9 131.7h0M91.7 110.1h0M70.3 127.8h0M66.2 137.9h0M82.6 125.1h0M87.1 127.0h0M120.4 124.0h0M75.4 127.0h0M59.8 138.6h0M108.7 121.9h0M74.3 133.0h0M71.6 133.6h0M70.4 135.5h0M71.9 133.3h0M123.1 107.8h0M110.8 106.1h0M76.2 138.2h0M132.5 110.8h0M66.2 134.8h0M96.9 131.4h0M105.5 133.4h0M78.8 126.1h0M89.8 138.0h0M93.0 130.3h0M77.7 127.3h0M64.7 138.4h0M92.7 128.5h0M90.0 135.6h0M104.1 133.1h0M75.8 138.7h0M111.7 114.5h0M82.7 135.8h0M88.2 124.6h0M69.3 130.9h0M93.4 132.2h0M86.4 125.8h0M68.1 129.6h0M91.1 107.5h0M101.1 97.6h0M81.6 138.1h0M87.9 135.8h0M72.2 133.8h0M128.9 132.5h0M83.1 134.3h0M77.2 124.6h0M76.5 136.5h0M115.8 121.9h0M65.0 135.6h0M97.3 121.1h0M102.1 122.8h0M65.1 135.6h0M88.3 130.8h0M75.6 125.5h0M74.5 132.1h0M84.7 127.9h0M65.4 137.7h0M102.3 118.0h0M93.1 136.8h0M99.0 130.1h0M79.0 130.9h0M91.1 114.5h0M76.3 129.6h0M95.4 133.6h0M97.9 116.5h0M91.9 118.7h0M91.4 114.9h0M75.3 128.1h0M85.7 126.2h0M80.7 137.0h0M67.5 136.3h0M77.5 138.5h0M67.5 133.3h0M69.7 131.9h0M84.1 121.3h0M95.8 121.4h0M87.5 123.2h0M108.3 134.4h0M83.3 128.1h0M69.2 130.9h0M90.4 123.0h0M67.5 138.1h0M106.2 127.6h0M62.6 135.8h0M83.1 126.7h0M93.5 118.6h0M94.4 131.4h0M68.8 131.0h0M86.6 118.2h0M93.3 138.3h0M93.4 123.4h0M84.4 123.4h0M86.6 112.2h0M89.9 127.8h0M69.5 135.1h0M73.0 127.5h0M64.7 134.3h0M71.6 137.4h0M64.6 136.0h0M98.7 138.2h0M67.5 135.9h0M106.5 117.5h0M66.2 137.8h0M79.1 132.3h0M85.4 121.6h0M109.4 119.1h0M75.7 122.4h0M93.2 126.0h0M67.7 138.7h0M104.3 112.2h0M90.6 111.9h0M95.9 128.1h0M66.1 133.3h0M64.0 133.9h0M68.6 131.6h0M74.2 136.5h0M113.5 105.6h0M102.7 136.1h0M68.7 130.0h0M86.3 126.4h0M110.6 121.2h0M80.1 135.0h0M87.1 128.7h0M73.7 129.1h0M100.7 117.8h0M111.1 131.2h0M83.3 137.4h0M92.9 131.1h0M87.0 134.1h0M74.6 122.9h0M77.8 130.1h0M91.1 121.0h0M72.7 130.5h0M96.7 122.8h0M112.0 127.0h0M86.0 130.6h0M85.1 135.5h0M98.3 110.3h0M94.4 133.4h0M71.1 132.2h0M85.1 135.2h0M81.4 116.7h0M74.7 137.3h0M97.3 115.5h0M84.5 128.0h0M76.0 132.6h0M82.5 137.0h0M86.2 116.5h0M93.7 134.0h0M128.1 126.5h0M99.5 103.8h0M91.9 130.3h0M65.5 138.2h0M71.8 129.0h0M72.0 135.9h0M80.1 131.7h0M71.5 135.1h0M80.1 138.1h0M89.6 136.2h0M100.7 122.1h0M91.7 128.1h0M95.3 136.9h0M132.4 127.0h0M126.7 121.8h0M78.8 123.4h0M135.6 122.3h0M94.4 132.5h0M127.0 126.2h0M72.7 137.4h0M82.0 131.3h0M61.3 136.0h0M78.4 135.0h0M76.2 133.3h0M68.7 129.7h0M82.0 131.5h0M64.4 134.7h0M67.3 135.9h0M68.8 138.0h0M89.7 114.7h0M85.7 119.8h0M90.6 125.0h0M67.9 134.9h0M81.7 123.9h0M78.0 137.7h0M97.6 122.9h0M67.3 134.3h0M72.2 133.6h0M85.4 127.4h0M87.1 132.8h0M70.5 127.2h0M102.1 128.1h0M68.9 137.5h0M84.0 128.3h0M107.2 122.8h0M77.1 131.0h0M78.3 131.6h0M94.7 118.2h0M73.1 134.7h0M62.1 136.4h0M78.7 120.3h0M100.6 122.2h0M87.4 131.3h0M68.6 136.3h0M111.5 111.2h0M113.7 127.9h0M70.3 130.6h0M66.5 136.5h0M75.7 128.2h0M64.4 136.4h0M81.4 130.6h0M95.4 121.4h0M79.8 129.9h0M86.5 116.6h0M71.4 132.3h0M65.8 139.3h0M90.2 134.2h0M91.6 115.3h0M99.9 118.1h0M87.9 119.3h0M133.8 130.6h0M70.5 129.1h0M77.2 132.7h0M86.6 138.6h0M64.4 134.4h0M84.2 131.2h0M101.0 131.8h0M69.6 135.4h0M80.1 120.7h0M65.3 132.6h0M70.1 131.4h0M100.7 129.7h0M69.5 138.4h0M82.5 123.8h0M87.3 131.9h0M73.4 130.3h0M75.4 134.4h0M67.5 134.8h0M74.0 135.1h0M73.3 127.4h0M96.6 105.3h0M70.1 135.1h0M68.9 130.5h0M98.7 111.2h0M74.6 133.7h0M107.4 107.3h0M72.9 134.4h0M64.3 135.0h0M101.8 132.3h0M97.8 133.3h0M62.9 135.0h0M83.2 119.5h0M67.0 139.1h0M83.7 132.6h0M71.3 138.8h0M69.8 135.1h0M89.6 117.1h0M76.7 125.1h0M75.3 136.7h0M63.3 134.6h0M82.4 124.9h0M77.9 127.0h0M77.4 125.2h0M88.6 110.7h0M72.9 136.1h0M104.8 119.7h0M105.6 126.8h0M80.5 137.6h0M77.2 129.5h0M94.1 128.7h0M96.7 101.3h0M77.5 127.5h0M70.6 138.5h0M81.8 134.1h0M68.6 133.6h0M110.8 119.0h0M61.9 137.8h0M73.5 132.2h0M70.7 128.7h0M82.9 118.3h0M66.8 137.2h0M61.0 137.1h0M89.7 111.1h0M96.4 104.2h0M90.3 125.6h0M80.1 137.2h0M69.8 132.7h0M65.9 137.4h0M101.8 131.6h0M100.1 135.9h0M88.5 131.4h0M79.2 134.7h0M84.0 127.1h0M106.9 127.5h0M85.7 132.2h0M82.7 122.2h0M89.4 119.4h0M61.8 136.0h0M99.2 133.1h0M106.1 115.2h0M74.7 129.7h0M88.2 126.8h0M96.7 112.6h0M89.2 122.9h0M102.8 103.0h0M76.9 133.9h0M82.4 126.1h0M73.9 133.2h0M66.6 133.6h0M96.3 130.0h0M121.9 93.9h0M99.9 119.4h0M69.4 128.8h0M79.7 131.0h0M69.5 138.7h0M93.8 133.0h0M71.6 136.2h0M66.7 131.4h0M89.4 133.7h0M76.2 127.5h0M83.4 131.0h0M76.5 127.2h0M96.7 109.3h0M62.9 136.5h0M100.3 123.9h0M82.8 124.9h0M84.5 128.5h0M74.7 131.2h0M74.4 126.8h0M77.9 123.5h0M92.4 128.9h0M71.6 130.0h0M93.3 137.4h0M111.2 131.3h0M77.3 124.6h0M74.3 126.6h0M71.7 133.3h0M68.8 135.4h0M75.5 135.0h0M61.6 135.7h0M87.7 113.0h0M75.7 123.1h0M95.6 130.5h0M119.5 122.2h0M78.9 120.9h0M61.7 139.0h0M104.6 130.3h0M63.2 137.5h0M70.9 135.0h0M80.7 119.3h0M66.2 137.6h0M66.1 132.5h0M74.0 134.3h0M75.7 130.8h0M76.1 126.5h0M87.4 131.8h0M84.6 129.5h0M100.0 125.4h0M69.3 137.8h0M131.0 94.5h0M80.2 132.8h0M97.4 122.1h0M91.3 122.2h0M102.6 135.9h0M90.0 127.6h0M77.7 124.5h0M62.5 136.6h0M70.7 135.7h0M99.6 117.6h0M68.6 129.9h0M69.5 137.8h0M82.7 134.5h0M69.4 135.1h0M122.9 124.2h0M87.8 126.3h0M96.9 104.1h0M80.8 123.7h0M89.0 132.8h0M127.3 84.2h0M124.5 131.5h0M66.2 133.2h0M90.2 127.6h0M82.8 127.9h0M69.5 129.8h0M69.4 137.1h0M68.5 135.9h0M70.7 136.8h0M62.6 136.4h0M109.5 116.3h0M67.9 137.7h0M75.0 124.7h0M70.3 138.7h0M100.9 106.9h0M92.2 123.9h0M66.2 132.1h0M74.9 137.4h0M71.3 127.8h0M78.5 123.8h0M129.0 131.5h0M84.0 116.2h0M102.0 131.6h0M76.2 137.2h0M90.0 124.8h0M71.3 134.9h0M114.3 116.4h0M75.8 128.1h0M70.6 131.8h0M65.0 134.9h0M134.3 123.4h0M77.3 123.5h0M62.9 135.1h0M69.8 130.8h0M69.5 132.5h0M92.1 132.6h0M103.6 128.5h0M99.1 114.1h0M112.6 134.8h0M72.5 131.8h0M77.6 135.1h0M94.8 107.9h0M121.8 124.7h0M61.7 137.3h0M83.6 134.2h0M71.1 131.5h0M72.9 137.5h0M92.3 131.2h0M79.1 137.1h0M77.7 124.2h0M130.8 120.4h0M91.2 131.2h0M100.9 119.0h0M96.1 137.3h0M67.6 131.0h0M80.8 119.0h0M77.5 134.0h0M100.6 103.5h0M80.8 123.8h0M78.9 138.1h0M81.5 128.5h0M78.6 133.8h0M98.9 126.2h0M73.3 130.7h0M71.5 130.4h0M69.5 135.7h0M80.7 132.2h0M75.1 132.2h0M89.9 124.6h0M91.4 128.5h0M84.0 118.7h0M68.4 131.2h0M80.4 130.7h0M71.4 127.7h0M75.2 123.2h0M73.0 128.0h0M108.9 120.9h0M81.4 129.1h0M66.2 135.4h0M70.1 136.0h0M92.9 110.3h0M82.1 118.6h0M109.4 123.3h0M77.7 137.0h0M98.6 127.2h0M71.8 134.4h0M79.6 128.7h0M105.0 124.4h0M96.0 131.4h0M65.9 132.3h0M70.2 137.5h0M97.6 134.7h0M83.4 123.2h0M92.0 131.6h0M64.9 138.6h0M81.1 121.2h0M71.1 136.9h0M134.1 127.6h0M88.5 126.2h0M68.9 138.2h0M66.7 132.5h0M65.6 136.2h0M83.2 118.3h0M90.1 129.9h0M72.1 129.6h0M87.0 123.4h0M102.6 123.3h0M82.4 128.3h0M68.6 133.3h0M106.9 124.1h0M95.0 124.1h0M69.1 131.2h0M93.9 116.5h0M128.9 114.4h0M80.6 125.4h0M84.9 136.2h0M89.1 119.9h0M74.6 137.3h0M96.0 125.8h0M89.8 121.8h0M62.1 138.0h0M76.5 127.0h0M87.2 131.5h0M64.4 136.6h0M130.3 116.4h0M92.9 134.1h0M77.9 132.8h0M116.0 123.9h0M74.2 125.4h0M66.0 132.5h0M80.9 123.1h0M68.6 129.6h0M69.5 136.5h0M82.2 122.4h0M73.9 135.2h0M71.4 135.5h0M118.0 99.0h0M115.3 128.9h0M112.5 91.2h0M76.4 131.6h0M106.9 124.4h0M78.0 135.2h0M70.5 130.2h0M93.7 125.5h0M93.0 112.2h0M76.2 130.1h0M87.5 124.7h0M77.0 129.7h0M78.4 137.0h0M77.6 135.2h0M62.3 137.3h0M69.4 132.1h0M74.0 134.4h0M80.1 117.7h0M97.0 135.2h0M99.5 112.2h0M92.7 127.4h0M82.4 123.8h0M100.7 137.1h0M64.5 136.5h0M69.3 129.3h0M102.9 105.4h0M71.6 131.0h0M138.0 110.0h0M84.9 128.1h0M101.9 111.5h0M96.9 129.1h0M101.5 135.3h0M74.7 128.7h0M63.6 136.5h0M95.4 112.9h0M125.8 119.5h0M73.2 128.1h0M89.3 121.5h0M65.7 136.2h0M107.5 97.9h0M71.8 130.3h0M86.3 128.2h0M85.0 131.4h0M70.5 134.3h0M90.8 113.4h0M68.8 135.8h0M75.3 136.8h0M76.6 127.4h0M105.2 119.1h0M91.7 120.8h0M100.4 133.0h0M99.9 106.1h0M115.5 130.9h0M76.1 132.6h0M102.6 122.0h0M81.0 122.3h0M70.0 132.6h0M76.7 123.4h0M73.5 135.6h0M91.6 118.5h0M81.4 134.3h0M101.3 126.3h0M71.6 126.0h0M92.8 115.4h0M68.5 134.7h0M84.2 129.6h0M70.7 130.6h0M81.9 121.5h0M85.8 136.3h0M94.8 124.5h0M72.3 125.9h0M74.2 124.1h0M77.9 137.5h0M74.6 123.9h0M80.6 127.6h0M91.6 124.6h0M96.5 125.6h0M92.5 130.6h0M83.8 131.0h0M80.3 121.5h0M103.8 103.9h0M83.0 124.7h0M94.3 111.9h0M104.2 128.7h0M69.4 134.1h0M87.3 134.8h0M94.8 109.2h0M109.5 128.4h0M63.4 134.0h0M87.8 129.4h0M79.9 121.9h0M68.2 134.1h0M91.8 112.3h0M63.1 137.0h0M98.2 115.8h0M79.9 119.1h0M94.9 115.6h0M63.2 139.1h0M64.6 134.4h0M91.8 118.7h0M67.9 133.2h0M78.1 136.4h0M72.6 129.7h0M83.6 124.1h0M87.1 128.4h0M73.4 126.2h0M67.3 132.4h0M97.2 130.2h0M89.2 134.0h0M87.7 116.3h0M74.1 132.6h0M106.3 136.0h0M99.0 128.5h0M71.4 138.4h0M92.6 133.7h0M111.8 123.8h0M78.8 132.8h0M76.9 131.1h0M88.1 133.0h0M74.8 130.5h0M86.2 118.0h0M89.0 116.1h0M86.0 128.7h0M99.0 109.8h0M79.6 136.6h0M92.1 123.0h0M69.3 131.6h0M85.6 130.4h0M79.6 119.8h0M93.6 121.6h0M71.8 132.4h0M72.7 134.2h0M70.7 131.6h0M88.6 126.6h0M66.8 132.0h0M69.4 132.3h0M103.0 99.2h0M99.8 113.6h0M88.8 132.3h0M114.0 119.1h0M64.7 132.9h0M89.6 125.9h0M82.1 122.4h0M68.2 132.0h0M80.7 136.1h0M103.9 130.5h0M67.8 134.7h0M79.3 125.2h0M81.9 129.9h0M77.4 136.5h0M67.7 134.3h0M75.4 127.8h0M94.9 125.8h0M98.5 122.5h0M84.1 116.9h0M90.9 129.1h0M94.1 136.9h0M82.7 120.1h0M97.6 122.0h0M83.9 125.7h0M85.6 128.9h0M82.5 129.5h0M95.3 122.9h0M90.6 126.7h0M87.8 122.8h0M77.6 122.6h0M125.4 127.2h0M90.2 127.5h0M95.7 125.8h0M104.3 119.5h0M84.8 119.7h0M113.1 130.3h0M94.7 131.1h0M92.5 113.7h0M79.7 133.1h0M98.0 132.6h0M85.1 130.5h0M75.3 124.9h0M69.5 131.3h0M86.1 132.5h0M83.6 132.9h0M77.5 130.4h0M100.6 109.7h0M78.8 127.9h0M77.7 132.6h0M78.1 121.6h0M103.8 134.3h0M108.4 135.3h0M91.1 122.9h0M66.3 131.0h0M68.3 133.4h0M82.1 137.5h0M70.7 129.3h0M66.4 139.1h0M113.4 132.1h0M85.9 129.7h0M97.8 107.6h0M97.8 102.4h0M72.3 126.1h0M76.2 130.7h0M93.2 107.7h0M69.6 129.7h0M90.8 126.3h0M96.3 133.4h0M69.4 131.0h0M94.1 129.3h0M75.2 138.8h0M59.3 138.8h0M71.5 127.4h0M79.6 128.7h0M79.8 119.8h0M128.1 118.0h0M77.1 128.9h0M104.2 124.2h0M83.0 125.0h0M76.5 135.5h0M73.0 127.5h0M84.4 133.6h0M70.1 130.3h0M65.9 136.2h0M87.7 126.9h0M104.0 129.0h0M93.3 111.1h0M75.7 130.9h0M79.2 131.5h0M80.6 136.3h0M80.7 128.8h0M69.5 127.9h0M96.2 132.0h0M88.8 126.0h0M85.8 133.1h0M85.1 138.4h0M97.2 134.7h0M70.0 137.6h0M92.8 112.1h0M94.7 136.9h0M65.2 136.3h0M90.8 121.9h0M88.6 134.4h0M82.7 130.6h0M83.5 116.8h0M103.5 135.0h0M64.1 133.4h0M74.5 135.1h0M66.4 134.8h0M91.1 117.3h0M83.9 136.0h0M128.7 126.3h0M110.8 109.2h0M73.6 125.3h0M71.7 136.2h0M108.5 131.5h0M87.8 128.7h0M90.6 131.6h0M66.8 132.0h0M88.2 131.2h0M98.9 127.5h0M76.1 132.5h0M63.4 136.2h0M75.0 123.4h0M91.2 127.5h0M94.6 132.9h0M66.0 135.5h0M81.5 129.5h0M103.5 135.6h0M68.7 135.0h0M80.8 123.2h0M72.0 130.3h0M75.2 134.2h0M76.2 137.5h0M88.8 138.1h0M128.8 119.5h0M61.5 137.4h0M99.3 107.7h0M100.3 112.3h0M92.8 124.4h0M79.1 121.2h0M92.5 127.7h0M84.7 130.0h0M98.9 125.7h0M93.3 132.3h0M88.8 127.8h0M127.8 107.3h0M94.3 133.6h0M88.3 134.5h0M89.3 126.2h0M91.1 134.8h0M83.3 115.8h0M96.0 119.1h0M81.2 129.4h0M62.6 137.4h0M81.0 122.5h0M94.8 131.1h0M110.0 122.9h0M78.5 134.3h0M113.3 119.3h0M72.7 131.4h0M98.6 136.2h0M75.1 131.8h0M104.6 107.7h0M76.9 121.3h0M107.9 118.8h0M77.8 132.6h0M126.6 109.5h0M92.1 124.7h0M79.5 119.4h0M83.2 133.4h0M85.9 127.1h0M67.2 138.6h0M73.4 138.6h0M88.7 124.5h0M68.4 130.1h0M80.0 129.6h0M76.2 125.3h0M71.6 130.0h0M89.8 110.0h0M71.7 129.7h0M106.9 102.4h0M62.9 134.7h0M73.4 138.3h0M93.3 124.2h0M96.5 128.5h0M101.1 131.3h0M65.0 132.5h0M74.0 127.3h0M93.6 112.1h0M75.0 130.2h0M70.0 134.7h0M61.4 138.3h0M94.9 119.5h0M103.8 98.6h0M83.1 124.6h0M62.6 135.9h0M75.7 128.6h0M118.7 101.0h0M65.8 133.2h0M82.8 137.2h0M93.4 118.9h0M63.8 134.4h0M86.9 129.4h0M76.9 123.5h0M113.1 126.7h0M68.4 135.1h0M83.0 125.4h0M82.2 125.3h0M80.2 122.9h0M67.3 135.3h0M89.1 127.2h0M87.3 124.4h0M114.9 130.1h0M82.6 125.0h0M79.8 123.4h0M83.0 135.7h0M68.7 135.9h0M112.9 128.4h0M85.6 128.0h0M74.4 134.4h0M86.1 116.9h0M69.0 132.5h0M97.2 123.2h0M121.5 118.9h0M77.8 131.7h0M99.7 115.6h0M88.3 128.3h0M96.9 119.7h0M84.3 131.9h0M94.1 130.7h0M124.9 129.0h0M71.4 138.3h0M84.0 130.9h0M67.8 131.6h0M68.2 138.0h0M77.1 129.6h0M92.0 126.7h0M71.9 127.5h0M86.4 128.6h0M85.4 131.5h0M108.4 109.0h0M70.4 137.8h0M90.5 121.5h0M95.9 128.5h0M80.1 128.1h0M65.6 136.7h0M95.6 115.5h0M67.5 135.1h0M63.0 137.6h0M78.8 120.7h0M71.3 132.2h0M60.8 139.0h0M113.6 109.1h0M93.8 127.8h0M88.0 136.5h0M86.0 115.8h0M78.8 130.7h0M68.3 136.2h0M80.7 128.9h0M79.3 126.7h0M69.0 129.3h0M64.6 135.8h0M72.0 135.0h0M99.0 117.7h0M69.5 136.0h0M69.4 132.2h0M99.0 117.9h0M70.8 134.0h0M111.6 133.4h0M73.6 133.4h0M81.5 126.4h0M136.6 129.2h0M76.1 123.2h0M88.4 124.3h0M69.3 131.1h0M83.3 123.3h0M72.8 131.4h0M87.6 130.6h0M79.1 133.9h0M107.1 124.5h0M62.0 136.9h0M66.1 132.0h0M65.5 135.3h0M82.7 134.8h0M82.1 121.6h0M100.0 128.9h0M75.7 123.4h0M62.0 136.7h0M81.7 119.5h0M74.4 124.0h0M106.4 122.5h0M73.0 127.0h0M104.5 130.7h0M91.2 132.8h0M73.7 137.1h0M78.6 128.8h0M91.4 136.1h0M83.1 126.3h0M86.5 135.9h0M86.7 125.1h0M101.6 128.5h0M105.7 131.5h0M87.1 134.9h0M93.2 136.6h0M86.6 121.0h0M119.1 115.0h0M62.5 136.0h0M94.2 117.1h0M66.0 135.3h0M87.8 132.5h0M101.9 128.2h0M68.7 128.7h0M102.8 127.7h0M72.5 133.2h0M81.9 133.6h0M77.2 137.9h0M73.0 137.7h0M84.6 122.8h0M101.8 130.3h0M99.6 121.3h0M92.7 108.3h0M73.1 126.2h0M89.7 112.3h0M77.5 130.0h0M98.0 118.7h0M73.2 133.2h0M114.1 104.8h0M79.9 119.0h0M101.2 119.6h0M89.3 135.7h0M77.1 137.2h0M81.5 125.3h0M118.6 106.8h0M83.2 131.9h0M90.0 127.5h0M95.5 112.6h0M85.3 126.9h0M63.2 136.1h0M120.4 118.9h0M84.6 121.1h0M107.2 114.8h0M67.2 138.7h0M72.4 129.1h0M123.5 120.5h0M68.2 134.5h0M106.3 104.0h0M60.8 136.5h0M94.0 117.5h0M83.4 115.2h0M118.8 122.2h0M71.6 127.9h0M90.6 136.3h0M80.1 136.6h0M114.9 126.2h0M107.4 108.1h0M65.6 136.3h0M110.3 132.0h0M78.6 122.3h0M86.1 120.8h0M98.9 120.3h0M74.7 135.4h0M95.1 127.3h0M99.7 130.6h0M74.3 125.5h0M90.7 136.3h0M93.1 137.4h0M70.3 133.4h0M103.1 107.2h0M70.6 133.6h0M89.2 124.4h0M70.6 135.1h0M89.8 121.7h0M65.2 138.1h0M62.8 135.0h0M58.4 139.2h0M77.0 123.7h0M63.4 137.1h0M68.5 135.3h0M105.6 117.0h0M91.7 107.0h0M102.3 124.4h0M77.4 135.6h0M73.8 125.2h0M84.6 121.8h0M80.9 139.1h0M76.9 132.1h0M93.8 127.7h0M76.9 138.1h0M87.9 115.9h0M119.8 121.3h0M91.8 110.1h0M110.4 119.4h0M80.4 125.8h0M76.5 123.8h0M115.8 130.8h0M97.0 121.0h0M125.4 132.6h0M87.1 123.8h0M75.7 121.9h0M88.1 117.3h0M67.9 135.1h0M87.6 130.6h0M78.3 123.4h0M83.8 123.9h0M65.3 137.5h0M85.2 135.2h0M86.5 124.3h0M69.3 135.5h0M78.6 120.5h0M107.8 130.7h0M75.3 124.2h0M73.0 127.7h0M79.8 134.8h0M76.8 128.9h0M86.4 134.4h0M98.4 138.3h0M88.0 125.8h0M78.0 126.1h0M59.2 138.7h0M87.5 120.5h0M83.4 116.9h0M127.1 124.8h0M78.0 127.7h0M64.5 133.7h0M76.6 131.5h0M64.6 138.4h0M62.7 135.9h0M85.0 120.5h0M91.9 107.2h0M88.7 115.5h0M84.0 134.3h0M73.2 130.7h0M81.1 133.2h0M69.4 135.8h0M86.3 121.0h0M79.5 133.5h0M114.7 101.1h0M80.6 123.0h0M87.7 126.3h0M89.4 127.9h0M72.3 125.6h0M68.5 132.2h0M94.8 130.2h0M74.0 130.1h0M94.4 128.6h0M83.1 133.5h0M65.6 136.5h0M59.5 137.9h0M81.6 116.6h0M80.6 133.2h0M105.6 133.4h0M88.8 113.2h0M90.1 123.5h0M74.4 130.8h0M88.6 117.3h0M101.2 121.3h0M73.0 127.1h0M69.9 130.6h0M69.9 133.8h0M75.5 132.2h0M63.5 137.1h0M80.0 128.0h0M89.4 131.0h0M71.6 127.3h0M76.2 128.3h0M113.2 107.6h0M70.8 138.7h0M95.9 107.6h0M95.0 107.8h0M73.9 128.5h0M74.5 125.9h0M74.3 126.7h0M132.9 103.6h0M79.3 127.1h0M80.4 132.4h0M81.4 117.5h0M72.3 128.7h0M99.8 126.7h0M97.7 126.9h0M87.5 125.2h0M68.6 131.3h0M108.2 127.5h0M73.6 130.3h0M84.1 133.9h0M63.8 135.2h0M92.5 126.0h0M74.6 130.9h0M137.6 128.9h0M72.6 133.7h0M81.6 127.6h0M62.2 136.5h0M70.9 126.8h0M63.5 137.4h0M71.6 131.7h0M87.1 128.4h0M127.7 125.3h0M70.0 130.2h0M85.8 129.7h0M86.2 128.2h0M100.5 117.1h0M60.5 136.8h0M89.1 127.4h0M72.4 132.1h0M72.5 137.8h0M89.2 124.1h0M62.8 135.4h0M115.3 127.0h0M80.7 123.2h0M89.8 124.4h0M88.4 133.1h0M109.6 136.0h0M114.9 131.9h0M63.8 135.2h0M107.7 119.3h0M85.2 129.2h0M80.5 130.9h0M98.8 115.1h0M66.7 131.0h0M80.6 138.5h0M102.8 134.2h0M127.3 117.1h0M83.7 135.0h0M89.4 129.1h0M83.0 124.3h0M73.1 124.8h0M65.0 132.7h0M85.6 121.8h0M78.4 128.1h0M73.6 125.2h0M104.8 128.5h0M89.4 133.5h0M80.0 126.5h0M71.8 129.0h0M64.0 137.6h0M99.2 129.6h0M86.6 134.5h0M100.8 136.5h0M73.4 136.3h0M100.6 114.1h0M67.5 132.4h0M77.5 133.7h0M84.3 133.1h0M86.0 120.2h0M73.1 126.2h0M63.8 134.6h0M76.8 122.4h0M68.2 138.2h0M94.6 130.8h0M91.6 128.8h0M83.4 116.2h0M81.4 125.4h0M103.0 116.7h0M88.1 123.8h0M81.2 128.4h0M87.6 127.8h0M79.9 126.6h0M73.0 127.2h0M73.8 129.1h0M95.1 115.1h0M96.2 119.2h0M83.7 130.7h0M88.7 118.9h0M73.1 127.7h0M64.9 133.5h0M90.2 116.4h0M63.6 136.0h0M74.8 136.7h0M71.5 130.1h0M98.7 118.3h0M62.9 135.7h0M88.3 126.0h0M80.6 130.3h0M103.7 129.3h0M82.1 126.0h0M81.0 132.0h0M86.0 130.5h0M74.5 124.7h0M66.6 138.1h0M78.6 120.2h0M85.6 121.1h0M73.2 126.4h0M93.7 137.3h0M79.5 134.1h0M61.8 135.7h0M71.1 136.0h0M84.8 114.5h0M74.0 129.2h0M68.6 136.0h0M89.6 117.7h0M73.2 130.8h0M73.1 136.4h0M90.6 134.6h0M96.8 135.4h0M89.7 113.8h0M65.3 135.8h0M86.3 129.7h0M89.5 127.9h0M71.2 126.3h0M69.4 130.2h0M102.4 136.2h0M119.4 123.5h0M109.6 111.1h0M84.0 134.8h0M62.2 135.1h0M72.3 133.2h0M109.0 115.9h0M94.1 119.2h0M84.7 119.7h0M95.4 129.2h0M115.6 104.6h0M73.6 137.9h0M112.1 105.0h0M100.0 129.0h0M72.8 132.2h0M75.2 124.3h0M82.7 122.9h0M75.4 130.0h0M84.2 136.1h0M76.3 132.4h0M71.8 137.5h0M108.6 128.8h0M86.8 132.2h0M73.1 134.8h0M78.9 132.9h0M70.0 134.6h0M91.5 134.2h0M123.7 104.6h0M78.7 122.1h0M126.0 114.9h0M109.6 135.3h0M131.2 126.3h0M69.5 134.0h0M78.1 133.8h0M83.0 117.1h0M70.9 129.2h0M81.7 120.7h0M74.4 131.9h0M77.1 121.6h0M85.1 133.9h0M79.8 135.4h0M66.6 133.4h0M93.5 122.6h0M94.0 134.7h0M71.5 131.8h0M83.3 122.2h0M78.7 133.8h0M86.5 122.9h0M85.9 131.6h0M88.0 122.8h0M110.3 113.5h0M80.1 120.6h0M80.9 122.7h0M138.2 116.8h0M103.8 127.8h0M60.8 137.8h0M78.0 128.8h0M103.8 131.7h0M100.7 121.4h0M73.4 131.5h0M86.3 113.4h0M91.5 134.2h0M80.0 129.9h0M76.1 129.5h0M63.1 137.7h0M76.3 133.5h0M101.6 136.3h0M74.1 126.3h0M84.3 135.6h0M113.8 134.8h0M69.6 136.1h0M67.2 133.1h0M80.6 134.0h0M98.2 115.0h0M89.6 131.6h0M111.5 101.0h0M100.3 129.7h0M115.5 128.7h0M87.7 118.2h0M81.1 131.4h0M62.5 137.0h0M98.8 120.5h0M72.1 132.7h0M80.2 134.7h0M94.0 123.4h0M72.7 131.8h0M72.3 131.2h0M90.3 128.9h0M93.0 134.3h0M69.9 132.8h0M72.0 137.4h0M78.4 119.8h0M85.3 125.1h0M66.4 136.9h0M92.3 133.4h0M72.4 134.7h0M93.9 136.9h0M86.6 123.6h0M91.5 136.2h0M71.1 136.4h0M88.6 117.0h0M97.0 131.0h0M79.9 119.0h0M86.4 135.5h0M77.8 124.0h0M73.7 129.4h0M67.8 135.9h0M96.5 113.9h0M75.2 137.9h0M106.0 132.3h0M70.0 128.9h0M67.7 131.2h0M79.3 125.7h0M67.1 136.1h0M80.4 130.2h0M69.8 133.4h0M67.0 134.6h0M72.9 132.4h0M79.9 126.4h0M105.0 135.7h0M74.3 123.3h0M93.5 136.8h0M63.9 137.0h0M84.1 130.5h0M80.5 131.1h0M102.5 132.1h0M81.1 134.4h0M71.9 128.1h0M79.7 120.7h0M68.2 132.7h0M76.7 128.5h0M71.2 134.0h0M80.4 124.2h0M95.8 125.3h0M106.2 133.2h0M83.5 122.5h0M106.5 120.5h0M96.2 112.3h0M86.0 115.4h0M78.4 120.1h0M73.8 138.0h0M74.5 131.2h0M68.2 132.7h0M85.2 133.0h0M71.9 130.4h0M128.2 105.9h0M91.6 118.5h0M66.9 133.7h0M71.5 138.6h0M72.8 132.1h0M66.6 134.3h0M62.4 136.8h0M107.0 116.2h0M117.6 128.5h0M74.2 134.0h0M69.4 128.3h0M80.6 130.5h0M75.1 134.1h0M75.4 128.2h0M75.6 126.8h0M79.4 118.8h0M85.9 120.7h0M81.7 128.5h0M65.2 134.0h0M102.8 103.5h0M87.0 121.5h0M78.4 134.0h0M88.9 138.5h0M85.0 114.6h0M95.1 118.5h0M73.3 132.9h0M86.5 138.5h0M68.8 135.4h0M74.2 128.7h0M81.5 120.8h0M96.6 132.9h0M93.0 131.4h0M131.9 122.3h0M89.8 124.6h0M86.1 133.3h0M89.9 133.6h0M79.4 138.4h0M65.8 132.6h0M92.5 134.7h0M80.0 131.8h0M71.5 132.3h0M84.7 121.7h0M107.1 132.6h0M76.5 134.3h0M90.4 128.5h0M77.0 134.1h0M74.6 131.1h0M93.5 136.9h0M102.8 129.4h0M104.1 113.4h0M85.2 116.5h0M76.8 123.3h0M100.2 102.0h0M118.3 99.4h0M77.0 136.2h0M74.5 134.7h0M89.7 125.6h0M77.7 134.0h0M88.5 116.1h0M76.3 131.4h0M74.3 134.5h0M68.3 139.2h0M94.6 120.0h0M75.6 137.3h0M80.1 125.2h0M83.2 129.3h0M110.6 120.6h0M113.6 133.6h0M69.9 129.9h0M78.1 131.6h0M73.2 138.6h0M87.2 122.4h0M63.8 138.9h0M81.0 132.9h0M76.1 129.2h0M76.0 123.4h0M73.7 137.3h0M64.8 132.5h0M88.0 130.9h0M76.4 128.3h0M81.3 133.6h0M77.0 133.6h0M78.9 126.2h0M82.3 135.4h0M99.1 134.9h0M80.3 129.4h0M88.2 123.3h0M62.6 136.9h0M72.6 129.7h0M126.0 132.1h0M69.9 132.7h0M66.9 133.1h0M75.5 135.6h0M75.1 122.5h0M104.0 117.5h0M82.1 127.8h0M91.1 126.4h0M75.0 123.8h0M101.0 129.5h0M69.8 130.1h0M71.0 135.9h0M101.3 119.3h0M66.8 138.0h0M79.6 128.7h0M76.4 133.6h0M68.7 135.2h0M103.7 132.5h0M78.4 132.4h0M87.0 112.7h0M64.4 138.1h0M112.8 133.9h0M84.3 128.7h0M75.3 136.3h0M90.6 117.9h0M80.4 136.5h0M80.5 134.5h0M108.4 102.8h0M97.2 113.4h0M65.8 134.3h0M73.2 127.3h0M83.9 128.1h0M98.0 114.5h0M100.2 131.0h0M74.0 133.8h0M78.5 131.6h0M87.9 114.4h0M64.3 137.6h0M90.0 136.3h0M67.3 137.4h0M75.9 129.6h0M78.6 136.5h0M84.5 116.1h0M60.2 137.5h0M80.1 133.4h0M96.2 122.7h0M106.8 107.4h0M71.5 134.4h0M105.2 122.4h0M82.7 119.3h0M78.0 134.0h0M83.3 130.1h0M102.2 122.5h0M119.7 127.0h0M79.3 131.1h0M103.4 121.0h0M71.7 128.0h0M85.3 128.7h0M72.4 128.0h0M86.4 120.6h0M119.4 100.3h0M68.7 130.7h0M95.7 135.6h0M78.6 128.2h0M73.9 129.5h0M74.4 127.2h0M97.9 114.4h0M69.0 130.5h0M64.1 133.8h0M96.5 133.3h0M74.1 124.3h0M80.5 138.5h0M71.4 134.0h0M88.8 139.1h0M98.4 129.5h0M126.3 113.2h0M67.1 134.9h0M99.4 119.5h0M71.3 136.1h0M88.0 133.5h0M72.8 136.8h0M86.4 126.5h0M83.2 115.3h0M72.6 133.1h0M91.9 137.5h0M106.7 98.7h0M89.4 126.9h0M73.5 138.7h0M118.4 105.0h0M63.2 134.5h0M80.6 126.0h0M123.4 124.9h0M91.8 120.0h0M76.1 131.8h0M76.7 132.8h0M85.6 130.4h0M72.3 135.3h0M69.1 138.1h0M95.4 109.5h0M74.8 136.5h0M91.0 127.2h0M105.6 129.5h0M83.1 122.6h0M89.3 129.7h0M99.0 100.3h0M82.3 129.4h0M73.2 125.8h0M77.8 128.9h0M75.5 130.1h0M87.5 130.2h0M75.7 136.4h0M90.5 132.0h0M83.3 132.7h0M65.9 134.0h0M92.1 130.9h0M87.2 116.9h0M87.6 112.2h0M65.6 138.0h0M105.0 135.7h0M112.6 109.5h0M92.6 119.5h0M87.6 134.2h0M97.3 135.1h0M80.3 125.9h0M66.6 136.4h0M119.2 128.9h0M69.4 132.3h0M71.8 133.8h0M89.6 113.5h0" stroke="#651a1a" stroke-width="0.95" stroke-linecap="square" fill="none"/>
<path d="M78.3 55.3h0M59.9 80.3h0M58.9 90.3h0M43.5 121.3h0M40.5 130.3h0M49.7 110.3h0M41.9 126.9h0M64.0 96.3h0M61.9 97.3h0" stroke="#2e7d32" stroke-width="1.0" stroke-linecap="square" fill="none"/>
<line x1="37.40" y1="139.30" x2="37.40" y2="39.30" stroke="#000" stroke-width="0.5"/>
<line x1="37.40" y1="139.30" x2="139.60" y2="139.30" stroke="#000" stroke-width="0.5"/>
<line x1="34.20" y1="139.30" x2="37.40" y2="139.30" stroke="#000" stroke-width="0.5"/>
<text x="32.40" y="141.60" text-anchor="end">0</text>
<line x1="37.40" y1="139.30" x2="37.40" y2="142.50" stroke="#000" stroke-width="0.5"/>
<text x="37.40" y="150.90" text-anchor="middle">0</text>
<line x1="34.20" y1="119.30" x2="37.40" y2="119.30" stroke="#000" stroke-width="0.5"/>
<text x="32.40" y="121.60" text-anchor="end">10</text>
<line x1="57.84" y1="139.30" x2="57.84" y2="142.50" stroke="#000" stroke-width="0.5"/>
<text x="57.84" y="150.90" text-anchor="middle">10</text>
<line x1="34.20" y1="99.30" x2="37.40" y2="99.30" stroke="#000" stroke-width="0.5"/>
<text x="32.40" y="101.60" text-anchor="end">20</text>
<line x1="78.28" y1="139.30" x2="78.28" y2="142.50" stroke="#000" stroke-width="0.5"/>
<text x="78.28" y="150.90" text-anchor="middle">20</text>
<line x1="34.20" y1="79.30" x2="37.40" y2="79.30" stroke="#000" stroke-width="0.5"/>
<text x="32.40" y="81.60" text-anchor="end">30</text>
<line x1="98.72" y1="139.30" x2="98.72" y2="142.50" stroke="#000" stroke-width="0.5"/>
<text x="98.72" y="150.90" text-anchor="middle">30</text>
<line x1="34.20" y1="59.30" x2="37.40" y2="59.30" stroke="#000" stroke-width="0.5"/>
<text x="32.40" y="61.60" text-anchor="end">40</text>
<line x1="119.16" y1="139.30" x2="119.16" y2="142.50" stroke="#000" stroke-width="0.5"/>
<text x="119.16" y="150.90" text-anchor="middle">40</text>
<line x1="34.20" y1="39.30" x2="37.40" y2="39.30" stroke="#000" stroke-width="0.5"/>
<text x="32.40" y="41.60" text-anchor="end">50</text>
<line x1="139.60" y1="139.30" x2="139.60" y2="142.50" stroke="#000" stroke-width="0.5"/>
<text x="139.60" y="150.90" text-anchor="middle">50</text>
<line x1="37.40" y1="119.30" x2="119.16" y2="39.30" stroke="#000" stroke-width="0.9" stroke-dasharray="2.6 1.4"/>
<line x1="57.84" y1="139.30" x2="139.60" y2="59.30" stroke="#000" stroke-width="0.9" stroke-dasharray="2.6 1.4"/>
<line x1="38.42" y1="139.30" x2="139.60" y2="101.30" stroke="#000" stroke-width="1.3"/>
<defs><marker id="ah" viewBox="0 0 10 10" refX="8.5" refY="5" markerWidth="5" markerHeight="5" orient="auto-start-reverse"><path d="M0 1.2L10 5L0 8.8z" fill="#111"/></marker></defs>
<line x1="116.2" y1="44.6" x2="134.4" y2="62.4" stroke="#111" stroke-width="0.85" marker-start="url(#ah)" marker-end="url(#ah)"/>
<text transform="translate(122.4 35.0) rotate(44)" style="font-size:7.5px;stroke-width:0.05px">|<tspan style="font-style:italic">Δ</tspan>| ≤ 10%</text>
<text x="40.80" y="43.90">r = 0.667</text>
<text x="88.70" y="163.00" text-anchor="middle" style="font-size:8.05px;">HSV-1 downstream transcription</text>
<text x="88.70" y="170.80" text-anchor="middle" style="font-size:8.05px;">level (%)</text>
<text text-anchor="middle" transform="translate(10.40 89.00) rotate(-90)">Mock downstream</text>
<text text-anchor="middle" transform="translate(18.60 89.00) rotate(-90)">transcription level (%)</text>
<text x="187.00" y="7.60" style="font-size:10.2px;font-weight:bold;">b</text>
<text x="278.50" y="12.60" text-anchor="middle" style="font-size:7.5px;">HSV-1</text>
<rect x="263.9" y="15.1" width="29.2" height="11.2" rx="5.2" fill="#ef5464"/>
<text x="278.50" y="23.50" text-anchor="middle" style="font-size:7.6px;fill:#fff;stroke:none;">ICP27</text>
<line x1="278.50" y1="29.00" x2="278.50" y2="38.60" stroke="#444" stroke-width="0.7"/>
<line x1="276.00" y1="38.60" x2="281.40" y2="38.60" stroke="#444" stroke-width="0.7"/>
<ellipse cx="218.1" cy="80.7" rx="8.3" ry="6.7" fill="#8d8f1c" stroke="#333" stroke-width="0.35"/>
<text x="218.00" y="83.80" text-anchor="middle" style="font-size:5.6px;fill:#fff;stroke:none;">Fip1</text>
<line x1="195.90" y1="76.40" x2="213.20" y2="76.40" stroke="#000" stroke-width="2.4" stroke-dasharray="1.15 0.88"/>
<line x1="212.90" y1="76.40" x2="317.20" y2="76.40" stroke="#000" stroke-width="2.6"/>
<ellipse cx="260.6" cy="55.6" rx="22.2" ry="10.6" fill="#b79fdd" stroke="#333" stroke-width="0.35"/>
<text x="254.60" y="57.40" text-anchor="middle" style="font-size:5.8px;fill:#fff;stroke:none;">CPSF1</text>
<ellipse cx="246.6" cy="72.2" rx="15.6" ry="10.2" fill="#f6a53c" stroke="#333" stroke-width="0.35"/>
<text x="246.60" y="70.80" text-anchor="middle" style="font-size:6.1px;fill:#fff;stroke:none;">WDR33</text>
<rect x="232.6" y="73.2" width="35.6" height="8.4" fill="#fff" stroke="#6a7fc0" stroke-width="0.4"/>
<text x="251.40" y="80.00" text-anchor="middle" style="font-size:6.0px;fill:#111;stroke:#111;">AAUAAA</text>
<ellipse cx="297.6" cy="61.6" rx="18.0" ry="11.2" fill="#6fd8b4" stroke="#333" stroke-width="0.35"/>
<text x="301.20" y="64.00" text-anchor="middle" style="font-size:6.6px;fill:#fff;stroke:none;">SYMPK</text>
<ellipse cx="273.8" cy="66.0" rx="16.2" ry="9.7" fill="#f590a2" stroke="#333" stroke-width="0.35"/>
<text x="273.60" y="68.20" text-anchor="middle" style="font-size:5.9px;fill:#fff;stroke:none;">CPSF2</text>
<ellipse cx="290.8" cy="76.2" rx="10.4" ry="9.5" fill="#f1786a" stroke="#333" stroke-width="0.35"/>
<text x="290.80" y="75.40" text-anchor="middle" style="font-size:5.3px;fill:#fff;stroke:none;">CPSF</text>
<text x="290.80" y="81.80" text-anchor="middle" style="font-size:5.3px;fill:#fff;stroke:none;">3</text>
<ellipse cx="233.6" cy="83.4" rx="8.6" ry="7.1" fill="#57a8e8" stroke="#333" stroke-width="0.35"/>
<text x="233.80" y="82.20" text-anchor="middle" style="font-size:5.2px;fill:#fff;stroke:none;">CPSF</text>
<text x="233.80" y="88.40" text-anchor="middle" style="font-size:5.2px;fill:#fff;stroke:none;">4</text>
<text x="188.60" y="60.20">Host</text>
<text x="188.60" y="68.40">pre-mRNA</text>
<text x="188.60" y="78.90">5′</text>
<text x="321.40" y="78.60">3′</text>
<g stroke="#444" stroke-width="0.5" fill="none"><path d="M319.5 66.6L318.1 80.2M323.5 68.2L315.6 75.8"/><path d="M319.1 70.6L315.4 75.9L318.7 75.6z" fill="#777" stroke="none"/><ellipse cx="319.7" cy="64.6" rx="1.0" ry="1.9"/><ellipse cx="324.7" cy="66.8" rx="1.0" ry="1.9" transform="rotate(52 324.7 66.8)"/></g>
<line x1="280.80" y1="88.60" x2="280.80" y2="98.70" stroke="#111" stroke-width="0.6"/>
<path d="M278.7 97.60000000000001L280.8 101.2L282.90000000000003 97.60000000000001z" fill="#111"/>
<text x="280.80" y="109.40" text-anchor="middle">Improper</text>
<text x="280.80" y="119.40" text-anchor="middle">3′-end processing</text>
<line x1="280.80" y1="122.60" x2="280.80" y2="132.70" stroke="#111" stroke-width="0.6"/>
<path d="M278.7 131.6L280.8 135.2L282.90000000000003 131.6z" fill="#111"/>
<text x="280.80" y="145.20" text-anchor="middle">DoTT</text>
<text x="354.60" y="7.40" style="font-size:10.2px;font-weight:bold;">c</text>
<text x="461.70" y="7.20" text-anchor="middle">Flag–ICP27</text>
<line x1="412.30" y1="10.60" x2="511.60" y2="10.60" stroke="#000" stroke-width="0.5"/>
<text x="425.70" y="19.00" text-anchor="middle">6 h</text>
<text x="478.70" y="19.00" text-anchor="middle">18 h</text>
<line x1="444.00" y1="21.60" x2="514.70" y2="21.60" stroke="#000" stroke-width="0.5"/>
<text x="389.40" y="29.00" text-anchor="middle">Vec</text>
<text x="499.80" y="29.00" text-anchor="middle">RNase A</text>
<text text-anchor="middle" style="fill:#e8262a;stroke:#e8262a;" transform="translate(369.30 48.60) rotate(-90)">Z-RNA</text>
<text text-anchor="middle" style="fill:#3db54a;stroke:#3db54a;" transform="translate(369.30 84.60) rotate(-90)">Flag</text>
<text text-anchor="middle" style="fill:#2b2bd6;stroke:#2b2bd6;" transform="translate(361.40 121.50) rotate(-90)">DAPI</text>
<text text-anchor="middle" style="fill:#111;stroke:#111;" transform="translate(369.30 121.50) rotate(-90)">Merged</text>
<defs>
<filter id="b1" x="-20%" y="-20%" width="140%" height="140%"><feGaussianBlur stdDeviation="0.7"/></filter>
<filter id="b2" x="-20%" y="-20%" width="140%" height="140%"><feGaussianBlur stdDeviation="1.4"/></filter>
<filter id="b05" x="-20%" y="-20%" width="140%" height="140%"><feGaussianBlur stdDeviation="0.4"/></filter>
<filter id="tx" x="-10%" y="-10%" width="120%" height="120%">
<feGaussianBlur in="SourceGraphic" stdDeviation="0.9" result="s"/>
<feTurbulence type="fractalNoise" baseFrequency="0.85" numOctaves="2" seed="4" result="n"/>
<feColorMatrix in="n" type="matrix" values="0 0 0 0 0 0 0 0 0 0 0 0 0 0 0 2.8 0 0 0 -0.95" result="m"/>
<feComposite in="s" in2="m" operator="in"/>
</filter>
<filter id="tx2" x="-10%" y="-10%" width="120%" height="120%">
<feGaussianBlur in="SourceGraphic" stdDeviation="0.6" result="s"/>
<feTurbulence type="fractalNoise" baseFrequency="0.4" numOctaves="2" seed="9" result="n"/>
<feColorMatrix in="n" type="matrix" values="0 0 0 0 0 0 0 0 0 0 0 0 0 0 0 3.2 0 0 0 -1.3" result="m"/>
<feComposite in="s" in2="m" operator="in"/>
</filter>
<radialGradient id="rg6" gradientUnits="userSpaceOnUse" cx="17" cy="21" r="28"><stop offset="0" stop-color="#d00b0b"/><stop offset="0.28" stop-color="#9a0606"/><stop offset="0.55" stop-color="#5a0303"/><stop offset="1" stop-color="#2c0101"/></radialGradient>
<radialGradient id="rg18" gradientUnits="userSpaceOnUse" cx="12" cy="16" r="26"><stop offset="0" stop-color="#dc0c0c"/><stop offset="0.45" stop-color="#b40808"/><stop offset="1" stop-color="#4a0202"/></radialGradient>
</defs>
<clipPath id="cp00"><rect x="0" y="0" width="35.0" height="34.8"/></clipPath>
<clipPath id="cp01"><rect x="0" y="0" width="35.0" height="34.8"/></clipPath>
<clipPath id="cp02"><rect x="0" y="0" width="35.0" height="34.8"/></clipPath>
<clipPath id="cp03"><rect x="0" y="0" width="35.0" height="34.8"/></clipPath>
<clipPath id="cp10"><rect x="0" y="0" width="35.0" height="34.8"/></clipPath>
<clipPath id="cp11"><rect x="0" y="0" width="35.0" height="34.8"/></clipPath>
<clipPath id="cp12"><rect x="0" y="0" width="35.0" height="34.8"/></clipPath>
<clipPath id="cp13"><rect x="0" y="0" width="35.0" height="34.8"/></clipPath>
<clipPath id="cp20"><rect x="0" y="0" width="35.0" height="34.8"/></clipPath>
<clipPath id="cp21"><rect x="0" y="0" width="35.0" height="34.8"/></clipPath>
<clipPath id="cp22"><rect x="0" y="0" width="35.0" height="34.8"/></clipPath>
<clipPath id="cp23"><rect x="0" y="0" width="35.0" height="34.8"/></clipPath>
<g transform="translate(371.8 31.0)" clip-path="url(#cp00)">
<rect width="35.0" height="34.8" fill="#000"/>
<path d="M22.50 10.00C24.23 10.32 26.98 12.23 28.00 13.40C29.02 14.57 29.02 15.68 28.60 17.00C28.18 18.32 27.13 19.93 25.50 21.30C23.87 22.67 21.02 24.33 18.80 25.20C16.58 26.07 13.67 26.85 12.20 26.50C10.73 26.15 9.90 24.78 10.00 23.10C10.10 21.42 11.53 18.33 12.80 16.40C14.07 14.47 15.98 12.57 17.60 11.50C19.22 10.43 20.77 9.68 22.50 10.00z" fill="none" stroke="#fff" stroke-opacity="1" stroke-width="1.05" stroke-dasharray="0.01 2.05" stroke-linecap="round"/>
</g>
<g transform="translate(408.3 31.0)" clip-path="url(#cp01)">
<rect width="35.0" height="34.8" fill="#000"/>
<g opacity="1.0"><path d="M3 0L35 0L35 28.6L28 27.6L15 26L5 23.4L0 22.4L0 7z" fill="url(#rg6)" opacity="0.9" filter="url(#b1)"/><path d="M3 0L35 0L35 28.6L28 27.6L15 26L5 23.4L0 22.4L0 7z" fill="#ff2a2a" opacity="0.22" filter="url(#tx)"/><path d="M0 22.6L5 23.6L15 26.2L28 27.8" stroke="#e01010" stroke-width="0.9" fill="none" opacity="0.8" filter="url(#b05)"/><ellipse cx="19.5" cy="19" rx="8.6" ry="6" fill="#000" opacity="0.3" filter="url(#b1)"/><circle cx="3.3" cy="4.8" r="0.9" fill="#e01818" filter="url(#b05)"/></g>
<path d="M29.20 19.20C29.20 20.42 28.71 21.80 27.90 22.85C27.09 23.90 25.75 24.91 24.35 25.52C22.95 26.13 21.12 26.50 19.50 26.50C17.88 26.50 16.05 26.13 14.65 25.52C13.25 24.91 11.91 23.90 11.10 22.85C10.29 21.80 9.80 20.42 9.80 19.20C9.80 17.98 10.29 16.60 11.10 15.55C11.91 14.50 13.25 13.49 14.65 12.88C16.05 12.27 17.88 11.90 19.50 11.90C21.12 11.90 22.95 12.27 24.35 12.88C25.75 13.49 27.09 14.50 27.90 15.55C28.71 16.60 29.20 17.98 29.20 19.20z" fill="none" stroke="#fff" stroke-opacity="1" stroke-width="1.25" stroke-dasharray="0.01 2.05" stroke-linecap="round"/>
</g>
<g transform="translate(445.8 31.0)" clip-path="url(#cp02)">
<rect width="35.0" height="34.8" fill="#000"/>
<g opacity="1.0"><path d="M0 0L11.5 0L22 10L35 22.5L35 27.5L25 26L14 28.2L3 32.6L0 33z" fill="url(#rg18)" opacity="0.92" filter="url(#b1)"/><path d="M0 0L11.5 0L22 10L35 22.5L35 27.5L25 26L14 28.2L3 32.6L0 33z" fill="#ff3030" opacity="0.25" filter="url(#tx)"/><path d="M0 0L11.5 0L22 10L35 22.5L35 27.5L25 26L14 28.2L3 32.6L0 33z" fill="#000" opacity="0.35" filter="url(#tx2)"/><circle cx="15.3" cy="18.4" r="6.8" fill="#000" opacity="0.25" filter="url(#b1)"/></g>
<path d="M23.70 18.50C23.70 19.78 23.27 21.24 22.57 22.35C21.87 23.46 20.71 24.53 19.50 25.17C18.29 25.81 16.70 26.20 15.30 26.20C13.90 26.20 12.31 25.81 11.10 25.17C9.89 24.53 8.73 23.46 8.03 22.35C7.33 21.24 6.90 19.78 6.90 18.50C6.90 17.22 7.33 15.76 8.03 14.65C8.73 13.54 9.89 12.47 11.10 11.83C12.31 11.19 13.90 10.80 15.30 10.80C16.70 10.80 18.29 11.19 19.50 11.83C20.71 12.47 21.87 13.54 22.57 14.65C23.27 15.76 23.70 17.22 23.70 18.50z" fill="none" stroke="#fff" stroke-opacity="1" stroke-width="1.25" stroke-dasharray="0.01 2.05" stroke-linecap="round"/>
</g>
<g transform="translate(482.3 31.0)" clip-path="url(#cp03)">
<rect width="35.0" height="34.8" fill="#000"/>
<path d="M22.50 8.10C24.08 8.52 25.50 10.52 25.90 12.20C26.30 13.88 25.67 16.18 24.90 18.20C24.13 20.22 22.72 22.88 21.30 24.30C19.88 25.72 18.03 26.63 16.40 26.70C14.77 26.77 12.75 25.92 11.50 24.70C10.25 23.48 9.00 21.18 8.90 19.40C8.80 17.62 9.65 15.62 10.90 14.00C12.15 12.38 14.47 10.68 16.40 9.70C18.33 8.72 20.92 7.68 22.50 8.10z" fill="none" stroke="#fff" stroke-opacity="1" stroke-width="1.1" stroke-dasharray="0.01 2.05" stroke-linecap="round"/>
</g>
<g transform="translate(371.8 67.8)" clip-path="url(#cp10)">
<rect width="35.0" height="34.8" fill="#000"/>
<path d="M2 27L9 23" stroke="#083808" stroke-width="0.8" filter="url(#b1)"/>
<path d="M22.50 10.00C24.23 10.32 26.98 12.23 28.00 13.40C29.02 14.57 29.02 15.68 28.60 17.00C28.18 18.32 27.13 19.93 25.50 21.30C23.87 22.67 21.02 24.33 18.80 25.20C16.58 26.07 13.67 26.85 12.20 26.50C10.73 26.15 9.90 24.78 10.00 23.10C10.10 21.42 11.53 18.33 12.80 16.40C14.07 14.47 15.98 12.57 17.60 11.50C19.22 10.43 20.77 9.68 22.50 10.00z" fill="none" stroke="#fff" stroke-opacity="1" stroke-width="1.05" stroke-dasharray="0.01 2.05" stroke-linecap="round"/>
</g>
<g transform="translate(408.3 67.8)" clip-path="url(#cp11)">
<rect width="35.0" height="34.8" fill="#000"/>
<path d="M1 19L6 12L13 9L14 25L20 28L12 27L5 22z" fill="#1c8a1c" opacity="0.85" filter="url(#b2)"/>
<path d="M2 18L10 15M4 14L11 11.5" stroke="#2a9a2a" stroke-width="0.7" opacity="0.8" filter="url(#b1)"/>
<path d="M29.20 19.20C29.20 20.42 28.71 21.80 27.90 22.85C27.09 23.90 25.75 24.91 24.35 25.52C22.95 26.13 21.12 26.50 19.50 26.50C17.88 26.50 16.05 26.13 14.65 25.52C13.25 24.91 11.91 23.90 11.10 22.85C10.29 21.80 9.80 20.42 9.80 19.20C9.80 17.98 10.29 16.60 11.10 15.55C11.91 14.50 13.25 13.49 14.65 12.88C16.05 12.27 17.88 11.90 19.50 11.90C21.12 11.90 22.95 12.27 24.35 12.88C25.75 13.49 27.09 14.50 27.90 15.55C28.71 16.60 29.20 17.98 29.20 19.20z" fill="#2fe82f" filter="url(#b05)"/>
<g fill="#0f7a0f" filter="url(#b05)"><circle cx="21" cy="17.6" r="0.8"/><circle cx="24" cy="21" r="0.7"/><circle cx="17" cy="21.6" r="0.6"/></g>
<path d="M29.20 19.20C29.20 20.42 28.71 21.80 27.90 22.85C27.09 23.90 25.75 24.91 24.35 25.52C22.95 26.13 21.12 26.50 19.50 26.50C17.88 26.50 16.05 26.13 14.65 25.52C13.25 24.91 11.91 23.90 11.10 22.85C10.29 21.80 9.80 20.42 9.80 19.20C9.80 17.98 10.29 16.60 11.10 15.55C11.91 14.50 13.25 13.49 14.65 12.88C16.05 12.27 17.88 11.90 19.50 11.90C21.12 11.90 22.95 12.27 24.35 12.88C25.75 13.49 27.09 14.50 27.90 15.55C28.71 16.60 29.20 17.98 29.20 19.20z" fill="none" stroke="#fff" stroke-opacity="1" stroke-width="1.25" stroke-dasharray="0.01 2.05" stroke-linecap="round"/>
</g>
<g transform="translate(445.8 67.8)" clip-path="url(#cp12)">
<rect width="35.0" height="34.8" fill="#000"/>
<path d="M18 20L30 24L24 30L14 28z" fill="#167016" filter="url(#b2)"/>
<path d="M23.70 18.50C23.70 19.78 23.27 21.24 22.57 22.35C21.87 23.46 20.71 24.53 19.50 25.17C18.29 25.81 16.70 26.20 15.30 26.20C13.90 26.20 12.31 25.81 11.10 25.17C9.89 24.53 8.73 23.46 8.03 22.35C7.33 21.24 6.90 19.78 6.90 18.50C6.90 17.22 7.33 15.76 8.03 14.65C8.73 13.54 9.89 12.47 11.10 11.83C12.31 11.19 13.90 10.80 15.30 10.80C16.70 10.80 18.29 11.19 19.50 11.83C20.71 12.47 21.87 13.54 22.57 14.65C23.27 15.76 23.70 17.22 23.70 18.50z" fill="#2fe02f" filter="url(#b05)"/>
<g fill="#0a3a0a" filter="url(#b05)"><circle cx="13.4" cy="16.8" r="1.3"/><circle cx="17.6" cy="20.6" r="1.2"/><circle cx="12.2" cy="21.8" r="0.9"/><circle cx="18.2" cy="14.6" r="0.8"/></g>
<path d="M23.70 18.50C23.70 19.78 23.27 21.24 22.57 22.35C21.87 23.46 20.71 24.53 19.50 25.17C18.29 25.81 16.70 26.20 15.30 26.20C13.90 26.20 12.31 25.81 11.10 25.17C9.89 24.53 8.73 23.46 8.03 22.35C7.33 21.24 6.90 19.78 6.90 18.50C6.90 17.22 7.33 15.76 8.03 14.65C8.73 13.54 9.89 12.47 11.10 11.83C12.31 11.19 13.90 10.80 15.30 10.80C16.70 10.80 18.29 11.19 19.50 11.83C20.71 12.47 21.87 13.54 22.57 14.65C23.27 15.76 23.70 17.22 23.70 18.50z" fill="none" stroke="#fff" stroke-opacity="1" stroke-width="1.25" stroke-dasharray="0.01 2.05" stroke-linecap="round"/>
</g>
<g transform="translate(482.3 67.8)" clip-path="url(#cp13)">
<rect width="35.0" height="34.8" fill="#000"/>
<path d="M35 -1L29 5L23 9L10 22L8 35L14 35L17 27L26 14L31 8L36 4z" fill="#093809" opacity="0.9" filter="url(#b2)"/>
<path d="M34 0L27 8" stroke="#0f5a0f" stroke-width="1.1" filter="url(#b1)"/>
<path d="M13 27L11 35" stroke="#146414" stroke-width="1.4" filter="url(#b1)"/>
<path d="M22.50 8.10C24.08 8.52 25.50 10.52 25.90 12.20C26.30 13.88 25.67 16.18 24.90 18.20C24.13 20.22 22.72 22.88 21.30 24.30C19.88 25.72 18.03 26.63 16.40 26.70C14.77 26.77 12.75 25.92 11.50 24.70C10.25 23.48 9.00 21.18 8.90 19.40C8.80 17.62 9.65 15.62 10.90 14.00C12.15 12.38 14.47 10.68 16.40 9.70C18.33 8.72 20.92 7.68 22.50 8.10z" fill="#178a17" filter="url(#b05)"/>
<g fill="#031003" filter="url(#b05)"><ellipse cx="17.5" cy="13.2" rx="2.7" ry="1.9"/><ellipse cx="22" cy="15.4" rx="1.7" ry="2.3"/><ellipse cx="15.8" cy="19.6" rx="2.2" ry="2.5"/><ellipse cx="20" cy="21.4" rx="1.5" ry="1.4"/></g>
<g fill="#30d830" filter="url(#b05)"><circle cx="12.2" cy="17" r="1.5"/><circle cx="19.2" cy="17.4" r="1.1"/><circle cx="13.6" cy="23.2" r="1.7"/><circle cx="22.6" cy="10.8" r="1.1"/></g>
<path d="M22.50 8.10C24.08 8.52 25.50 10.52 25.90 12.20C26.30 13.88 25.67 16.18 24.90 18.20C24.13 20.22 22.72 22.88 21.30 24.30C19.88 25.72 18.03 26.63 16.40 26.70C14.77 26.77 12.75 25.92 11.50 24.70C10.25 23.48 9.00 21.18 8.90 19.40C8.80 17.62 9.65 15.62 10.90 14.00C12.15 12.38 14.47 10.68 16.40 9.70C18.33 8.72 20.92 7.68 22.50 8.10z" fill="none" stroke="#fff" stroke-opacity="1" stroke-width="1.1" stroke-dasharray="0.01 2.05" stroke-linecap="round"/>
</g>
<g transform="translate(371.8 104.3)" clip-path="url(#cp20)">
<rect width="35.0" height="34.8" fill="#000"/>
<path d="M22.50 10.00C24.23 10.32 26.98 12.23 28.00 13.40C29.02 14.57 29.02 15.68 28.60 17.00C28.18 18.32 27.13 19.93 25.50 21.30C23.87 22.67 21.02 24.33 18.80 25.20C16.58 26.07 13.67 26.85 12.20 26.50C10.73 26.15 9.90 24.78 10.00 23.10C10.10 21.42 11.53 18.33 12.80 16.40C14.07 14.47 15.98 12.57 17.60 11.50C19.22 10.43 20.77 9.68 22.50 10.00z" fill="#1c2ce6" filter="url(#b05)"/>
<g fill="#0c159a" filter="url(#b1)"><circle cx="17" cy="20.5" r="1.6"/><circle cx="22.5" cy="16" r="1.4"/><circle cx="14" cy="23.4" r="1.1"/></g>
<path d="M2 28L8 24" stroke="#083008" stroke-width="0.7" filter="url(#b1)"/>
<rect x="18.2" y="31.9" width="9.6" height="2.2" fill="#fff"/>
<path d="M22.50 10.00C24.23 10.32 26.98 12.23 28.00 13.40C29.02 14.57 29.02 15.68 28.60 17.00C28.18 18.32 27.13 19.93 25.50 21.30C23.87 22.67 21.02 24.33 18.80 25.20C16.58 26.07 13.67 26.85 12.20 26.50C10.73 26.15 9.90 24.78 10.00 23.10C10.10 21.42 11.53 18.33 12.80 16.40C14.07 14.47 15.98 12.57 17.60 11.50C19.22 10.43 20.77 9.68 22.50 10.00z" fill="none" stroke="#fff" stroke-opacity="1" stroke-width="1.05" stroke-dasharray="0.01 2.05" stroke-linecap="round"/>
</g>
<g transform="translate(408.3 104.3)" clip-path="url(#cp21)">
<rect width="35.0" height="34.8" fill="#000"/>
<g opacity="0.85"><path d="M3 0L35 0L35 28.6L28 27.6L15 26L5 23.4L0 22.4L0 7z" fill="url(#rg6)" opacity="0.9" filter="url(#b1)"/><path d="M3 0L35 0L35 28.6L28 27.6L15 26L5 23.4L0 22.4L0 7z" fill="#ff2a2a" opacity="0.22" filter="url(#tx)"/><path d="M0 22.6L5 23.6L15 26.2L28 27.8" stroke="#e01010" stroke-width="0.9" fill="none" opacity="0.8" filter="url(#b05)"/><ellipse cx="19.5" cy="19" rx="8.6" ry="6" fill="#000" opacity="0.3" filter="url(#b1)"/><circle cx="3.3" cy="4.8" r="0.9" fill="#e01818" filter="url(#b05)"/></g>
<path d="M2 18L12 12L13 22L6 19z" fill="#4a8a20" opacity="0.8" filter="url(#b2)"/>
<path d="M29.20 19.20C29.20 20.42 28.71 21.80 27.90 22.85C27.09 23.90 25.75 24.91 24.35 25.52C22.95 26.13 21.12 26.50 19.50 26.50C17.88 26.50 16.05 26.13 14.65 25.52C13.25 24.91 11.91 23.90 11.10 22.85C10.29 21.80 9.80 20.42 9.80 19.20C9.80 17.98 10.29 16.60 11.10 15.55C11.91 14.50 13.25 13.49 14.65 12.88C16.05 12.27 17.88 11.90 19.50 11.90C21.12 11.90 22.95 12.27 24.35 12.88C25.75 13.49 27.09 14.50 27.90 15.55C28.71 16.60 29.20 17.98 29.20 19.20z" fill="#35d59a" filter="url(#b05)"/>
<g fill="#2a6ad8" filter="url(#b05)"><circle cx="16" cy="20" r="1.6"/><circle cx="22" cy="22" r="1.5"/><circle cx="24" cy="17" r="1.2"/><circle cx="18" cy="16" r="1.0"/><circle cx="20" cy="24.5" r="1.2"/></g>
<path d="M29.20 19.20C29.20 20.42 28.71 21.80 27.90 22.85C27.09 23.90 25.75 24.91 24.35 25.52C22.95 26.13 21.12 26.50 19.50 26.50C17.88 26.50 16.05 26.13 14.65 25.52C13.25 24.91 11.91 23.90 11.10 22.85C10.29 21.80 9.80 20.42 9.80 19.20C9.80 17.98 10.29 16.60 11.10 15.55C11.91 14.50 13.25 13.49 14.65 12.88C16.05 12.27 17.88 11.90 19.50 11.90C21.12 11.90 22.95 12.27 24.35 12.88C25.75 13.49 27.09 14.50 27.90 15.55C28.71 16.60 29.20 17.98 29.20 19.20z" fill="none" stroke="#fff" stroke-opacity="1" stroke-width="1.25" stroke-dasharray="0.01 2.05" stroke-linecap="round"/>
</g>
<g transform="translate(445.8 104.3)" clip-path="url(#cp22)">
<rect width="35.0" height="34.8" fill="#000"/>
<g opacity="0.9"><path d="M0 0L11.5 0L22 10L35 22.5L35 27.5L25 26L14 28.2L3 32.6L0 33z" fill="url(#rg18)" opacity="0.92" filter="url(#b1)"/><path d="M0 0L11.5 0L22 10L35 22.5L35 27.5L25 26L14 28.2L3 32.6L0 33z" fill="#ff3030" opacity="0.25" filter="url(#tx)"/><path d="M0 0L11.5 0L22 10L35 22.5L35 27.5L25 26L14 28.2L3 32.6L0 33z" fill="#000" opacity="0.35" filter="url(#tx2)"/><circle cx="15.3" cy="18.4" r="6.8" fill="#000" opacity="0.25" filter="url(#b1)"/></g>
<path d="M23.70 18.50C23.70 19.78 23.27 21.24 22.57 22.35C21.87 23.46 20.71 24.53 19.50 25.17C18.29 25.81 16.70 26.20 15.30 26.20C13.90 26.20 12.31 25.81 11.10 25.17C9.89 24.53 8.73 23.46 8.03 22.35C7.33 21.24 6.90 19.78 6.90 18.50C6.90 17.22 7.33 15.76 8.03 14.65C8.73 13.54 9.89 12.47 11.10 11.83C12.31 11.19 13.90 10.80 15.30 10.80C16.70 10.80 18.29 11.19 19.50 11.83C20.71 12.47 21.87 13.54 22.57 14.65C23.27 15.76 23.70 17.22 23.70 18.50z" fill="#34d84a" filter="url(#b05)"/>
<g fill="#2a50c8" filter="url(#b05)"><circle cx="13.4" cy="16.8" r="1.4"/><circle cx="17.6" cy="20.6" r="1.3"/><circle cx="12.2" cy="21.8" r="1.0"/><circle cx="18.2" cy="14.6" r="0.9"/></g>
<path d="M23.70 18.50C23.70 19.78 23.27 21.24 22.57 22.35C21.87 23.46 20.71 24.53 19.50 25.17C18.29 25.81 16.70 26.20 15.30 26.20C13.90 26.20 12.31 25.81 11.10 25.17C9.89 24.53 8.73 23.46 8.03 22.35C7.33 21.24 6.90 19.78 6.90 18.50C6.90 17.22 7.33 15.76 8.03 14.65C8.73 13.54 9.89 12.47 11.10 11.83C12.31 11.19 13.90 10.80 15.30 10.80C16.70 10.80 18.29 11.19 19.50 11.83C20.71 12.47 21.87 13.54 22.57 14.65C23.27 15.76 23.70 17.22 23.70 18.50z" fill="none" stroke="#fff" stroke-opacity="1" stroke-width="1.25" stroke-dasharray="0.01 2.05" stroke-linecap="round"/>
</g>
<g transform="translate(482.3 104.3)" clip-path="url(#cp23)">
<rect width="35.0" height="34.8" fill="#000"/>
<path d="M35 -1L29 5L23 9L10 22L8 35L14 35L17 27L26 14L31 8L36 4z" fill="#083408" opacity="0.9" filter="url(#b2)"/>
<path d="M34 0L27 8" stroke="#0f5a0f" stroke-width="1.1" filter="url(#b1)"/>
<path d="M13 27L11 35" stroke="#105410" stroke-width="1.3" filter="url(#b1)"/>
<path d="M22.50 8.10C24.08 8.52 25.50 10.52 25.90 12.20C26.30 13.88 25.67 16.18 24.90 18.20C24.13 20.22 22.72 22.88 21.30 24.30C19.88 25.72 18.03 26.63 16.40 26.70C14.77 26.77 12.75 25.92 11.50 24.70C10.25 23.48 9.00 21.18 8.90 19.40C8.80 17.62 9.65 15.62 10.90 14.00C12.15 12.38 14.47 10.68 16.40 9.70C18.33 8.72 20.92 7.68 22.50 8.10z" fill="#1e3ae0" filter="url(#b05)"/>
<g fill="#28a868" filter="url(#b1)"><ellipse cx="12.4" cy="18" rx="2.2" ry="4.6"/><ellipse cx="22" cy="11.6" rx="2.6" ry="1.8"/><ellipse cx="15" cy="24" rx="3" ry="2"/><ellipse cx="19.4" cy="17.6" rx="1.4" ry="2.4"/></g>
<g fill="#2030c0" filter="url(#b05)"><circle cx="5" cy="9" r="0.5"/><circle cx="8" cy="27" r="0.5"/><circle cx="3" cy="20" r="0.45"/><circle cx="29" cy="29" r="0.5"/><circle cx="6" cy="31" r="0.45"/><circle cx="30" cy="20" r="0.4"/><circle cx="4" cy="4" r="0.4"/><circle cx="27" cy="32" r="0.4"/></g>
<path d="M22.50 8.10C24.08 8.52 25.50 10.52 25.90 12.20C26.30 13.88 25.67 16.18 24.90 18.20C24.13 20.22 22.72 22.88 21.30 24.30C19.88 25.72 18.03 26.63 16.40 26.70C14.77 26.77 12.75 25.92 11.50 24.70C10.25 23.48 9.00 21.18 8.90 19.40C8.80 17.62 9.65 15.62 10.90 14.00C12.15 12.38 14.47 10.68 16.40 9.70C18.33 8.72 20.92 7.68 22.50 8.10z" fill="none" stroke="#fff" stroke-opacity="1" stroke-width="1.1" stroke-dasharray="0.01 2.05" stroke-linecap="round"/>
</g>
<text x="549.60" y="7.00" style="font-size:10.2px;font-weight:bold;">d</text>
<line x1="587.30" y1="23.24" x2="587.30" y2="113.55" stroke="#000" stroke-width="0.5"/>
<line x1="587.30" y1="113.30" x2="647.30" y2="113.30" stroke="#000" stroke-width="0.5"/>
<line x1="583.70" y1="113.30" x2="587.30" y2="113.30" stroke="#000" stroke-width="0.5"/>
<text x="581.70" y="116.00" text-anchor="end">0</text>
<line x1="583.70" y1="100.47" x2="587.30" y2="100.47" stroke="#000" stroke-width="0.5"/>
<text x="581.70" y="103.17" text-anchor="end">10</text>
<line x1="583.70" y1="87.64" x2="587.30" y2="87.64" stroke="#000" stroke-width="0.5"/>
<text x="581.70" y="90.34" text-anchor="end">20</text>
<line x1="583.70" y1="74.81" x2="587.30" y2="74.81" stroke="#000" stroke-width="0.5"/>
<text x="581.70" y="77.51" text-anchor="end">30</text>
<line x1="583.70" y1="61.98" x2="587.30" y2="61.98" stroke="#000" stroke-width="0.5"/>
<text x="581.70" y="64.68" text-anchor="end">40</text>
<line x1="583.70" y1="49.15" x2="587.30" y2="49.15" stroke="#000" stroke-width="0.5"/>
<text x="581.70" y="51.85" text-anchor="end">50</text>
<line x1="583.70" y1="36.32" x2="587.30" y2="36.32" stroke="#000" stroke-width="0.5"/>
<text x="581.70" y="39.02" text-anchor="end">60</text>
<line x1="583.70" y1="23.49" x2="587.30" y2="23.49" stroke="#000" stroke-width="0.5"/>
<text x="581.70" y="26.19" text-anchor="end">70</text>
<line x1="596.30" y1="113.30" x2="596.30" y2="117.70" stroke="#000" stroke-width="0.5"/>
<line x1="610.40" y1="113.30" x2="610.40" y2="117.70" stroke="#000" stroke-width="0.5"/>
<line x1="623.90" y1="113.30" x2="623.90" y2="117.70" stroke="#000" stroke-width="0.5"/>
<line x1="637.60" y1="113.30" x2="637.60" y2="117.70" stroke="#000" stroke-width="0.5"/>
<circle cx="596.30" cy="112.53" r="1.75" fill="#e9e9e9" stroke="#333" stroke-width="0.5"/>
<circle cx="598.50" cy="112.38" r="1.75" fill="#e9e9e9" stroke="#333" stroke-width="0.5"/>
<circle cx="594.10" cy="111.57" r="1.75" fill="#e9e9e9" stroke="#333" stroke-width="0.5"/>
<circle cx="593.50" cy="111.44" r="1.75" fill="#e9e9e9" stroke="#333" stroke-width="0.5"/>
<circle cx="597.97" cy="111.32" r="1.75" fill="#e9e9e9" stroke="#333" stroke-width="0.5"/>
<circle cx="595.52" cy="111.12" r="1.75" fill="#e9e9e9" stroke="#333" stroke-width="0.5"/>
<circle cx="596.76" cy="110.57" r="1.75" fill="#e9e9e9" stroke="#333" stroke-width="0.5"/>
<circle cx="593.45" cy="110.29" r="1.75" fill="#e9e9e9" stroke="#333" stroke-width="0.5"/>
<circle cx="593.67" cy="109.97" r="1.75" fill="#e9e9e9" stroke="#333" stroke-width="0.5"/>
<circle cx="596.30" cy="108.18" r="1.75" fill="#e9e9e9" stroke="#333" stroke-width="0.5"/>
<circle cx="598.50" cy="108.14" r="1.75" fill="#e9e9e9" stroke="#333" stroke-width="0.5"/>
<circle cx="594.10" cy="107.43" r="1.75" fill="#e9e9e9" stroke="#333" stroke-width="0.5"/>
<circle cx="594.45" cy="107.14" r="1.75" fill="#e9e9e9" stroke="#333" stroke-width="0.5"/>
<circle cx="598.94" cy="106.72" r="1.75" fill="#e9e9e9" stroke="#333" stroke-width="0.5"/>
<circle cx="594.54" cy="106.66" r="1.75" fill="#e9e9e9" stroke="#333" stroke-width="0.5"/>
<circle cx="597.78" cy="106.41" r="1.75" fill="#e9e9e9" stroke="#333" stroke-width="0.5"/>
<circle cx="598.79" cy="105.54" r="1.75" fill="#e9e9e9" stroke="#333" stroke-width="0.5"/>
<circle cx="598.86" cy="105.52" r="1.75" fill="#e9e9e9" stroke="#333" stroke-width="0.5"/>
<circle cx="595.40" cy="105.29" r="1.75" fill="#e9e9e9" stroke="#333" stroke-width="0.5"/>
<circle cx="595.46" cy="105.01" r="1.75" fill="#e9e9e9" stroke="#333" stroke-width="0.5"/>
<circle cx="596.44" cy="104.99" r="1.75" fill="#e9e9e9" stroke="#333" stroke-width="0.5"/>
<circle cx="593.55" cy="103.99" r="1.75" fill="#e9e9e9" stroke="#333" stroke-width="0.5"/>
<circle cx="597.90" cy="103.84" r="1.75" fill="#e9e9e9" stroke="#333" stroke-width="0.5"/>
<circle cx="594.03" cy="103.78" r="1.75" fill="#e9e9e9" stroke="#333" stroke-width="0.5"/>
<circle cx="597.74" cy="103.59" r="1.75" fill="#e9e9e9" stroke="#333" stroke-width="0.5"/>
<circle cx="598.02" cy="103.58" r="1.75" fill="#e9e9e9" stroke="#333" stroke-width="0.5"/>
<circle cx="598.39" cy="103.03" r="1.75" fill="#e9e9e9" stroke="#333" stroke-width="0.5"/>
<circle cx="596.30" cy="101.83" r="1.75" fill="#e9e9e9" stroke="#333" stroke-width="0.5"/>
<circle cx="593.61" cy="101.79" r="1.75" fill="#e9e9e9" stroke="#333" stroke-width="0.5"/>
<circle cx="596.30" cy="98.00" r="1.75" fill="#e9e9e9" stroke="#333" stroke-width="0.5"/>
<circle cx="598.50" cy="98.00" r="1.75" fill="#e9e9e9" stroke="#333" stroke-width="0.5"/>
<circle cx="594.10" cy="97.36" r="1.75" fill="#e9e9e9" stroke="#333" stroke-width="0.5"/>
<circle cx="610.40" cy="95.34" r="1.75" fill="#ee2a2e" stroke="#2a0505" stroke-width="0.5"/>
<circle cx="611.50" cy="93.41" r="1.75" fill="#ee2a2e" stroke="#2a0505" stroke-width="0.5"/>
<circle cx="610.40" cy="91.49" r="1.75" fill="#ee2a2e" stroke="#2a0505" stroke-width="0.5"/>
<circle cx="611.50" cy="89.56" r="1.75" fill="#ee2a2e" stroke="#2a0505" stroke-width="0.5"/>
<circle cx="609.30" cy="88.28" r="1.75" fill="#ee2a2e" stroke="#2a0505" stroke-width="0.5"/>
<circle cx="612.60" cy="87.64" r="1.75" fill="#ee2a2e" stroke="#2a0505" stroke-width="0.5"/>
<circle cx="612.99" cy="87.00" r="1.75" fill="#ee2a2e" stroke="#2a0505" stroke-width="0.5"/>
<circle cx="610.40" cy="86.36" r="1.75" fill="#ee2a2e" stroke="#2a0505" stroke-width="0.5"/>
<circle cx="608.20" cy="85.72" r="1.75" fill="#ee2a2e" stroke="#2a0505" stroke-width="0.5"/>
<circle cx="608.03" cy="85.07" r="1.75" fill="#ee2a2e" stroke="#2a0505" stroke-width="0.5"/>
<circle cx="609.48" cy="85.07" r="1.75" fill="#ee2a2e" stroke="#2a0505" stroke-width="0.5"/>
<circle cx="611.50" cy="84.43" r="1.75" fill="#ee2a2e" stroke="#2a0505" stroke-width="0.5"/>
<circle cx="611.04" cy="83.79" r="1.75" fill="#ee2a2e" stroke="#2a0505" stroke-width="0.5"/>
<circle cx="612.82" cy="83.79" r="1.75" fill="#ee2a2e" stroke="#2a0505" stroke-width="0.5"/>
<circle cx="609.47" cy="83.15" r="1.75" fill="#ee2a2e" stroke="#2a0505" stroke-width="0.5"/>
<circle cx="612.86" cy="82.51" r="1.75" fill="#ee2a2e" stroke="#2a0505" stroke-width="0.5"/>
<circle cx="610.66" cy="82.51" r="1.75" fill="#ee2a2e" stroke="#2a0505" stroke-width="0.5"/>
<circle cx="607.65" cy="81.87" r="1.75" fill="#ee2a2e" stroke="#2a0505" stroke-width="0.5"/>
<circle cx="609.31" cy="81.22" r="1.75" fill="#ee2a2e" stroke="#2a0505" stroke-width="0.5"/>
<circle cx="609.34" cy="81.22" r="1.75" fill="#ee2a2e" stroke="#2a0505" stroke-width="0.5"/>
<circle cx="608.53" cy="80.58" r="1.75" fill="#ee2a2e" stroke="#2a0505" stroke-width="0.5"/>
<circle cx="611.50" cy="79.94" r="1.75" fill="#ee2a2e" stroke="#2a0505" stroke-width="0.5"/>
<circle cx="607.95" cy="79.94" r="1.75" fill="#ee2a2e" stroke="#2a0505" stroke-width="0.5"/>
<circle cx="608.36" cy="79.30" r="1.75" fill="#ee2a2e" stroke="#2a0505" stroke-width="0.5"/>
<circle cx="611.50" cy="78.66" r="1.75" fill="#ee2a2e" stroke="#2a0505" stroke-width="0.5"/>
<circle cx="613.28" cy="78.02" r="1.75" fill="#ee2a2e" stroke="#2a0505" stroke-width="0.5"/>
<circle cx="609.30" cy="77.38" r="1.75" fill="#ee2a2e" stroke="#2a0505" stroke-width="0.5"/>
<circle cx="611.50" cy="76.09" r="1.75" fill="#ee2a2e" stroke="#2a0505" stroke-width="0.5"/>
<circle cx="609.30" cy="74.81" r="1.75" fill="#ee2a2e" stroke="#2a0505" stroke-width="0.5"/>
<circle cx="611.50" cy="73.53" r="1.75" fill="#ee2a2e" stroke="#2a0505" stroke-width="0.5"/>
<circle cx="610.40" cy="71.60" r="1.75" fill="#ee2a2e" stroke="#2a0505" stroke-width="0.5"/>
<circle cx="611.50" cy="69.68" r="1.75" fill="#ee2a2e" stroke="#2a0505" stroke-width="0.5"/>
<circle cx="610.40" cy="67.75" r="1.75" fill="#ee2a2e" stroke="#2a0505" stroke-width="0.5"/>
<circle cx="611.50" cy="65.83" r="1.75" fill="#ee2a2e" stroke="#2a0505" stroke-width="0.5"/>
<circle cx="610.40" cy="63.26" r="1.75" fill="#ee2a2e" stroke="#2a0505" stroke-width="0.5"/>
<circle cx="623.90" cy="77.38" r="1.75" fill="#ee2a2e" stroke="#2a0505" stroke-width="0.5"/>
<circle cx="623.90" cy="74.81" r="1.75" fill="#ee2a2e" stroke="#2a0505" stroke-width="0.5"/>
<circle cx="626.10" cy="73.53" r="1.75" fill="#ee2a2e" stroke="#2a0505" stroke-width="0.5"/>
<circle cx="623.90" cy="70.96" r="1.75" fill="#ee2a2e" stroke="#2a0505" stroke-width="0.5"/>
<circle cx="626.10" cy="69.68" r="1.75" fill="#ee2a2e" stroke="#2a0505" stroke-width="0.5"/>
<circle cx="623.90" cy="68.40" r="1.75" fill="#ee2a2e" stroke="#2a0505" stroke-width="0.5"/>
<circle cx="621.70" cy="67.75" r="1.75" fill="#ee2a2e" stroke="#2a0505" stroke-width="0.5"/>
<circle cx="626.10" cy="67.11" r="1.75" fill="#ee2a2e" stroke="#2a0505" stroke-width="0.5"/>
<circle cx="621.94" cy="66.47" r="1.75" fill="#ee2a2e" stroke="#2a0505" stroke-width="0.5"/>
<circle cx="621.28" cy="65.83" r="1.75" fill="#ee2a2e" stroke="#2a0505" stroke-width="0.5"/>
<circle cx="626.72" cy="65.83" r="1.75" fill="#ee2a2e" stroke="#2a0505" stroke-width="0.5"/>
<circle cx="623.90" cy="65.19" r="1.75" fill="#ee2a2e" stroke="#2a0505" stroke-width="0.5"/>
<circle cx="624.09" cy="64.55" r="1.75" fill="#ee2a2e" stroke="#2a0505" stroke-width="0.5"/>
<circle cx="623.35" cy="64.55" r="1.75" fill="#ee2a2e" stroke="#2a0505" stroke-width="0.5"/>
<circle cx="622.38" cy="63.90" r="1.75" fill="#ee2a2e" stroke="#2a0505" stroke-width="0.5"/>
<circle cx="626.10" cy="63.26" r="1.75" fill="#ee2a2e" stroke="#2a0505" stroke-width="0.5"/>
<circle cx="624.44" cy="62.62" r="1.75" fill="#ee2a2e" stroke="#2a0505" stroke-width="0.5"/>
<circle cx="621.15" cy="61.98" r="1.75" fill="#ee2a2e" stroke="#2a0505" stroke-width="0.5"/>
<circle cx="625.79" cy="61.98" r="1.75" fill="#ee2a2e" stroke="#2a0505" stroke-width="0.5"/>
<circle cx="623.35" cy="60.70" r="1.75" fill="#ee2a2e" stroke="#2a0505" stroke-width="0.5"/>
<circle cx="625.55" cy="59.41" r="1.75" fill="#ee2a2e" stroke="#2a0505" stroke-width="0.5"/>
<circle cx="623.35" cy="58.13" r="1.75" fill="#ee2a2e" stroke="#2a0505" stroke-width="0.5"/>
<circle cx="625.55" cy="56.85" r="1.75" fill="#ee2a2e" stroke="#2a0505" stroke-width="0.5"/>
<circle cx="623.90" cy="54.92" r="1.75" fill="#ee2a2e" stroke="#2a0505" stroke-width="0.5"/>
<circle cx="625.00" cy="53.00" r="1.75" fill="#ee2a2e" stroke="#2a0505" stroke-width="0.5"/>
<circle cx="622.80" cy="51.72" r="1.75" fill="#ee2a2e" stroke="#2a0505" stroke-width="0.5"/>
<circle cx="623.90" cy="49.79" r="1.75" fill="#ee2a2e" stroke="#2a0505" stroke-width="0.5"/>
<circle cx="625.00" cy="47.87" r="1.75" fill="#ee2a2e" stroke="#2a0505" stroke-width="0.5"/>
<circle cx="622.80" cy="46.58" r="1.75" fill="#ee2a2e" stroke="#2a0505" stroke-width="0.5"/>
<circle cx="623.90" cy="44.66" r="1.75" fill="#ee2a2e" stroke="#2a0505" stroke-width="0.5"/>
<circle cx="625.00" cy="42.73" r="1.75" fill="#ee2a2e" stroke="#2a0505" stroke-width="0.5"/>
<circle cx="622.80" cy="41.45" r="1.75" fill="#ee2a2e" stroke="#2a0505" stroke-width="0.5"/>
<circle cx="623.90" cy="39.53" r="1.75" fill="#ee2a2e" stroke="#2a0505" stroke-width="0.5"/>
<circle cx="625.00" cy="37.60" r="1.75" fill="#ee2a2e" stroke="#2a0505" stroke-width="0.5"/>
<circle cx="622.80" cy="36.32" r="1.75" fill="#ee2a2e" stroke="#2a0505" stroke-width="0.5"/>
<circle cx="625.00" cy="35.04" r="1.75" fill="#ee2a2e" stroke="#2a0505" stroke-width="0.5"/>
<circle cx="637.60" cy="107.14" r="1.75" fill="#f27a80" stroke="#5a1a1a" stroke-width="0.5"/>
<circle cx="639.80" cy="106.85" r="1.75" fill="#f27a80" stroke="#5a1a1a" stroke-width="0.5"/>
<circle cx="635.95" cy="105.77" r="1.75" fill="#f27a80" stroke="#5a1a1a" stroke-width="0.5"/>
<circle cx="638.15" cy="104.80" r="1.75" fill="#f27a80" stroke="#5a1a1a" stroke-width="0.5"/>
<circle cx="640.35" cy="104.59" r="1.75" fill="#f27a80" stroke="#5a1a1a" stroke-width="0.5"/>
<circle cx="634.85" cy="103.84" r="1.75" fill="#f27a80" stroke="#5a1a1a" stroke-width="0.5"/>
<circle cx="637.34" cy="103.60" r="1.75" fill="#f27a80" stroke="#5a1a1a" stroke-width="0.5"/>
<circle cx="637.15" cy="103.46" r="1.75" fill="#f27a80" stroke="#5a1a1a" stroke-width="0.5"/>
<circle cx="635.02" cy="103.44" r="1.75" fill="#f27a80" stroke="#5a1a1a" stroke-width="0.5"/>
<circle cx="640.01" cy="103.39" r="1.75" fill="#f27a80" stroke="#5a1a1a" stroke-width="0.5"/>
<circle cx="634.89" cy="103.29" r="1.75" fill="#f27a80" stroke="#5a1a1a" stroke-width="0.5"/>
<circle cx="637.56" cy="103.24" r="1.75" fill="#f27a80" stroke="#5a1a1a" stroke-width="0.5"/>
<circle cx="639.56" cy="103.15" r="1.75" fill="#f27a80" stroke="#5a1a1a" stroke-width="0.5"/>
<circle cx="635.46" cy="102.62" r="1.75" fill="#f27a80" stroke="#5a1a1a" stroke-width="0.5"/>
<circle cx="638.94" cy="102.47" r="1.75" fill="#f27a80" stroke="#5a1a1a" stroke-width="0.5"/>
<circle cx="640.21" cy="102.40" r="1.75" fill="#f27a80" stroke="#5a1a1a" stroke-width="0.5"/>
<circle cx="638.36" cy="102.32" r="1.75" fill="#f27a80" stroke="#5a1a1a" stroke-width="0.5"/>
<circle cx="639.27" cy="101.90" r="1.75" fill="#f27a80" stroke="#5a1a1a" stroke-width="0.5"/>
<circle cx="635.32" cy="101.88" r="1.75" fill="#f27a80" stroke="#5a1a1a" stroke-width="0.5"/>
<circle cx="637.22" cy="101.72" r="1.75" fill="#f27a80" stroke="#5a1a1a" stroke-width="0.5"/>
<circle cx="635.57" cy="101.33" r="1.75" fill="#f27a80" stroke="#5a1a1a" stroke-width="0.5"/>
<circle cx="639.60" cy="101.29" r="1.75" fill="#f27a80" stroke="#5a1a1a" stroke-width="0.5"/>
<circle cx="636.41" cy="100.87" r="1.75" fill="#f27a80" stroke="#5a1a1a" stroke-width="0.5"/>
<circle cx="637.33" cy="100.85" r="1.75" fill="#f27a80" stroke="#5a1a1a" stroke-width="0.5"/>
<circle cx="640.50" cy="100.70" r="1.75" fill="#f27a80" stroke="#5a1a1a" stroke-width="0.5"/>
<circle cx="639.64" cy="99.97" r="1.75" fill="#f27a80" stroke="#5a1a1a" stroke-width="0.5"/>
<circle cx="640.36" cy="99.42" r="1.75" fill="#f27a80" stroke="#5a1a1a" stroke-width="0.5"/>
<circle cx="635.40" cy="98.92" r="1.75" fill="#f27a80" stroke="#5a1a1a" stroke-width="0.5"/>
<circle cx="637.60" cy="97.13" r="1.75" fill="#f27a80" stroke="#5a1a1a" stroke-width="0.5"/>
<circle cx="639.80" cy="97.13" r="1.75" fill="#f27a80" stroke="#5a1a1a" stroke-width="0.5"/>
<line x1="592.90" y1="106.88" x2="599.70" y2="106.88" stroke="#222" stroke-width="0.45"/>
<line x1="607.00" y1="82.51" x2="613.80" y2="82.51" stroke="#222" stroke-width="0.45"/>
<line x1="620.50" y1="61.98" x2="627.30" y2="61.98" stroke="#222" stroke-width="0.45"/>
<line x1="634.20" y1="102.39" x2="641.00" y2="102.39" stroke="#222" stroke-width="0.45"/>
<text x="604.3" y="15.2" text-anchor="middle" style="font-size:6.6px"><tspan style="font-style:italic">P</tspan> &lt; 0.0001</text>
<text x="643.0" y="15.2" text-anchor="middle" style="font-size:6.6px"><tspan style="font-style:italic">P</tspan> &lt; 0.0001</text>
<text x="616.0" y="26.4" text-anchor="middle" style="font-size:6.6px"><tspan style="font-style:italic">P</tspan> &lt; 0.0001</text>
<path d="M597.7 20.2V17.6H623.3V20.2" fill="none" stroke="#333" stroke-width="0.45"/>
<path d="M623.9 20.2V17.6H637.3V20.2" fill="none" stroke="#333" stroke-width="0.45"/>
<path d="M610.0 31.2V28.8H623.7V31.2" fill="none" stroke="#333" stroke-width="0.45"/>
<text x="586.60" y="125.60" text-anchor="end" style="font-size:7.5px;">RNase A:</text>
<text x="596.30" y="125.40" text-anchor="middle">−</text>
<text x="610.40" y="125.40" text-anchor="middle">−</text>
<text x="623.90" y="125.40" text-anchor="middle">−</text>
<text x="637.60" y="125.40" text-anchor="middle">+</text>
<line x1="623.00" y1="127.20" x2="640.80" y2="127.20" stroke="#000" stroke-width="0.5"/>
<text text-anchor="end" transform="translate(597.60 132.00) rotate(-43)">Vec</text>
<text text-anchor="end" transform="translate(615.20 133.20) rotate(-43)">ICP27, 6 h</text>
<text text-anchor="end" transform="translate(636.40 133.20) rotate(-43)">ICP27, 18 h</text>
<text text-anchor="middle" transform="translate(557.80 68.60) rotate(-90)">Z-RNA signal</text>
<text text-anchor="middle" transform="translate(566.00 68.60) rotate(-90)">fluorescence intensity (a.u.)</text>
<text x="0.00" y="178.80" style="font-size:10.2px;font-weight:bold;">e</text>
<text x="55.10" y="190.40" text-anchor="middle">Vec</text>
<line x1="41.00" y1="193.60" x2="69.00" y2="193.60" stroke="#000" stroke-width="0.5"/>
<text x="103.20" y="190.40" text-anchor="middle">MYC–ZBP1</text>
<line x1="76.40" y1="193.60" x2="130.30" y2="193.60" stroke="#000" stroke-width="0.5"/>
<text x="37.60" y="203.80" text-anchor="end">ICP27:</text>
<text x="43.40" y="203.60" text-anchor="middle">−</text>
<text x="55.10" y="203.60" text-anchor="middle">+</text>
<text x="67.00" y="203.60" text-anchor="middle">−</text>
<text x="79.40" y="203.60" text-anchor="middle">−</text>
<text x="90.60" y="203.60" text-anchor="middle">+</text>
<text x="101.80" y="203.60" text-anchor="middle">−</text>
<text x="114.20" y="203.60" text-anchor="middle">+</text>
<text x="126.10" y="203.60" text-anchor="middle">−</text>
<text x="37.60" y="211.70" text-anchor="end">n504:</text>
<text x="43.40" y="211.50" text-anchor="middle">−</text>
<text x="55.10" y="211.50" text-anchor="middle">−</text>
<text x="67.00" y="211.50" text-anchor="middle">+</text>
<text x="79.40" y="211.50" text-anchor="middle">−</text>
<text x="90.60" y="211.50" text-anchor="middle">−</text>
<text x="101.80" y="211.50" text-anchor="middle">+</text>
<text x="114.20" y="211.50" text-anchor="middle">−</text>
<text x="126.10" y="211.50" text-anchor="middle">+</text>
<text x="37.60" y="219.60" text-anchor="end">RIPK3i:</text>
<text x="43.40" y="219.40" text-anchor="middle">−</text>
<text x="55.10" y="219.40" text-anchor="middle">−</text>
<text x="67.00" y="219.40" text-anchor="middle">−</text>
<text x="79.40" y="219.40" text-anchor="middle">−</text>
<text x="90.60" y="219.40" text-anchor="middle">−</text>
<text x="101.80" y="219.40" text-anchor="middle">−</text>
<text x="114.20" y="219.40" text-anchor="middle">+</text>
<text x="126.10" y="219.40" text-anchor="middle">+</text>
<defs><filter id="bb" x="-20%" y="-50%" width="140%" height="200%"><feGaussianBlur stdDeviation="0.55"/></filter>
<filter id="bb2" x="-20%" y="-50%" width="140%" height="200%"><feGaussianBlur stdDeviation="0.8"/></filter></defs>
<rect x="38.0" y="223.4" width="94.30" height="12.60" fill="#f3f3f3" stroke="#555" stroke-width="0.45"/>
<ellipse cx="90.60" cy="229.00" rx="6.10" ry="2.00" fill="#0a0a0a" opacity="1.0" filter="url(#bb)"/>
<ellipse cx="90.60" cy="229.00" rx="5.25" ry="1.50" fill="#0a0a0a" opacity="1.0" filter="url(#bb)"/>
<ellipse cx="101.80" cy="229.40" rx="4.25" ry="1.00" fill="#0a0a0a" opacity="0.6" filter="url(#bb)"/>
<ellipse cx="114.20" cy="229.60" rx="3.50" ry="0.75" fill="#0a0a0a" opacity="0.1" filter="url(#bb)"/>
<ellipse cx="43.40" cy="232.80" rx="3.50" ry="0.80" fill="#0a0a0a" opacity="0.06" filter="url(#bb)"/>
<ellipse cx="55.10" cy="232.80" rx="3.50" ry="0.80" fill="#0a0a0a" opacity="0.06" filter="url(#bb)"/>
<ellipse cx="67.00" cy="232.80" rx="3.50" ry="0.80" fill="#0a0a0a" opacity="0.06" filter="url(#bb)"/>
<ellipse cx="79.40" cy="232.80" rx="3.50" ry="0.80" fill="#0a0a0a" opacity="0.06" filter="url(#bb)"/>
<ellipse cx="126.10" cy="232.80" rx="3.50" ry="0.80" fill="#0a0a0a" opacity="0.06" filter="url(#bb)"/>
<rect x="38.0" y="238.6" width="94.30" height="11.40" fill="#e0e0e0" stroke="#555" stroke-width="0.45"/>
<ellipse cx="43.40" cy="243.94" rx="6.40" ry="1.90" fill="#0a0a0a" opacity="0.97" filter="url(#bb)"/>
<ellipse cx="55.10" cy="244.24" rx="6.40" ry="1.90" fill="#0a0a0a" opacity="0.97" filter="url(#bb)"/>
<ellipse cx="67.00" cy="244.07" rx="6.40" ry="1.90" fill="#0a0a0a" opacity="0.97" filter="url(#bb)"/>
<ellipse cx="79.40" cy="244.30" rx="6.40" ry="1.90" fill="#0a0a0a" opacity="0.97" filter="url(#bb)"/>
<ellipse cx="90.60" cy="244.33" rx="6.40" ry="1.90" fill="#0a0a0a" opacity="0.97" filter="url(#bb)"/>
<ellipse cx="101.80" cy="243.77" rx="6.40" ry="1.90" fill="#0a0a0a" opacity="0.97" filter="url(#bb)"/>
<ellipse cx="114.20" cy="243.71" rx="6.40" ry="1.90" fill="#0a0a0a" opacity="0.97" filter="url(#bb)"/>
<ellipse cx="126.10" cy="244.54" rx="6.40" ry="1.90" fill="#0a0a0a" opacity="0.97" filter="url(#bb)"/>
<path d="M38.3 243.4L132 243.8" stroke="#0a0a0a" stroke-width="2.4" opacity="0.9" filter="url(#bb)"/>
<rect x="38.0" y="252.9" width="94.30" height="11.20" fill="#efefef" stroke="#555" stroke-width="0.45"/>
<ellipse cx="55.10" cy="258.20" rx="6.75" ry="2.00" fill="#0a0a0a" opacity="0.97" filter="url(#bb)"/>
<ellipse cx="55.10" cy="258.20" rx="5.50" ry="1.40" fill="#0a0a0a" opacity="0.95" filter="url(#bb)"/>
<ellipse cx="67.00" cy="258.90" rx="5.75" ry="1.60" fill="#0a0a0a" opacity="0.9" filter="url(#bb)"/>
<ellipse cx="62.05" cy="258.80" rx="4.00" ry="1.10" fill="#0a0a0a" opacity="0.8" filter="url(#bb)"/>
<ellipse cx="90.60" cy="258.76" rx="6.30" ry="1.80" fill="#0a0a0a" opacity="0.97" filter="url(#bb)"/>
<ellipse cx="101.80" cy="258.74" rx="6.30" ry="1.80" fill="#0a0a0a" opacity="0.97" filter="url(#bb)"/>
<ellipse cx="114.20" cy="259.20" rx="6.30" ry="1.80" fill="#0a0a0a" opacity="0.97" filter="url(#bb)"/>
<ellipse cx="126.10" cy="258.88" rx="6.30" ry="1.80" fill="#0a0a0a" opacity="0.97" filter="url(#bb)"/>
<path d="M85 258.8L132 258.6" stroke="#0a0a0a" stroke-width="1.6" opacity="0.8" filter="url(#bb)"/>
<rect x="38.0" y="266.8" width="94.30" height="11.70" fill="#f0f0f0" stroke="#555" stroke-width="0.45"/>
<ellipse cx="79.40" cy="274.00" rx="5.00" ry="1.60" fill="#0a0a0a" opacity="0.9" filter="url(#bb)"/>
<ellipse cx="90.60" cy="273.79" rx="5.00" ry="1.60" fill="#0a0a0a" opacity="0.9" filter="url(#bb)"/>
<ellipse cx="101.80" cy="273.88" rx="5.30" ry="1.60" fill="#0a0a0a" opacity="0.92" filter="url(#bb)"/>
<ellipse cx="114.20" cy="273.59" rx="4.50" ry="1.60" fill="#0a0a0a" opacity="0.8" filter="url(#bb)"/>
<ellipse cx="126.10" cy="273.88" rx="5.30" ry="1.60" fill="#0a0a0a" opacity="0.9" filter="url(#bb)"/>
<rect x="38.0" y="282.2" width="94.30" height="11.80" fill="#dedede" stroke="#555" stroke-width="0.45"/>
<ellipse cx="43.40" cy="288.22" rx="6.30" ry="2.40" fill="#0a0a0a" opacity="0.97" filter="url(#bb)"/>
<ellipse cx="43.40" cy="288.00" rx="5.25" ry="1.70" fill="#0a0a0a" opacity="0.95" filter="url(#bb)"/>
<ellipse cx="55.10" cy="288.01" rx="6.30" ry="2.40" fill="#0a0a0a" opacity="0.97" filter="url(#bb)"/>
<ellipse cx="55.10" cy="288.00" rx="5.25" ry="1.70" fill="#0a0a0a" opacity="0.95" filter="url(#bb)"/>
<ellipse cx="67.00" cy="288.14" rx="6.30" ry="2.40" fill="#0a0a0a" opacity="0.97" filter="url(#bb)"/>
<ellipse cx="67.00" cy="288.00" rx="5.25" ry="1.70" fill="#0a0a0a" opacity="0.95" filter="url(#bb)"/>
<ellipse cx="79.40" cy="288.10" rx="6.30" ry="2.40" fill="#0a0a0a" opacity="0.97" filter="url(#bb)"/>
<ellipse cx="79.40" cy="288.00" rx="5.25" ry="1.70" fill="#0a0a0a" opacity="0.95" filter="url(#bb)"/>
<ellipse cx="90.60" cy="287.74" rx="6.30" ry="2.40" fill="#0a0a0a" opacity="0.97" filter="url(#bb)"/>
<ellipse cx="90.60" cy="288.00" rx="5.25" ry="1.70" fill="#0a0a0a" opacity="0.95" filter="url(#bb)"/>
<ellipse cx="101.80" cy="288.15" rx="6.30" ry="2.40" fill="#0a0a0a" opacity="0.97" filter="url(#bb)"/>
<ellipse cx="101.80" cy="288.00" rx="5.25" ry="1.70" fill="#0a0a0a" opacity="0.95" filter="url(#bb)"/>
<ellipse cx="114.20" cy="288.05" rx="6.30" ry="2.40" fill="#0a0a0a" opacity="0.97" filter="url(#bb)"/>
<ellipse cx="114.20" cy="288.00" rx="5.25" ry="1.70" fill="#0a0a0a" opacity="0.95" filter="url(#bb)"/>
<ellipse cx="126.10" cy="287.88" rx="6.30" ry="2.40" fill="#0a0a0a" opacity="0.97" filter="url(#bb)"/>
<ellipse cx="126.10" cy="288.00" rx="5.25" ry="1.70" fill="#0a0a0a" opacity="0.95" filter="url(#bb)"/>
<path d="M39.5 288L131 288" stroke="#0a0a0a" stroke-width="1.6" opacity="0.7" filter="url(#bb)"/>
<rect x="38.0" y="297.4" width="94.30" height="9.60" fill="#dedede" stroke="#555" stroke-width="0.45"/>
<ellipse cx="43.40" cy="302.22" rx="6.30" ry="2.10" fill="#0a0a0a" opacity="0.97" filter="url(#bb)"/>
<ellipse cx="43.40" cy="302.50" rx="5.25" ry="1.50" fill="#0a0a0a" opacity="0.95" filter="url(#bb)"/>
<ellipse cx="55.10" cy="302.72" rx="6.30" ry="2.10" fill="#0a0a0a" opacity="0.97" filter="url(#bb)"/>
<ellipse cx="55.10" cy="302.50" rx="5.25" ry="1.50" fill="#0a0a0a" opacity="0.95" filter="url(#bb)"/>
<ellipse cx="67.00" cy="302.48" rx="6.30" ry="2.10" fill="#0a0a0a" opacity="0.97" filter="url(#bb)"/>
<ellipse cx="67.00" cy="302.50" rx="5.25" ry="1.50" fill="#0a0a0a" opacity="0.95" filter="url(#bb)"/>
<ellipse cx="79.40" cy="302.63" rx="6.30" ry="2.10" fill="#0a0a0a" opacity="0.97" filter="url(#bb)"/>
<ellipse cx="79.40" cy="302.50" rx="5.25" ry="1.50" fill="#0a0a0a" opacity="0.95" filter="url(#bb)"/>
<ellipse cx="90.60" cy="302.73" rx="6.30" ry="2.10" fill="#0a0a0a" opacity="0.97" filter="url(#bb)"/>
<ellipse cx="90.60" cy="302.50" rx="5.25" ry="1.50" fill="#0a0a0a" opacity="0.95" filter="url(#bb)"/>
<ellipse cx="101.80" cy="302.63" rx="6.30" ry="2.10" fill="#0a0a0a" opacity="0.97" filter="url(#bb)"/>
<ellipse cx="101.80" cy="302.50" rx="5.25" ry="1.50" fill="#0a0a0a" opacity="0.95" filter="url(#bb)"/>
<ellipse cx="114.20" cy="302.75" rx="6.30" ry="2.10" fill="#0a0a0a" opacity="0.97" filter="url(#bb)"/>
<ellipse cx="114.20" cy="302.50" rx="5.25" ry="1.50" fill="#0a0a0a" opacity="0.95" filter="url(#bb)"/>
<ellipse cx="126.10" cy="302.44" rx="6.30" ry="2.10" fill="#0a0a0a" opacity="0.97" filter="url(#bb)"/>
<ellipse cx="126.10" cy="302.50" rx="5.25" ry="1.50" fill="#0a0a0a" opacity="0.95" filter="url(#bb)"/>
<path d="M39.5 302.5L131 302.5" stroke="#0a0a0a" stroke-width="1.8" opacity="0.8" filter="url(#bb)"/>
<text x="31.80" y="232.30" text-anchor="end">55</text>
<line x1="34.60" y1="230.00" x2="38.00" y2="230.00" stroke="#000" stroke-width="0.5"/>
<text x="31.80" y="245.20" text-anchor="end">55</text>
<line x1="34.60" y1="242.90" x2="38.00" y2="242.90" stroke="#000" stroke-width="0.5"/>
<text x="31.80" y="255.30" text-anchor="end">72</text>
<line x1="34.60" y1="253.00" x2="38.00" y2="253.00" stroke="#000" stroke-width="0.5"/>
<text x="31.80" y="270.90" text-anchor="end">72</text>
<line x1="34.60" y1="268.60" x2="38.00" y2="268.60" stroke="#000" stroke-width="0.5"/>
<text x="31.80" y="289.90" text-anchor="end">55</text>
<line x1="34.60" y1="287.60" x2="38.00" y2="287.60" stroke="#000" stroke-width="0.5"/>
<text x="31.80" y="303.00" text-anchor="end">36</text>
<line x1="34.60" y1="300.70" x2="38.00" y2="300.70" stroke="#000" stroke-width="0.5"/>
<text x="20.40" y="313.80">kDa</text>
<text x="136.00" y="233.30">pMLKL</text>
<text x="136.00" y="248.00">MLKL</text>
<text x="136.00" y="261.20">Flag–ICP27</text>
<text x="136.00" y="274.40">MYC–ZBP1</text>
<text x="136.00" y="290.20">RIPK3</text>
<text x="136.00" y="303.40">GAPDH</text>
<text x="184.20" y="178.70" style="font-size:10.2px;font-weight:bold;">f</text>
<line x1="215.00" y1="208.15" x2="215.00" y2="301.85" stroke="#000" stroke-width="0.5"/>
<line x1="211.00" y1="301.60" x2="215.00" y2="301.60" stroke="#000" stroke-width="0.5"/>
<text x="208.40" y="304.30" text-anchor="end">0</text>
<line x1="211.00" y1="282.96" x2="215.00" y2="282.96" stroke="#000" stroke-width="0.5"/>
<text x="208.40" y="285.66" text-anchor="end">20</text>
<line x1="211.00" y1="264.32" x2="215.00" y2="264.32" stroke="#000" stroke-width="0.5"/>
<text x="208.40" y="267.02" text-anchor="end">40</text>
<line x1="211.00" y1="245.68" x2="215.00" y2="245.68" stroke="#000" stroke-width="0.5"/>
<text x="208.40" y="248.38" text-anchor="end">60</text>
<line x1="211.00" y1="227.04" x2="215.00" y2="227.04" stroke="#000" stroke-width="0.5"/>
<text x="208.40" y="229.74" text-anchor="end">80</text>
<line x1="211.00" y1="208.40" x2="215.00" y2="208.40" stroke="#000" stroke-width="0.5"/>
<text x="208.40" y="211.10" text-anchor="end">100</text>
<line x1="214.75" y1="301.60" x2="308.91" y2="301.60" stroke="#000" stroke-width="0.5"/>
<line x1="215.00" y1="301.60" x2="215.00" y2="304.60" stroke="#000" stroke-width="0.5"/>
<text x="215.00" y="314.60" text-anchor="middle">0</text>
<line x1="228.38" y1="301.60" x2="228.38" y2="304.60" stroke="#000" stroke-width="0.5"/>
<text x="228.38" y="314.60" text-anchor="middle">2</text>
<line x1="241.76" y1="301.60" x2="241.76" y2="304.60" stroke="#000" stroke-width="0.5"/>
<text x="241.76" y="314.60" text-anchor="middle">4</text>
<line x1="255.14" y1="301.60" x2="255.14" y2="304.60" stroke="#000" stroke-width="0.5"/>
<text x="255.14" y="314.60" text-anchor="middle">6</text>
<line x1="268.52" y1="301.60" x2="268.52" y2="304.60" stroke="#000" stroke-width="0.5"/>
<text x="268.52" y="314.60" text-anchor="middle">8</text>
<line x1="281.90" y1="301.60" x2="281.90" y2="304.60" stroke="#000" stroke-width="0.5"/>
<text x="281.90" y="314.60" text-anchor="middle">10</text>
<line x1="295.28" y1="301.60" x2="295.28" y2="304.60" stroke="#000" stroke-width="0.5"/>
<text x="295.28" y="314.60" text-anchor="middle">12</text>
<line x1="308.66" y1="301.60" x2="308.66" y2="304.60" stroke="#000" stroke-width="0.5"/>
<text x="308.66" y="314.60" text-anchor="middle">14</text>
<text x="261.60" y="326.40" text-anchor="middle">Time (h)</text>
<text text-anchor="middle" transform="translate(190.60 255.00) rotate(-90)">Cell death (%)</text>
<polyline points="215.00,301.60 221.69,301.60 228.38,301.60 235.07,301.13 241.76,300.67 248.45,298.80 255.14,296.94 261.83,295.54 268.52,293.68 275.21,291.81 281.90,290.42 288.59,289.02 295.28,288.09 301.97,287.62 308.66,287.15" fill="none" stroke="#1a1a1a" stroke-width="0.55"/>
<path d="M235.07 301.60V300.67M233.67 300.67h2.8M233.67 301.60h2.8" stroke="#2a2a2a" stroke-width="0.5" fill="none"/>
<path d="M241.76 301.60V299.74M240.36 299.74h2.8M240.36 301.60h2.8" stroke="#2a2a2a" stroke-width="0.5" fill="none"/>
<path d="M248.45 299.74V297.87M247.05 297.87h2.8M247.05 299.74h2.8" stroke="#2a2a2a" stroke-width="0.5" fill="none"/>
<path d="M255.14 298.34V295.54M253.74 295.54h2.8M253.74 298.34h2.8" stroke="#2a2a2a" stroke-width="0.5" fill="none"/>
<path d="M261.83 297.41V293.68M260.43 293.68h2.8M260.43 297.41h2.8" stroke="#2a2a2a" stroke-width="0.5" fill="none"/>
<path d="M268.52 295.54V291.81M267.12 291.81h2.8M267.12 295.54h2.8" stroke="#2a2a2a" stroke-width="0.5" fill="none"/>
<path d="M275.21 294.14V289.48M273.81 289.48h2.8M273.81 294.14h2.8" stroke="#2a2a2a" stroke-width="0.5" fill="none"/>
<path d="M281.90 293.21V287.62M280.50 287.62h2.8M280.50 293.21h2.8" stroke="#2a2a2a" stroke-width="0.5" fill="none"/>
<path d="M288.59 291.81V286.22M287.19 286.22h2.8M287.19 291.81h2.8" stroke="#2a2a2a" stroke-width="0.5" fill="none"/>
<path d="M295.28 291.35V284.82M293.88 284.82h2.8M293.88 291.35h2.8" stroke="#2a2a2a" stroke-width="0.5" fill="none"/>
<path d="M301.97 291.35V283.89M300.57 283.89h2.8M300.57 291.35h2.8" stroke="#2a2a2a" stroke-width="0.5" fill="none"/>
<path d="M308.66 291.35V282.96M307.26 282.96h2.8M307.26 291.35h2.8" stroke="#2a2a2a" stroke-width="0.5" fill="none"/>
<circle cx="215.00" cy="301.60" r="2.05" fill="#3b82d9" stroke="#1a1a1a" stroke-width="0.5"/>
<circle cx="221.69" cy="301.60" r="2.05" fill="#3b82d9" stroke="#1a1a1a" stroke-width="0.5"/>
<circle cx="228.38" cy="301.60" r="2.05" fill="#3b82d9" stroke="#1a1a1a" stroke-width="0.5"/>
<circle cx="235.07" cy="301.13" r="2.05" fill="#3b82d9" stroke="#1a1a1a" stroke-width="0.5"/>
<circle cx="241.76" cy="300.67" r="2.05" fill="#3b82d9" stroke="#1a1a1a" stroke-width="0.5"/>
<circle cx="248.45" cy="298.80" r="2.05" fill="#3b82d9" stroke="#1a1a1a" stroke-width="0.5"/>
<circle cx="255.14" cy="296.94" r="2.05" fill="#3b82d9" stroke="#1a1a1a" stroke-width="0.5"/>
<circle cx="261.83" cy="295.54" r="2.05" fill="#3b82d9" stroke="#1a1a1a" stroke-width="0.5"/>
<circle cx="268.52" cy="293.68" r="2.05" fill="#3b82d9" stroke="#1a1a1a" stroke-width="0.5"/>
<circle cx="275.21" cy="291.81" r="2.05" fill="#3b82d9" stroke="#1a1a1a" stroke-width="0.5"/>
<circle cx="281.90" cy="290.42" r="2.05" fill="#3b82d9" stroke="#1a1a1a" stroke-width="0.5"/>
<circle cx="288.59" cy="289.02" r="2.05" fill="#3b82d9" stroke="#1a1a1a" stroke-width="0.5"/>
<circle cx="295.28" cy="288.09" r="2.05" fill="#3b82d9" stroke="#1a1a1a" stroke-width="0.5"/>
<circle cx="301.97" cy="287.62" r="2.05" fill="#3b82d9" stroke="#1a1a1a" stroke-width="0.5"/>
<circle cx="308.66" cy="287.15" r="2.05" fill="#3b82d9" stroke="#1a1a1a" stroke-width="0.5"/>
<polyline points="215.00,301.60 221.69,301.60 228.38,301.60 235.07,301.60 241.76,301.13 248.45,300.20 255.14,298.80 261.83,297.87 268.52,296.94 275.21,296.01 281.90,295.08 288.59,294.14 295.28,293.21 301.97,292.28 308.66,291.35" fill="none" stroke="#1a1a1a" stroke-width="0.55"/>
<path d="M241.76 301.60V300.67M240.36 300.67h2.8M240.36 301.60h2.8" stroke="#2a2a2a" stroke-width="0.5" fill="none"/>
<path d="M248.45 301.13V299.27M247.05 299.27h2.8M247.05 301.13h2.8" stroke="#2a2a2a" stroke-width="0.5" fill="none"/>
<path d="M255.14 299.74V297.87M253.74 297.87h2.8M253.74 299.74h2.8" stroke="#2a2a2a" stroke-width="0.5" fill="none"/>
<path d="M261.83 299.27V296.47M260.43 296.47h2.8M260.43 299.27h2.8" stroke="#2a2a2a" stroke-width="0.5" fill="none"/>
<path d="M268.52 298.34V295.54M267.12 295.54h2.8M267.12 298.34h2.8" stroke="#2a2a2a" stroke-width="0.5" fill="none"/>
<path d="M275.21 297.87V294.14M273.81 294.14h2.8M273.81 297.87h2.8" stroke="#2a2a2a" stroke-width="0.5" fill="none"/>
<path d="M281.90 296.94V293.21M280.50 293.21h2.8M280.50 296.94h2.8" stroke="#2a2a2a" stroke-width="0.5" fill="none"/>
<path d="M288.59 296.01V292.28M287.19 292.28h2.8M287.19 296.01h2.8" stroke="#2a2a2a" stroke-width="0.5" fill="none"/>
<path d="M295.28 295.08V291.35M293.88 291.35h2.8M293.88 295.08h2.8" stroke="#2a2a2a" stroke-width="0.5" fill="none"/>
<path d="M301.97 294.61V289.95M300.57 289.95h2.8M300.57 294.61h2.8" stroke="#2a2a2a" stroke-width="0.5" fill="none"/>
<path d="M308.66 293.68V289.02M307.26 289.02h2.8M307.26 293.68h2.8" stroke="#2a2a2a" stroke-width="0.5" fill="none"/>
<circle cx="215.00" cy="301.60" r="2.05" fill="#c9dcf2" stroke="#1a1a1a" stroke-width="0.5"/>
<circle cx="221.69" cy="301.60" r="2.05" fill="#c9dcf2" stroke="#1a1a1a" stroke-width="0.5"/>
<circle cx="228.38" cy="301.60" r="2.05" fill="#c9dcf2" stroke="#1a1a1a" stroke-width="0.5"/>
<circle cx="235.07" cy="301.60" r="2.05" fill="#c9dcf2" stroke="#1a1a1a" stroke-width="0.5"/>
<circle cx="241.76" cy="301.13" r="2.05" fill="#c9dcf2" stroke="#1a1a1a" stroke-width="0.5"/>
<circle cx="248.45" cy="300.20" r="2.05" fill="#c9dcf2" stroke="#1a1a1a" stroke-width="0.5"/>
<circle cx="255.14" cy="298.80" r="2.05" fill="#c9dcf2" stroke="#1a1a1a" stroke-width="0.5"/>
<circle cx="261.83" cy="297.87" r="2.05" fill="#c9dcf2" stroke="#1a1a1a" stroke-width="0.5"/>
<circle cx="268.52" cy="296.94" r="2.05" fill="#c9dcf2" stroke="#1a1a1a" stroke-width="0.5"/>
<circle cx="275.21" cy="296.01" r="2.05" fill="#c9dcf2" stroke="#1a1a1a" stroke-width="0.5"/>
<circle cx="281.90" cy="295.08" r="2.05" fill="#c9dcf2" stroke="#1a1a1a" stroke-width="0.5"/>
<circle cx="288.59" cy="294.14" r="2.05" fill="#c9dcf2" stroke="#1a1a1a" stroke-width="0.5"/>
<circle cx="295.28" cy="293.21" r="2.05" fill="#c9dcf2" stroke="#1a1a1a" stroke-width="0.5"/>
<circle cx="301.97" cy="292.28" r="2.05" fill="#c9dcf2" stroke="#1a1a1a" stroke-width="0.5"/>
<circle cx="308.66" cy="291.35" r="2.05" fill="#c9dcf2" stroke="#1a1a1a" stroke-width="0.5"/>
<polyline points="215.00,301.60 221.69,300.67 228.38,299.74 235.07,296.94 241.76,294.14 248.45,288.55 255.14,281.10 261.83,278.30 268.52,276.44 275.21,271.78 281.90,268.98 288.59,266.18 295.28,266.18 301.97,267.12 308.66,266.65" fill="none" stroke="#1a1a1a" stroke-width="0.55"/>
<path d="M221.69 301.13V300.20M220.29 300.20h2.8M220.29 301.13h2.8" stroke="#2a2a2a" stroke-width="0.5" fill="none"/>
<path d="M228.38 300.67V298.80M226.98 298.80h2.8M226.98 300.67h2.8" stroke="#2a2a2a" stroke-width="0.5" fill="none"/>
<path d="M235.07 298.34V295.54M233.67 295.54h2.8M233.67 298.34h2.8" stroke="#2a2a2a" stroke-width="0.5" fill="none"/>
<path d="M241.76 296.01V292.28M240.36 292.28h2.8M240.36 296.01h2.8" stroke="#2a2a2a" stroke-width="0.5" fill="none"/>
<path d="M248.45 291.35V285.76M247.05 285.76h2.8M247.05 291.35h2.8" stroke="#2a2a2a" stroke-width="0.5" fill="none"/>
<path d="M255.14 284.82V277.37M253.74 277.37h2.8M253.74 284.82h2.8" stroke="#2a2a2a" stroke-width="0.5" fill="none"/>
<path d="M261.83 282.49V274.11M260.43 274.11h2.8M260.43 282.49h2.8" stroke="#2a2a2a" stroke-width="0.5" fill="none"/>
<path d="M268.52 281.10V271.78M267.12 271.78h2.8M267.12 281.10h2.8" stroke="#2a2a2a" stroke-width="0.5" fill="none"/>
<path d="M275.21 276.90V266.65M273.81 266.65h2.8M273.81 276.90h2.8" stroke="#2a2a2a" stroke-width="0.5" fill="none"/>
<path d="M281.90 273.64V264.32M280.50 264.32h2.8M280.50 273.64h2.8" stroke="#2a2a2a" stroke-width="0.5" fill="none"/>
<path d="M288.59 270.38V261.99M287.19 261.99h2.8M287.19 270.38h2.8" stroke="#2a2a2a" stroke-width="0.5" fill="none"/>
<path d="M295.28 270.84V261.52M293.88 261.52h2.8M293.88 270.84h2.8" stroke="#2a2a2a" stroke-width="0.5" fill="none"/>
<path d="M301.97 271.78V262.46M300.57 262.46h2.8M300.57 271.78h2.8" stroke="#2a2a2a" stroke-width="0.5" fill="none"/>
<path d="M308.66 272.24V261.06M307.26 261.06h2.8M307.26 272.24h2.8" stroke="#2a2a2a" stroke-width="0.5" fill="none"/>
<circle cx="215.00" cy="301.60" r="2.05" fill="#f6921e" stroke="#1a1a1a" stroke-width="0.5"/>
<circle cx="221.69" cy="300.67" r="2.05" fill="#f6921e" stroke="#1a1a1a" stroke-width="0.5"/>
<circle cx="228.38" cy="299.74" r="2.05" fill="#f6921e" stroke="#1a1a1a" stroke-width="0.5"/>
<circle cx="235.07" cy="296.94" r="2.05" fill="#f6921e" stroke="#1a1a1a" stroke-width="0.5"/>
<circle cx="241.76" cy="294.14" r="2.05" fill="#f6921e" stroke="#1a1a1a" stroke-width="0.5"/>
<circle cx="248.45" cy="288.55" r="2.05" fill="#f6921e" stroke="#1a1a1a" stroke-width="0.5"/>
<circle cx="255.14" cy="281.10" r="2.05" fill="#f6921e" stroke="#1a1a1a" stroke-width="0.5"/>
<circle cx="261.83" cy="278.30" r="2.05" fill="#f6921e" stroke="#1a1a1a" stroke-width="0.5"/>
<circle cx="268.52" cy="276.44" r="2.05" fill="#f6921e" stroke="#1a1a1a" stroke-width="0.5"/>
<circle cx="275.21" cy="271.78" r="2.05" fill="#f6921e" stroke="#1a1a1a" stroke-width="0.5"/>
<circle cx="281.90" cy="268.98" r="2.05" fill="#f6921e" stroke="#1a1a1a" stroke-width="0.5"/>
<circle cx="288.59" cy="266.18" r="2.05" fill="#f6921e" stroke="#1a1a1a" stroke-width="0.5"/>
<circle cx="295.28" cy="266.18" r="2.05" fill="#f6921e" stroke="#1a1a1a" stroke-width="0.5"/>
<circle cx="301.97" cy="267.12" r="2.05" fill="#f6921e" stroke="#1a1a1a" stroke-width="0.5"/>
<circle cx="308.66" cy="266.65" r="2.05" fill="#f6921e" stroke="#1a1a1a" stroke-width="0.5"/>
<polyline points="215.00,301.60 221.69,299.74 228.38,294.14 235.07,282.03 241.76,264.32 248.45,252.20 255.14,244.75 261.83,242.88 268.52,241.95 275.21,242.88 281.90,241.49 288.59,242.42 295.28,242.88 301.97,243.82 308.66,244.75" fill="none" stroke="#1a1a1a" stroke-width="0.55"/>
<path d="M221.69 300.67V298.80M220.29 298.80h2.8M220.29 300.67h2.8" stroke="#2a2a2a" stroke-width="0.5" fill="none"/>
<path d="M228.38 296.01V292.28M226.98 292.28h2.8M226.98 296.01h2.8" stroke="#2a2a2a" stroke-width="0.5" fill="none"/>
<path d="M235.07 285.76V278.30M233.67 278.30h2.8M233.67 285.76h2.8" stroke="#2a2a2a" stroke-width="0.5" fill="none"/>
<path d="M241.76 268.98V259.66M240.36 259.66h2.8M240.36 268.98h2.8" stroke="#2a2a2a" stroke-width="0.5" fill="none"/>
<path d="M248.45 257.80V246.61M247.05 246.61h2.8M247.05 257.80h2.8" stroke="#2a2a2a" stroke-width="0.5" fill="none"/>
<path d="M255.14 250.34V239.16M253.74 239.16h2.8M253.74 250.34h2.8" stroke="#2a2a2a" stroke-width="0.5" fill="none"/>
<path d="M261.83 249.41V236.36M260.43 236.36h2.8M260.43 249.41h2.8" stroke="#2a2a2a" stroke-width="0.5" fill="none"/>
<path d="M268.52 248.94V234.96M267.12 234.96h2.8M267.12 248.94h2.8" stroke="#2a2a2a" stroke-width="0.5" fill="none"/>
<path d="M275.21 248.48V237.29M273.81 237.29h2.8M273.81 248.48h2.8" stroke="#2a2a2a" stroke-width="0.5" fill="none"/>
<path d="M281.90 244.28V238.69M280.50 238.69h2.8M280.50 244.28h2.8" stroke="#2a2a2a" stroke-width="0.5" fill="none"/>
<path d="M288.59 248.48V236.36M287.19 236.36h2.8M287.19 248.48h2.8" stroke="#2a2a2a" stroke-width="0.5" fill="none"/>
<path d="M295.28 249.41V236.36M293.88 236.36h2.8M293.88 249.41h2.8" stroke="#2a2a2a" stroke-width="0.5" fill="none"/>
<path d="M301.97 248.94V238.69M300.57 238.69h2.8M300.57 248.94h2.8" stroke="#2a2a2a" stroke-width="0.5" fill="none"/>
<path d="M308.66 248.94V240.55M307.26 240.55h2.8M307.26 248.94h2.8" stroke="#2a2a2a" stroke-width="0.5" fill="none"/>
<circle cx="215.00" cy="301.60" r="2.05" fill="#f26d6d" stroke="#1a1a1a" stroke-width="0.5"/>
<circle cx="221.69" cy="299.74" r="2.05" fill="#f26d6d" stroke="#1a1a1a" stroke-width="0.5"/>
<circle cx="228.38" cy="294.14" r="2.05" fill="#f26d6d" stroke="#1a1a1a" stroke-width="0.5"/>
<circle cx="235.07" cy="282.03" r="2.05" fill="#f26d6d" stroke="#1a1a1a" stroke-width="0.5"/>
<circle cx="241.76" cy="264.32" r="2.05" fill="#f26d6d" stroke="#1a1a1a" stroke-width="0.5"/>
<circle cx="248.45" cy="252.20" r="2.05" fill="#f26d6d" stroke="#1a1a1a" stroke-width="0.5"/>
<circle cx="255.14" cy="244.75" r="2.05" fill="#f26d6d" stroke="#1a1a1a" stroke-width="0.5"/>
<circle cx="261.83" cy="242.88" r="2.05" fill="#f26d6d" stroke="#1a1a1a" stroke-width="0.5"/>
<circle cx="268.52" cy="241.95" r="2.05" fill="#f26d6d" stroke="#1a1a1a" stroke-width="0.5"/>
<circle cx="275.21" cy="242.88" r="2.05" fill="#f26d6d" stroke="#1a1a1a" stroke-width="0.5"/>
<circle cx="281.90" cy="241.49" r="2.05" fill="#f26d6d" stroke="#1a1a1a" stroke-width="0.5"/>
<circle cx="288.59" cy="242.42" r="2.05" fill="#f26d6d" stroke="#1a1a1a" stroke-width="0.5"/>
<circle cx="295.28" cy="242.88" r="2.05" fill="#f26d6d" stroke="#1a1a1a" stroke-width="0.5"/>
<circle cx="301.97" cy="243.82" r="2.05" fill="#f26d6d" stroke="#1a1a1a" stroke-width="0.5"/>
<circle cx="308.66" cy="244.75" r="2.05" fill="#f26d6d" stroke="#1a1a1a" stroke-width="0.5"/>
<polyline points="215.00,301.60 221.69,300.67 228.38,299.74 235.07,297.87 241.76,293.21 248.45,289.48 255.14,287.62 261.83,287.62 268.52,287.62 275.21,287.62 281.90,286.69 288.59,286.69 295.28,285.76 301.97,285.76 308.66,285.29" fill="none" stroke="#1a1a1a" stroke-width="0.55"/>
<path d="M221.69 301.13V300.20M220.29 300.20h2.8M220.29 301.13h2.8" stroke="#2a2a2a" stroke-width="0.5" fill="none"/>
<path d="M228.38 300.67V298.80M226.98 298.80h2.8M226.98 300.67h2.8" stroke="#2a2a2a" stroke-width="0.5" fill="none"/>
<path d="M235.07 299.27V296.47M233.67 296.47h2.8M233.67 299.27h2.8" stroke="#2a2a2a" stroke-width="0.5" fill="none"/>
<path d="M241.76 295.08V291.35M240.36 291.35h2.8M240.36 295.08h2.8" stroke="#2a2a2a" stroke-width="0.5" fill="none"/>
<path d="M248.45 291.81V287.15M247.05 287.15h2.8M247.05 291.81h2.8" stroke="#2a2a2a" stroke-width="0.5" fill="none"/>
<path d="M255.14 290.42V284.82M253.74 284.82h2.8M253.74 290.42h2.8" stroke="#2a2a2a" stroke-width="0.5" fill="none"/>
<path d="M261.83 290.42V284.82M260.43 284.82h2.8M260.43 290.42h2.8" stroke="#2a2a2a" stroke-width="0.5" fill="none"/>
<path d="M268.52 290.42V284.82M267.12 284.82h2.8M267.12 290.42h2.8" stroke="#2a2a2a" stroke-width="0.5" fill="none"/>
<path d="M275.21 290.42V284.82M273.81 284.82h2.8M273.81 290.42h2.8" stroke="#2a2a2a" stroke-width="0.5" fill="none"/>
<path d="M281.90 289.95V283.43M280.50 283.43h2.8M280.50 289.95h2.8" stroke="#2a2a2a" stroke-width="0.5" fill="none"/>
<path d="M288.59 290.42V282.96M287.19 282.96h2.8M287.19 290.42h2.8" stroke="#2a2a2a" stroke-width="0.5" fill="none"/>
<path d="M295.28 289.48V282.03M293.88 282.03h2.8M293.88 289.48h2.8" stroke="#2a2a2a" stroke-width="0.5" fill="none"/>
<path d="M301.97 289.48V282.03M300.57 282.03h2.8M300.57 289.48h2.8" stroke="#2a2a2a" stroke-width="0.5" fill="none"/>
<path d="M308.66 289.02V281.56M307.26 281.56h2.8M307.26 289.02h2.8" stroke="#2a2a2a" stroke-width="0.5" fill="none"/>
<circle cx="215.00" cy="301.60" r="2.05" fill="#fbdada" stroke="#1a1a1a" stroke-width="0.5"/>
<circle cx="221.69" cy="300.67" r="2.05" fill="#fbdada" stroke="#1a1a1a" stroke-width="0.5"/>
<circle cx="228.38" cy="299.74" r="2.05" fill="#fbdada" stroke="#1a1a1a" stroke-width="0.5"/>
<circle cx="235.07" cy="297.87" r="2.05" fill="#fbdada" stroke="#1a1a1a" stroke-width="0.5"/>
<circle cx="241.76" cy="293.21" r="2.05" fill="#fbdada" stroke="#1a1a1a" stroke-width="0.5"/>
<circle cx="248.45" cy="289.48" r="2.05" fill="#fbdada" stroke="#1a1a1a" stroke-width="0.5"/>
<circle cx="255.14" cy="287.62" r="2.05" fill="#fbdada" stroke="#1a1a1a" stroke-width="0.5"/>
<circle cx="261.83" cy="287.62" r="2.05" fill="#fbdada" stroke="#1a1a1a" stroke-width="0.5"/>
<circle cx="268.52" cy="287.62" r="2.05" fill="#fbdada" stroke="#1a1a1a" stroke-width="0.5"/>
<circle cx="275.21" cy="287.62" r="2.05" fill="#fbdada" stroke="#1a1a1a" stroke-width="0.5"/>
<circle cx="281.90" cy="286.69" r="2.05" fill="#fbdada" stroke="#1a1a1a" stroke-width="0.5"/>
<circle cx="288.59" cy="286.69" r="2.05" fill="#fbdada" stroke="#1a1a1a" stroke-width="0.5"/>
<circle cx="295.28" cy="285.76" r="2.05" fill="#fbdada" stroke="#1a1a1a" stroke-width="0.5"/>
<circle cx="301.97" cy="285.76" r="2.05" fill="#fbdada" stroke="#1a1a1a" stroke-width="0.5"/>
<circle cx="308.66" cy="285.29" r="2.05" fill="#fbdada" stroke="#1a1a1a" stroke-width="0.5"/>
<line x1="190.50" y1="179.10" x2="199.30" y2="179.10" stroke="#2a2a2a" stroke-width="0.5"/>
<circle cx="194.9" cy="179.1" r="1.6" fill="#fbdada" stroke="#2a2a2a" stroke-width="0.4"/>
<text x="201.9" y="181.4">ZBP1 + ctrl vector</text>
<line x1="190.50" y1="188.10" x2="199.30" y2="188.10" stroke="#2a2a2a" stroke-width="0.5"/>
<circle cx="194.9" cy="188.1" r="1.6" fill="#f26d6d" stroke="#2a2a2a" stroke-width="0.4"/>
<text x="201.9" y="190.4">ZBP1 + ICP27</text>
<line x1="190.50" y1="197.20" x2="199.30" y2="197.20" stroke="#2a2a2a" stroke-width="0.5"/>
<circle cx="194.9" cy="197.2" r="1.6" fill="#f6921e" stroke="#2a2a2a" stroke-width="0.4"/>
<text x="201.9" y="199.5">ZBP1 + ICP27 n504</text>
<line x1="275.40" y1="179.10" x2="284.20" y2="179.10" stroke="#2a2a2a" stroke-width="0.5"/>
<circle cx="279.8" cy="179.1" r="1.6" fill="#c9dcf2" stroke="#2a2a2a" stroke-width="0.4"/>
<text x="287.8" y="181.4"><tspan style="font-family:&quot;Liberation Serif&quot;,serif;font-size:8.4px">Δ</tspan>Z<tspan style="font-family:&quot;Liberation Serif&quot;,serif;font-size:8.4px">α</tspan> + ctrl vector</text>
<line x1="275.40" y1="188.10" x2="284.20" y2="188.10" stroke="#2a2a2a" stroke-width="0.5"/>
<circle cx="279.8" cy="188.1" r="1.6" fill="#3b82d9" stroke="#2a2a2a" stroke-width="0.4"/>
<text x="287.8" y="190.4"><tspan style="font-family:&quot;Liberation Serif&quot;,serif;font-size:8.4px">Δ</tspan>Z<tspan style="font-family:&quot;Liberation Serif&quot;,serif;font-size:8.4px">α</tspan> + ICP27</text>
<text x="357.80" y="178.40" style="font-size:10.2px;font-weight:bold;">g</text>
<rect x="377.9" y="248.4" width="34.5" height="12.10" fill="#efefef" stroke="#555" stroke-width="0.45"/>
<ellipse cx="396.20" cy="254.30" rx="6.30" ry="1.90" fill="#0a0a0a" opacity="1.0" filter="url(#bb)"/>
<ellipse cx="396.20" cy="254.30" rx="5.25" ry="1.40" fill="#0a0a0a" opacity="1.0" filter="url(#bb)"/>
<rect x="377.9" y="262.2" width="34.5" height="9.70" fill="#ececec" stroke="#555" stroke-width="0.45"/>
<ellipse cx="396.40" cy="266.90" rx="4.90" ry="1.65" fill="#0a0a0a" opacity="0.92" filter="url(#bb)"/>
<ellipse cx="396.40" cy="266.90" rx="3.75" ry="1.10" fill="#0a0a0a" opacity="0.7" filter="url(#bb)"/>
<ellipse cx="405.80" cy="267.00" rx="4.60" ry="1.30" fill="#0a0a0a" opacity="0.55" filter="url(#bb)"/>
<rect x="377.9" y="273.4" width="34.5" height="12.60" fill="#f0f0f0" stroke="#555" stroke-width="0.45"/>
<ellipse cx="395.80" cy="279.40" rx="5.90" ry="2.60" fill="#0a0a0a" opacity="1.0" filter="url(#bb)"/>
<ellipse cx="395.80" cy="279.40" rx="5.00" ry="2.00" fill="#0a0a0a" opacity="1.0" filter="url(#bb)"/>
<ellipse cx="405.90" cy="279.20" rx="5.60" ry="3.10" fill="#0a0a0a" opacity="1.0" filter="url(#bb)"/>
<ellipse cx="405.90" cy="279.20" rx="4.80" ry="2.40" fill="#0a0a0a" opacity="1.0" filter="url(#bb)"/>
<rect x="377.9" y="287.7" width="34.5" height="10.90" fill="#e6e6e6" stroke="#555" stroke-width="0.45"/>
<ellipse cx="383.30" cy="292.70" rx="5.50" ry="1.40" fill="#0a0a0a" opacity="0.95" filter="url(#bb)"/>
<ellipse cx="395.70" cy="292.70" rx="5.50" ry="1.40" fill="#0a0a0a" opacity="0.95" filter="url(#bb)"/>
<ellipse cx="406.30" cy="292.70" rx="5.50" ry="1.40" fill="#0a0a0a" opacity="0.95" filter="url(#bb)"/>
<path d="M380.5 292.7L410.5 292.7" stroke="#0a0a0a" stroke-width="1.5" opacity="0.85" filter="url(#bb)"/>
<text x="371.60" y="252.70" text-anchor="end">72</text>
<line x1="373.60" y1="250.30" x2="377.90" y2="250.30" stroke="#000" stroke-width="0.5"/>
<text x="371.60" y="260.00" text-anchor="end">55</text>
<line x1="373.60" y1="257.60" x2="377.90" y2="257.60" stroke="#000" stroke-width="0.5"/>
<text x="371.60" y="267.30" text-anchor="end">130</text>
<line x1="373.60" y1="264.90" x2="377.90" y2="264.90" stroke="#000" stroke-width="0.5"/>
<text x="371.60" y="285.70" text-anchor="end">130</text>
<line x1="373.60" y1="283.30" x2="377.90" y2="283.30" stroke="#000" stroke-width="0.5"/>
<text x="371.60" y="292.50" text-anchor="end">36</text>
<line x1="373.60" y1="290.10" x2="377.90" y2="290.10" stroke="#000" stroke-width="0.5"/>
<text x="360.00" y="301.80">kDa</text>
<text x="416.00" y="257.00">ICP27</text>
<text x="416.00" y="269.20">ICP0</text>
<text x="416.00" y="281.80">ICP5</text>
<text x="416.00" y="295.20">GAPDH</text>
<text style="font-size:8.0px;" transform="translate(386.20 245.40) rotate(-90)">Mock</text>
<text transform="translate(398.8 245.4) rotate(-90)" style="font-style:italic;font-size:8px">RHIM<tspan style="font-size:5.7px" dy="-3">mut</tspan></text>
<text transform="translate(409.2 245.4) rotate(-90)" style="font-style:italic;font-size:8px">RHIM<tspan style="font-size:5.7px" dy="-3">mut</tspan><tspan dy="3" dx="1.4">ΔICP27</tspan></text>
<text x="456.00" y="178.80" style="font-size:10.2px;font-weight:bold;">h</text>
<line x1="485.70" y1="205.70" x2="485.70" y2="302.45" stroke="#000" stroke-width="0.5"/>
<line x1="481.90" y1="302.20" x2="485.70" y2="302.20" stroke="#000" stroke-width="0.5"/>
<text x="479.30" y="304.90" text-anchor="end">0</text>
<line x1="481.90" y1="282.95" x2="485.70" y2="282.95" stroke="#000" stroke-width="0.5"/>
<text x="479.30" y="285.65" text-anchor="end">20</text>
<line x1="481.90" y1="263.70" x2="485.70" y2="263.70" stroke="#000" stroke-width="0.5"/>
<text x="479.30" y="266.40" text-anchor="end">40</text>
<line x1="481.90" y1="244.45" x2="485.70" y2="244.45" stroke="#000" stroke-width="0.5"/>
<text x="479.30" y="247.15" text-anchor="end">60</text>
<line x1="481.90" y1="225.20" x2="485.70" y2="225.20" stroke="#000" stroke-width="0.5"/>
<text x="479.30" y="227.90" text-anchor="end">80</text>
<line x1="481.90" y1="205.95" x2="485.70" y2="205.95" stroke="#000" stroke-width="0.5"/>
<text x="479.30" y="208.65" text-anchor="end">100</text>
<line x1="485.45" y1="302.20" x2="582.67" y2="302.20" stroke="#000" stroke-width="0.5"/>
<line x1="485.70" y1="302.20" x2="485.70" y2="305.60" stroke="#000" stroke-width="0.5"/>
<text x="485.70" y="315.30" text-anchor="middle">0</text>
<line x1="509.88" y1="302.20" x2="509.88" y2="305.60" stroke="#000" stroke-width="0.5"/>
<text x="509.88" y="315.30" text-anchor="middle">6</text>
<line x1="534.06" y1="302.20" x2="534.06" y2="305.60" stroke="#000" stroke-width="0.5"/>
<text x="534.06" y="315.30" text-anchor="middle">12</text>
<line x1="558.24" y1="302.20" x2="558.24" y2="305.60" stroke="#000" stroke-width="0.5"/>
<text x="558.24" y="315.30" text-anchor="middle">18</text>
<line x1="582.42" y1="302.20" x2="582.42" y2="305.60" stroke="#000" stroke-width="0.5"/>
<text x="582.42" y="315.30" text-anchor="middle">24</text>
<text x="534.20" y="326.40" text-anchor="middle">Time (h)</text>
<text text-anchor="middle" transform="translate(462.00 255.00) rotate(-90)">Cell death (%)</text>
<polyline points="485.70,300.47 489.73,300.47 493.76,300.47 497.79,300.47 501.82,300.27 505.85,300.08 509.88,299.99 513.91,299.89 517.94,299.70 521.97,299.50 526.00,299.31 530.03,299.12 534.06,299.02 538.09,298.93 542.12,298.74 546.15,298.54 550.18,298.54 554.21,298.54 558.24,298.35 562.27,298.35 566.30,298.35 570.33,298.35 574.36,298.35 578.39,298.35 582.42,298.35" fill="none" stroke="#1a1a1a" stroke-width="0.55"/>
<circle cx="485.70" cy="300.47" r="1.9" fill="#3b82d9" stroke="#1a1a1a" stroke-width="0.5"/>
<circle cx="489.73" cy="300.47" r="1.9" fill="#3b82d9" stroke="#1a1a1a" stroke-width="0.5"/>
<circle cx="493.76" cy="300.47" r="1.9" fill="#3b82d9" stroke="#1a1a1a" stroke-width="0.5"/>
<circle cx="497.79" cy="300.47" r="1.9" fill="#3b82d9" stroke="#1a1a1a" stroke-width="0.5"/>
<circle cx="501.82" cy="300.27" r="1.9" fill="#3b82d9" stroke="#1a1a1a" stroke-width="0.5"/>
<circle cx="505.85" cy="300.08" r="1.9" fill="#3b82d9" stroke="#1a1a1a" stroke-width="0.5"/>
<circle cx="509.88" cy="299.99" r="1.9" fill="#3b82d9" stroke="#1a1a1a" stroke-width="0.5"/>
<circle cx="513.91" cy="299.89" r="1.9" fill="#3b82d9" stroke="#1a1a1a" stroke-width="0.5"/>
<circle cx="517.94" cy="299.70" r="1.9" fill="#3b82d9" stroke="#1a1a1a" stroke-width="0.5"/>
<circle cx="521.97" cy="299.50" r="1.9" fill="#3b82d9" stroke="#1a1a1a" stroke-width="0.5"/>
<circle cx="526.00" cy="299.31" r="1.9" fill="#3b82d9" stroke="#1a1a1a" stroke-width="0.5"/>
<circle cx="530.03" cy="299.12" r="1.9" fill="#3b82d9" stroke="#1a1a1a" stroke-width="0.5"/>
<circle cx="534.06" cy="299.02" r="1.9" fill="#3b82d9" stroke="#1a1a1a" stroke-width="0.5"/>
<circle cx="538.09" cy="298.93" r="1.9" fill="#3b82d9" stroke="#1a1a1a" stroke-width="0.5"/>
<circle cx="542.12" cy="298.74" r="1.9" fill="#3b82d9" stroke="#1a1a1a" stroke-width="0.5"/>
<circle cx="546.15" cy="298.54" r="1.9" fill="#3b82d9" stroke="#1a1a1a" stroke-width="0.5"/>
<circle cx="550.18" cy="298.54" r="1.9" fill="#3b82d9" stroke="#1a1a1a" stroke-width="0.5"/>
<circle cx="554.21" cy="298.54" r="1.9" fill="#3b82d9" stroke="#1a1a1a" stroke-width="0.5"/>
<circle cx="558.24" cy="298.35" r="1.9" fill="#3b82d9" stroke="#1a1a1a" stroke-width="0.5"/>
<circle cx="562.27" cy="298.35" r="1.9" fill="#3b82d9" stroke="#1a1a1a" stroke-width="0.5"/>
<circle cx="566.30" cy="298.35" r="1.9" fill="#3b82d9" stroke="#1a1a1a" stroke-width="0.5"/>
<circle cx="570.33" cy="298.35" r="1.9" fill="#3b82d9" stroke="#1a1a1a" stroke-width="0.5"/>
<circle cx="574.36" cy="298.35" r="1.9" fill="#3b82d9" stroke="#1a1a1a" stroke-width="0.5"/>
<circle cx="578.39" cy="298.35" r="1.9" fill="#3b82d9" stroke="#1a1a1a" stroke-width="0.5"/>
<circle cx="582.42" cy="298.35" r="1.9" fill="#3b82d9" stroke="#1a1a1a" stroke-width="0.5"/>
<polyline points="485.70,300.47 489.73,300.47 493.76,300.47 497.79,300.27 501.82,300.27 505.85,299.99 509.88,299.99 513.91,299.70 517.94,299.50 521.97,299.50 526.00,299.31 530.03,299.12 534.06,298.93 538.09,298.74 542.12,298.54 546.15,298.54 550.18,298.54 554.21,298.54 558.24,298.54 562.27,298.54 566.30,298.54 570.33,298.54 574.36,298.54 578.39,298.54 582.42,298.54" fill="none" stroke="#1a1a1a" stroke-width="0.55"/>
<circle cx="485.70" cy="300.47" r="1.9" fill="#8fb4ea" stroke="#1a1a1a" stroke-width="0.5"/>
<circle cx="489.73" cy="300.47" r="1.9" fill="#8fb4ea" stroke="#1a1a1a" stroke-width="0.5"/>
<circle cx="493.76" cy="300.47" r="1.9" fill="#8fb4ea" stroke="#1a1a1a" stroke-width="0.5"/>
<circle cx="497.79" cy="300.27" r="1.9" fill="#8fb4ea" stroke="#1a1a1a" stroke-width="0.5"/>
<circle cx="501.82" cy="300.27" r="1.9" fill="#8fb4ea" stroke="#1a1a1a" stroke-width="0.5"/>
<circle cx="505.85" cy="299.99" r="1.9" fill="#8fb4ea" stroke="#1a1a1a" stroke-width="0.5"/>
<circle cx="509.88" cy="299.99" r="1.9" fill="#8fb4ea" stroke="#1a1a1a" stroke-width="0.5"/>
<circle cx="513.91" cy="299.70" r="1.9" fill="#8fb4ea" stroke="#1a1a1a" stroke-width="0.5"/>
<circle cx="517.94" cy="299.50" r="1.9" fill="#8fb4ea" stroke="#1a1a1a" stroke-width="0.5"/>
<circle cx="521.97" cy="299.50" r="1.9" fill="#8fb4ea" stroke="#1a1a1a" stroke-width="0.5"/>
<circle cx="526.00" cy="299.31" r="1.9" fill="#8fb4ea" stroke="#1a1a1a" stroke-width="0.5"/>
<circle cx="530.03" cy="299.12" r="1.9" fill="#8fb4ea" stroke="#1a1a1a" stroke-width="0.5"/>
<circle cx="534.06" cy="298.93" r="1.9" fill="#8fb4ea" stroke="#1a1a1a" stroke-width="0.5"/>
<circle cx="538.09" cy="298.74" r="1.9" fill="#8fb4ea" stroke="#1a1a1a" stroke-width="0.5"/>
<circle cx="542.12" cy="298.54" r="1.9" fill="#8fb4ea" stroke="#1a1a1a" stroke-width="0.5"/>
<circle cx="546.15" cy="298.54" r="1.9" fill="#8fb4ea" stroke="#1a1a1a" stroke-width="0.5"/>
<circle cx="550.18" cy="298.54" r="1.9" fill="#8fb4ea" stroke="#1a1a1a" stroke-width="0.5"/>
<circle cx="554.21" cy="298.54" r="1.9" fill="#8fb4ea" stroke="#1a1a1a" stroke-width="0.5"/>
<circle cx="558.24" cy="298.54" r="1.9" fill="#8fb4ea" stroke="#1a1a1a" stroke-width="0.5"/>
<circle cx="562.27" cy="298.54" r="1.9" fill="#8fb4ea" stroke="#1a1a1a" stroke-width="0.5"/>
<circle cx="566.30" cy="298.54" r="1.9" fill="#8fb4ea" stroke="#1a1a1a" stroke-width="0.5"/>
<circle cx="570.33" cy="298.54" r="1.9" fill="#8fb4ea" stroke="#1a1a1a" stroke-width="0.5"/>
<circle cx="574.36" cy="298.54" r="1.9" fill="#8fb4ea" stroke="#1a1a1a" stroke-width="0.5"/>
<circle cx="578.39" cy="298.54" r="1.9" fill="#8fb4ea" stroke="#1a1a1a" stroke-width="0.5"/>
<circle cx="582.42" cy="298.54" r="1.9" fill="#8fb4ea" stroke="#1a1a1a" stroke-width="0.5"/>
<polyline points="485.70,300.47 489.73,300.47 493.76,300.47 497.79,300.47 501.82,300.47 505.85,300.27 509.88,300.27 513.91,300.27 517.94,300.08 521.97,300.08 526.00,299.99 530.03,299.99 534.06,299.89 538.09,299.89 542.12,299.70 546.15,299.70 550.18,299.50 554.21,299.50 558.24,299.50 562.27,299.50 566.30,299.31 570.33,299.31 574.36,299.31 578.39,299.12 582.42,299.12" fill="none" stroke="#1a1a1a" stroke-width="0.55"/>
<circle cx="485.70" cy="300.47" r="1.9" fill="#dce8f7" stroke="#1a1a1a" stroke-width="0.5"/>
<circle cx="489.73" cy="300.47" r="1.9" fill="#dce8f7" stroke="#1a1a1a" stroke-width="0.5"/>
<circle cx="493.76" cy="300.47" r="1.9" fill="#dce8f7" stroke="#1a1a1a" stroke-width="0.5"/>
<circle cx="497.79" cy="300.47" r="1.9" fill="#dce8f7" stroke="#1a1a1a" stroke-width="0.5"/>
<circle cx="501.82" cy="300.47" r="1.9" fill="#dce8f7" stroke="#1a1a1a" stroke-width="0.5"/>
<circle cx="505.85" cy="300.27" r="1.9" fill="#dce8f7" stroke="#1a1a1a" stroke-width="0.5"/>
<circle cx="509.88" cy="300.27" r="1.9" fill="#dce8f7" stroke="#1a1a1a" stroke-width="0.5"/>
<circle cx="513.91" cy="300.27" r="1.9" fill="#dce8f7" stroke="#1a1a1a" stroke-width="0.5"/>
<circle cx="517.94" cy="300.08" r="1.9" fill="#dce8f7" stroke="#1a1a1a" stroke-width="0.5"/>
<circle cx="521.97" cy="300.08" r="1.9" fill="#dce8f7" stroke="#1a1a1a" stroke-width="0.5"/>
<circle cx="526.00" cy="299.99" r="1.9" fill="#dce8f7" stroke="#1a1a1a" stroke-width="0.5"/>
<circle cx="530.03" cy="299.99" r="1.9" fill="#dce8f7" stroke="#1a1a1a" stroke-width="0.5"/>
<circle cx="534.06" cy="299.89" r="1.9" fill="#dce8f7" stroke="#1a1a1a" stroke-width="0.5"/>
<circle cx="538.09" cy="299.89" r="1.9" fill="#dce8f7" stroke="#1a1a1a" stroke-width="0.5"/>
<circle cx="542.12" cy="299.70" r="1.9" fill="#dce8f7" stroke="#1a1a1a" stroke-width="0.5"/>
<circle cx="546.15" cy="299.70" r="1.9" fill="#dce8f7" stroke="#1a1a1a" stroke-width="0.5"/>
<circle cx="550.18" cy="299.50" r="1.9" fill="#dce8f7" stroke="#1a1a1a" stroke-width="0.5"/>
<circle cx="554.21" cy="299.50" r="1.9" fill="#dce8f7" stroke="#1a1a1a" stroke-width="0.5"/>
<circle cx="558.24" cy="299.50" r="1.9" fill="#dce8f7" stroke="#1a1a1a" stroke-width="0.5"/>
<circle cx="562.27" cy="299.50" r="1.9" fill="#dce8f7" stroke="#1a1a1a" stroke-width="0.5"/>
<circle cx="566.30" cy="299.31" r="1.9" fill="#dce8f7" stroke="#1a1a1a" stroke-width="0.5"/>
<circle cx="570.33" cy="299.31" r="1.9" fill="#dce8f7" stroke="#1a1a1a" stroke-width="0.5"/>
<circle cx="574.36" cy="299.31" r="1.9" fill="#dce8f7" stroke="#1a1a1a" stroke-width="0.5"/>
<circle cx="578.39" cy="299.12" r="1.9" fill="#dce8f7" stroke="#1a1a1a" stroke-width="0.5"/>
<circle cx="582.42" cy="299.12" r="1.9" fill="#dce8f7" stroke="#1a1a1a" stroke-width="0.5"/>
<polyline points="485.70,301.24 489.73,300.76 493.76,300.27 497.79,299.79 501.82,299.31 505.85,298.35 509.88,296.43 513.91,292.57 517.94,287.76 521.97,282.95 526.00,277.18 530.03,270.44 534.06,261.77 538.09,254.07 542.12,246.38 546.15,240.60 550.18,235.79 554.21,231.94 558.24,229.05 562.27,226.16 566.30,224.24 570.33,223.27 574.36,223.27 578.39,223.27 582.42,223.27" fill="none" stroke="#1a1a1a" stroke-width="0.55"/>
<path d="M558.24 230.49V227.61M556.84 227.61h2.8M556.84 230.49h2.8" stroke="#2a2a2a" stroke-width="0.5" fill="none"/>
<path d="M562.27 228.09V224.24M560.87 224.24h2.8M560.87 228.09h2.8" stroke="#2a2a2a" stroke-width="0.5" fill="none"/>
<path d="M566.30 227.12V221.35M564.90 221.35h2.8M564.90 227.12h2.8" stroke="#2a2a2a" stroke-width="0.5" fill="none"/>
<path d="M570.33 228.57V217.98M568.93 217.98h2.8M568.93 228.57h2.8" stroke="#2a2a2a" stroke-width="0.5" fill="none"/>
<path d="M574.36 229.53V217.02M572.96 217.02h2.8M572.96 229.53h2.8" stroke="#2a2a2a" stroke-width="0.5" fill="none"/>
<path d="M578.39 229.05V217.50M576.99 217.50h2.8M576.99 229.05h2.8" stroke="#2a2a2a" stroke-width="0.5" fill="none"/>
<path d="M582.42 228.57V217.98M581.02 217.98h2.8M581.02 228.57h2.8" stroke="#2a2a2a" stroke-width="0.5" fill="none"/>
<circle cx="485.70" cy="301.24" r="1.9" fill="#f28b8b" stroke="#1a1a1a" stroke-width="0.5"/>
<circle cx="489.73" cy="300.76" r="1.9" fill="#f28b8b" stroke="#1a1a1a" stroke-width="0.5"/>
<circle cx="493.76" cy="300.27" r="1.9" fill="#f28b8b" stroke="#1a1a1a" stroke-width="0.5"/>
<circle cx="497.79" cy="299.79" r="1.9" fill="#f28b8b" stroke="#1a1a1a" stroke-width="0.5"/>
<circle cx="501.82" cy="299.31" r="1.9" fill="#f28b8b" stroke="#1a1a1a" stroke-width="0.5"/>
<circle cx="505.85" cy="298.35" r="1.9" fill="#f28b8b" stroke="#1a1a1a" stroke-width="0.5"/>
<circle cx="509.88" cy="296.43" r="1.9" fill="#f28b8b" stroke="#1a1a1a" stroke-width="0.5"/>
<circle cx="513.91" cy="292.57" r="1.9" fill="#f28b8b" stroke="#1a1a1a" stroke-width="0.5"/>
<circle cx="517.94" cy="287.76" r="1.9" fill="#f28b8b" stroke="#1a1a1a" stroke-width="0.5"/>
<circle cx="521.97" cy="282.95" r="1.9" fill="#f28b8b" stroke="#1a1a1a" stroke-width="0.5"/>
<circle cx="526.00" cy="277.18" r="1.9" fill="#f28b8b" stroke="#1a1a1a" stroke-width="0.5"/>
<circle cx="530.03" cy="270.44" r="1.9" fill="#f28b8b" stroke="#1a1a1a" stroke-width="0.5"/>
<circle cx="534.06" cy="261.77" r="1.9" fill="#f28b8b" stroke="#1a1a1a" stroke-width="0.5"/>
<circle cx="538.09" cy="254.07" r="1.9" fill="#f28b8b" stroke="#1a1a1a" stroke-width="0.5"/>
<circle cx="542.12" cy="246.38" r="1.9" fill="#f28b8b" stroke="#1a1a1a" stroke-width="0.5"/>
<circle cx="546.15" cy="240.60" r="1.9" fill="#f28b8b" stroke="#1a1a1a" stroke-width="0.5"/>
<circle cx="550.18" cy="235.79" r="1.9" fill="#f28b8b" stroke="#1a1a1a" stroke-width="0.5"/>
<circle cx="554.21" cy="231.94" r="1.9" fill="#f28b8b" stroke="#1a1a1a" stroke-width="0.5"/>
<circle cx="558.24" cy="229.05" r="1.9" fill="#f28b8b" stroke="#1a1a1a" stroke-width="0.5"/>
<circle cx="562.27" cy="226.16" r="1.9" fill="#f28b8b" stroke="#1a1a1a" stroke-width="0.5"/>
<circle cx="566.30" cy="224.24" r="1.9" fill="#f28b8b" stroke="#1a1a1a" stroke-width="0.5"/>
<circle cx="570.33" cy="223.27" r="1.9" fill="#f28b8b" stroke="#1a1a1a" stroke-width="0.5"/>
<circle cx="574.36" cy="223.27" r="1.9" fill="#f28b8b" stroke="#1a1a1a" stroke-width="0.5"/>
<circle cx="578.39" cy="223.27" r="1.9" fill="#f28b8b" stroke="#1a1a1a" stroke-width="0.5"/>
<circle cx="582.42" cy="223.27" r="1.9" fill="#f28b8b" stroke="#1a1a1a" stroke-width="0.5"/>
<polyline points="485.70,300.27 489.73,300.27 493.76,300.27 497.79,300.27 501.82,300.27 505.85,300.27 509.88,300.08 513.91,299.79 517.94,299.50 521.97,299.12 526.00,298.35 530.03,296.43 534.06,294.50 538.09,292.57 542.12,289.69 546.15,286.80 550.18,283.91 554.21,281.02 558.24,278.14 562.27,275.25 566.30,272.36 570.33,269.47 574.36,267.55 578.39,265.62 582.42,263.70" fill="none" stroke="#1a1a1a" stroke-width="0.55"/>
<path d="M538.09 293.54V291.61M536.69 291.61h2.8M536.69 293.54h2.8" stroke="#2a2a2a" stroke-width="0.5" fill="none"/>
<path d="M542.12 291.13V288.24M540.72 288.24h2.8M540.72 291.13h2.8" stroke="#2a2a2a" stroke-width="0.5" fill="none"/>
<path d="M546.15 288.24V285.36M544.75 285.36h2.8M544.75 288.24h2.8" stroke="#2a2a2a" stroke-width="0.5" fill="none"/>
<path d="M550.18 285.84V281.99M548.78 281.99h2.8M548.78 285.84h2.8" stroke="#2a2a2a" stroke-width="0.5" fill="none"/>
<path d="M554.21 283.43V278.62M552.81 278.62h2.8M552.81 283.43h2.8" stroke="#2a2a2a" stroke-width="0.5" fill="none"/>
<path d="M558.24 280.54V275.73M556.84 275.73h2.8M556.84 280.54h2.8" stroke="#2a2a2a" stroke-width="0.5" fill="none"/>
<path d="M562.27 277.18V273.32M560.87 273.32h2.8M560.87 277.18h2.8" stroke="#2a2a2a" stroke-width="0.5" fill="none"/>
<path d="M566.30 274.29V270.44M564.90 270.44h2.8M564.90 274.29h2.8" stroke="#2a2a2a" stroke-width="0.5" fill="none"/>
<path d="M570.33 271.40V267.55M568.93 267.55h2.8M568.93 271.40h2.8" stroke="#2a2a2a" stroke-width="0.5" fill="none"/>
<path d="M574.36 269.47V265.62M572.96 265.62h2.8M572.96 269.47h2.8" stroke="#2a2a2a" stroke-width="0.5" fill="none"/>
<path d="M578.39 267.55V263.70M576.99 263.70h2.8M576.99 267.55h2.8" stroke="#2a2a2a" stroke-width="0.5" fill="none"/>
<path d="M582.42 265.62V261.77M581.02 261.77h2.8M581.02 265.62h2.8" stroke="#2a2a2a" stroke-width="0.5" fill="none"/>
<circle cx="485.70" cy="300.27" r="1.9" fill="#e62328" stroke="#1a1a1a" stroke-width="0.5"/>
<circle cx="489.73" cy="300.27" r="1.9" fill="#e62328" stroke="#1a1a1a" stroke-width="0.5"/>
<circle cx="493.76" cy="300.27" r="1.9" fill="#e62328" stroke="#1a1a1a" stroke-width="0.5"/>
<circle cx="497.79" cy="300.27" r="1.9" fill="#e62328" stroke="#1a1a1a" stroke-width="0.5"/>
<circle cx="501.82" cy="300.27" r="1.9" fill="#e62328" stroke="#1a1a1a" stroke-width="0.5"/>
<circle cx="505.85" cy="300.27" r="1.9" fill="#e62328" stroke="#1a1a1a" stroke-width="0.5"/>
<circle cx="509.88" cy="300.08" r="1.9" fill="#e62328" stroke="#1a1a1a" stroke-width="0.5"/>
<circle cx="513.91" cy="299.79" r="1.9" fill="#e62328" stroke="#1a1a1a" stroke-width="0.5"/>
<circle cx="517.94" cy="299.50" r="1.9" fill="#e62328" stroke="#1a1a1a" stroke-width="0.5"/>
<circle cx="521.97" cy="299.12" r="1.9" fill="#e62328" stroke="#1a1a1a" stroke-width="0.5"/>
<circle cx="526.00" cy="298.35" r="1.9" fill="#e62328" stroke="#1a1a1a" stroke-width="0.5"/>
<circle cx="530.03" cy="296.43" r="1.9" fill="#e62328" stroke="#1a1a1a" stroke-width="0.5"/>
<circle cx="534.06" cy="294.50" r="1.9" fill="#e62328" stroke="#1a1a1a" stroke-width="0.5"/>
<circle cx="538.09" cy="292.57" r="1.9" fill="#e62328" stroke="#1a1a1a" stroke-width="0.5"/>
<circle cx="542.12" cy="289.69" r="1.9" fill="#e62328" stroke="#1a1a1a" stroke-width="0.5"/>
<circle cx="546.15" cy="286.80" r="1.9" fill="#e62328" stroke="#1a1a1a" stroke-width="0.5"/>
<circle cx="550.18" cy="283.91" r="1.9" fill="#e62328" stroke="#1a1a1a" stroke-width="0.5"/>
<circle cx="554.21" cy="281.02" r="1.9" fill="#e62328" stroke="#1a1a1a" stroke-width="0.5"/>
<circle cx="558.24" cy="278.14" r="1.9" fill="#e62328" stroke="#1a1a1a" stroke-width="0.5"/>
<circle cx="562.27" cy="275.25" r="1.9" fill="#e62328" stroke="#1a1a1a" stroke-width="0.5"/>
<circle cx="566.30" cy="272.36" r="1.9" fill="#e62328" stroke="#1a1a1a" stroke-width="0.5"/>
<circle cx="570.33" cy="269.47" r="1.9" fill="#e62328" stroke="#1a1a1a" stroke-width="0.5"/>
<circle cx="574.36" cy="267.55" r="1.9" fill="#e62328" stroke="#1a1a1a" stroke-width="0.5"/>
<circle cx="578.39" cy="265.62" r="1.9" fill="#e62328" stroke="#1a1a1a" stroke-width="0.5"/>
<circle cx="582.42" cy="263.70" r="1.9" fill="#e62328" stroke="#1a1a1a" stroke-width="0.5"/>
<polyline points="485.70,300.47 489.73,300.47 493.76,300.47 497.79,300.47 501.82,300.47 505.85,300.47 509.88,300.27 513.91,300.27 517.94,300.27 521.97,300.08 526.00,300.08 530.03,300.08 534.06,299.89 538.09,299.89 542.12,299.70 546.15,299.70 550.18,299.50 554.21,299.50 558.24,299.50 562.27,299.31 566.30,299.31 570.33,299.12 574.36,299.12 578.39,298.93 582.42,298.93" fill="none" stroke="#1a1a1a" stroke-width="0.55"/>
<circle cx="485.70" cy="300.47" r="1.9" fill="#fbdada" stroke="#1a1a1a" stroke-width="0.5"/>
<circle cx="489.73" cy="300.47" r="1.9" fill="#fbdada" stroke="#1a1a1a" stroke-width="0.5"/>
<circle cx="493.76" cy="300.47" r="1.9" fill="#fbdada" stroke="#1a1a1a" stroke-width="0.5"/>
<circle cx="497.79" cy="300.47" r="1.9" fill="#fbdada" stroke="#1a1a1a" stroke-width="0.5"/>
<circle cx="501.82" cy="300.47" r="1.9" fill="#fbdada" stroke="#1a1a1a" stroke-width="0.5"/>
<circle cx="505.85" cy="300.47" r="1.9" fill="#fbdada" stroke="#1a1a1a" stroke-width="0.5"/>
<circle cx="509.88" cy="300.27" r="1.9" fill="#fbdada" stroke="#1a1a1a" stroke-width="0.5"/>
<circle cx="513.91" cy="300.27" r="1.9" fill="#fbdada" stroke="#1a1a1a" stroke-width="0.5"/>
<circle cx="517.94" cy="300.27" r="1.9" fill="#fbdada" stroke="#1a1a1a" stroke-width="0.5"/>
<circle cx="521.97" cy="300.08" r="1.9" fill="#fbdada" stroke="#1a1a1a" stroke-width="0.5"/>
<circle cx="526.00" cy="300.08" r="1.9" fill="#fbdada" stroke="#1a1a1a" stroke-width="0.5"/>
<circle cx="530.03" cy="300.08" r="1.9" fill="#fbdada" stroke="#1a1a1a" stroke-width="0.5"/>
<circle cx="534.06" cy="299.89" r="1.9" fill="#fbdada" stroke="#1a1a1a" stroke-width="0.5"/>
<circle cx="538.09" cy="299.89" r="1.9" fill="#fbdada" stroke="#1a1a1a" stroke-width="0.5"/>
<circle cx="542.12" cy="299.70" r="1.9" fill="#fbdada" stroke="#1a1a1a" stroke-width="0.5"/>
<circle cx="546.15" cy="299.70" r="1.9" fill="#fbdada" stroke="#1a1a1a" stroke-width="0.5"/>
<circle cx="550.18" cy="299.50" r="1.9" fill="#fbdada" stroke="#1a1a1a" stroke-width="0.5"/>
<circle cx="554.21" cy="299.50" r="1.9" fill="#fbdada" stroke="#1a1a1a" stroke-width="0.5"/>
<circle cx="558.24" cy="299.50" r="1.9" fill="#fbdada" stroke="#1a1a1a" stroke-width="0.5"/>
<circle cx="562.27" cy="299.31" r="1.9" fill="#fbdada" stroke="#1a1a1a" stroke-width="0.5"/>
<circle cx="566.30" cy="299.31" r="1.9" fill="#fbdada" stroke="#1a1a1a" stroke-width="0.5"/>
<circle cx="570.33" cy="299.12" r="1.9" fill="#fbdada" stroke="#1a1a1a" stroke-width="0.5"/>
<circle cx="574.36" cy="299.12" r="1.9" fill="#fbdada" stroke="#1a1a1a" stroke-width="0.5"/>
<circle cx="578.39" cy="298.93" r="1.9" fill="#fbdada" stroke="#1a1a1a" stroke-width="0.5"/>
<circle cx="582.42" cy="298.93" r="1.9" fill="#fbdada" stroke="#1a1a1a" stroke-width="0.5"/>
<text x="590.40" y="222.80">Flag–ZBP1 MEFs</text>
<line x1="588.30" y1="226.00" x2="621.50" y2="226.00" stroke="#000" stroke-width="0.5"/>
<text x="590.40" y="267.50">Vec MEFs</text>
<line x1="587.70" y1="270.60" x2="626.90" y2="270.60" stroke="#000" stroke-width="0.5"/>
<line x1="589.00" y1="232.00" x2="598.80" y2="232.00" stroke="#1a1a1a" stroke-width="0.5"/>
<circle cx="594.0" cy="232.0" r="1.8" fill="#fbdada" stroke="#2a2a2a" stroke-width="0.4"/>
<text x="601.4" y="234.6">Mock</text>
<line x1="589.00" y1="242.00" x2="598.80" y2="242.00" stroke="#1a1a1a" stroke-width="0.5"/>
<circle cx="594.0" cy="242.0" r="1.8" fill="#f28b8b" stroke="#2a2a2a" stroke-width="0.4"/>
<text x="601.4" y="244.6">HSV-1 <tspan style="font-style:italic">RHIM</tspan><tspan style="font-size:5.6px;font-style:italic" dy="-3">mut</tspan></text>
<line x1="589.00" y1="252.10" x2="598.80" y2="252.10" stroke="#1a1a1a" stroke-width="0.5"/>
<circle cx="594.0" cy="252.1" r="1.8" fill="#e62328" stroke="#2a2a2a" stroke-width="0.4"/>
<text x="601.4" y="254.7">HSV-1 <tspan style="font-style:italic">RHIM</tspan><tspan style="font-size:5.6px;font-style:italic" dy="-3">mut</tspan><tspan dy="3" dx="1.2" style="font-style:italic">ΔICP27</tspan></text>
<line x1="589.00" y1="275.90" x2="598.80" y2="275.90" stroke="#1a1a1a" stroke-width="0.5"/>
<circle cx="594.0" cy="275.9" r="1.8" fill="#dce8f7" stroke="#2a2a2a" stroke-width="0.4"/>
<text x="601.4" y="278.5">Mock</text>
<line x1="589.00" y1="285.70" x2="598.80" y2="285.70" stroke="#1a1a1a" stroke-width="0.5"/>
<circle cx="594.0" cy="285.7" r="1.8" fill="#8fb4ea" stroke="#2a2a2a" stroke-width="0.4"/>
<text x="601.4" y="288.3">HSV-1 <tspan style="font-style:italic">RHIM</tspan><tspan style="font-size:5.6px;font-style:italic" dy="-3">mut</tspan></text>
<line x1="589.00" y1="295.50" x2="598.80" y2="295.50" stroke="#1a1a1a" stroke-width="0.5"/>
<circle cx="594.0" cy="295.5" r="1.8" fill="#3b82d9" stroke="#2a2a2a" stroke-width="0.4"/>
<text x="601.4" y="298.1">HSV-1 <tspan style="font-style:italic">RHIM</tspan><tspan style="font-size:5.6px;font-style:italic" dy="-3">mut</tspan><tspan dy="3" dx="1.2" style="font-style:italic">ΔICP27</tspan></text>
</svg>
</body></html>
